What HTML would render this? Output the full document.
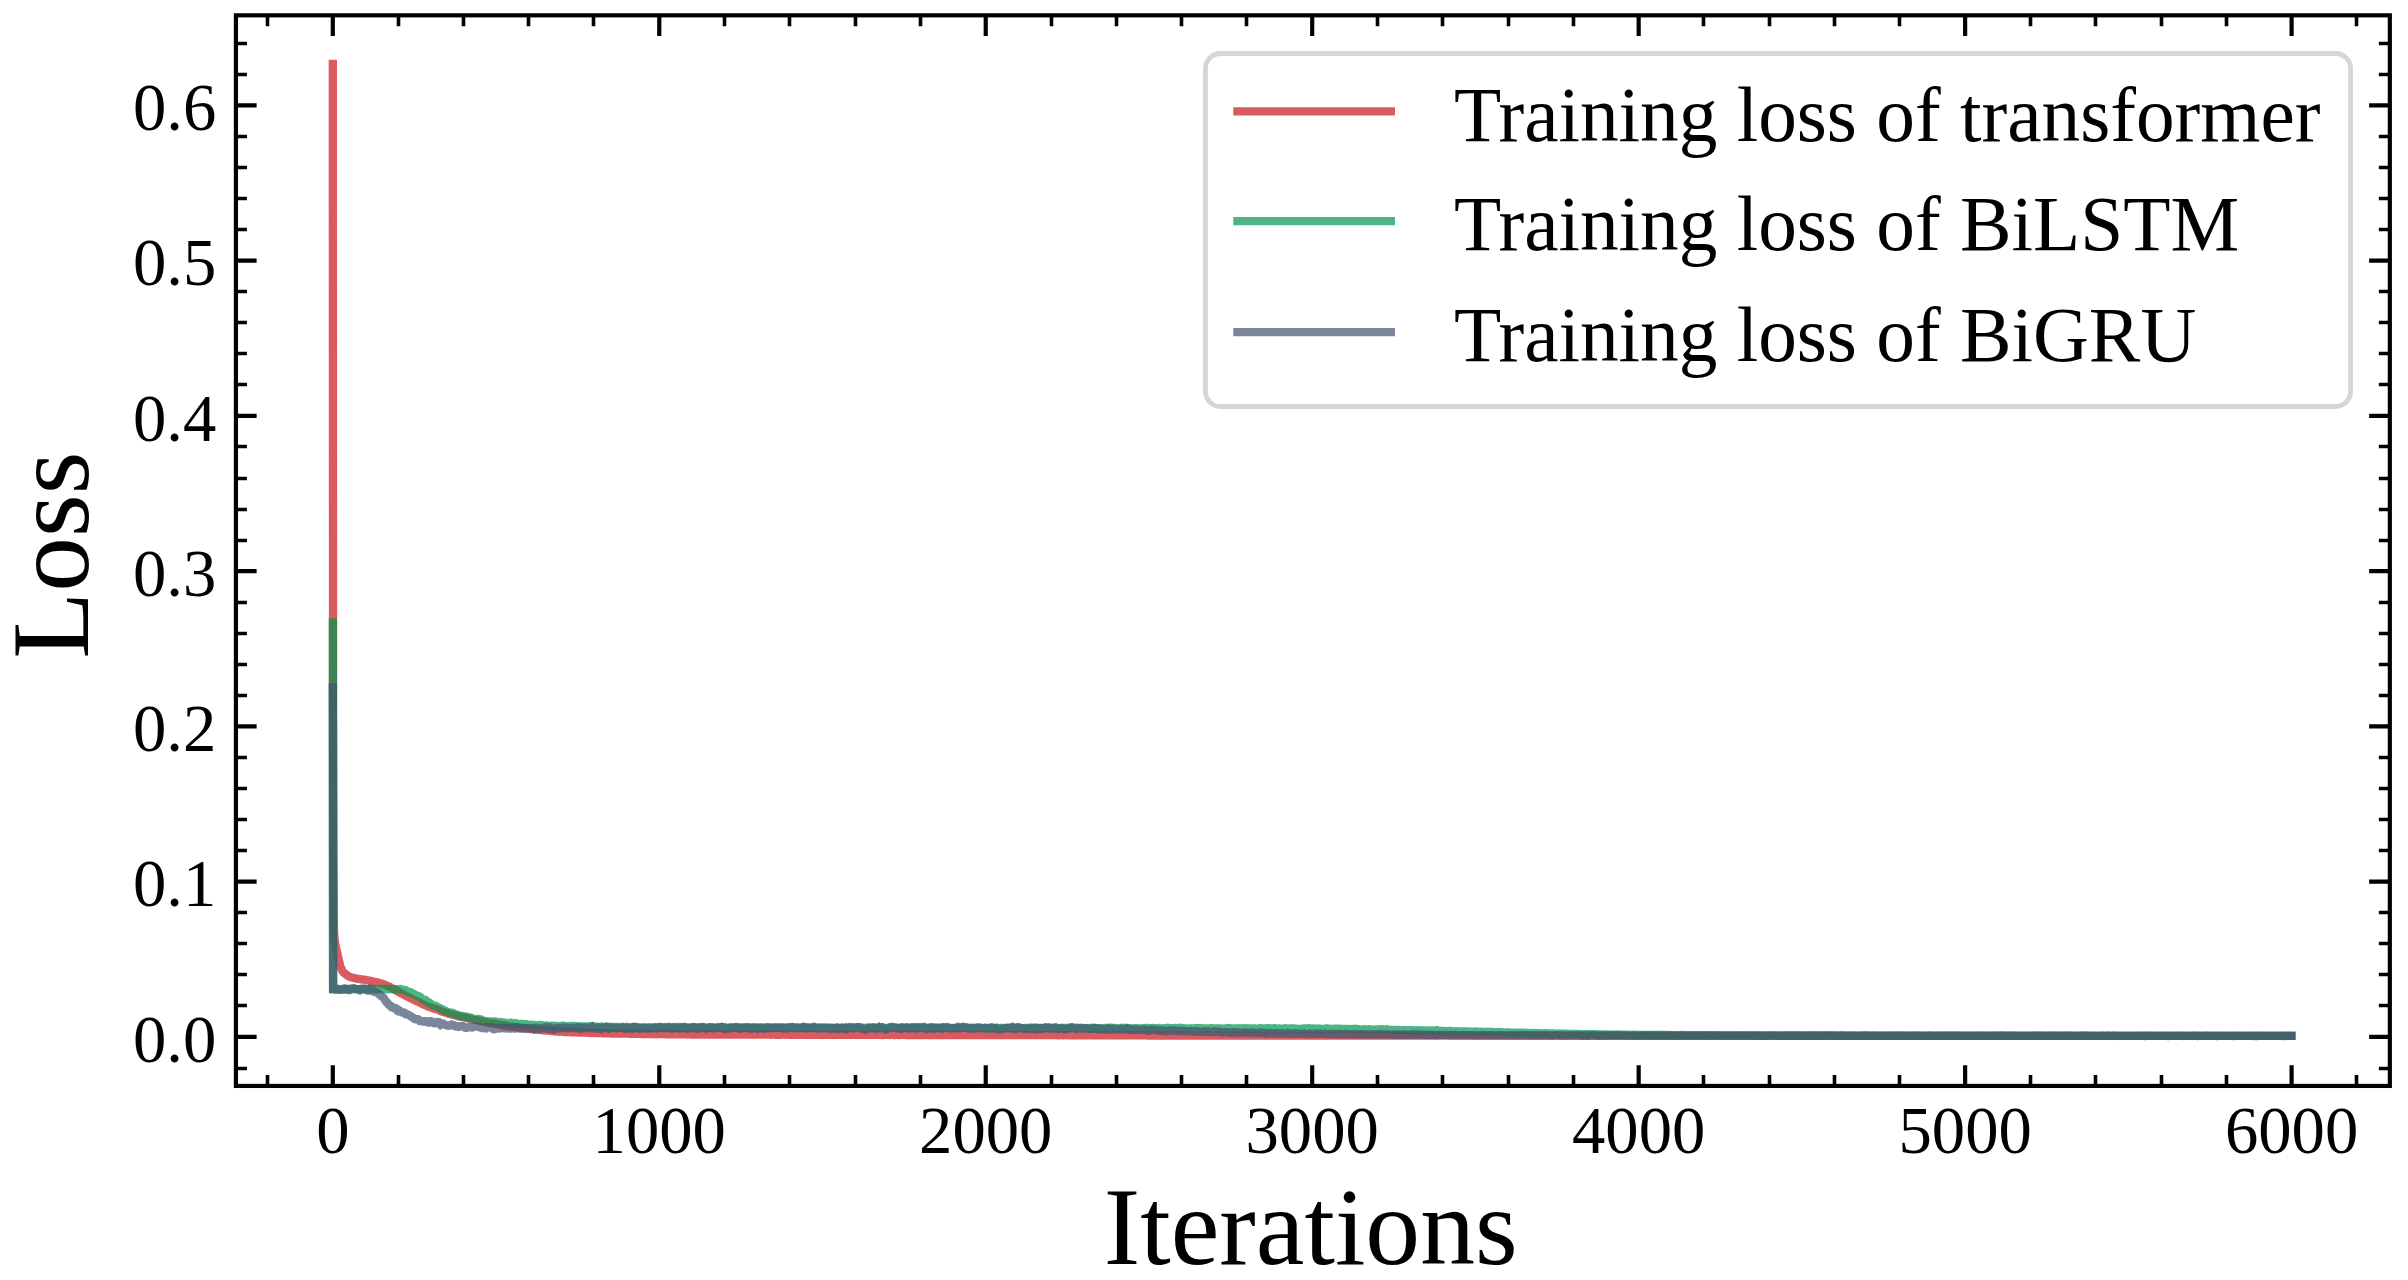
<!DOCTYPE html>
<html lang="en"><head><meta charset="utf-8"><title>Training loss</title>
<style>
html,body{margin:0;padding:0;background:#fff;}
body{width:2408px;height:1280px;overflow:hidden;}
svg{display:block;}
text{font-family:"Liberation Serif",serif;fill:#000;}
.tk{font-size:66.67px;}
.lb{font-size:109.6px;}
.lg{font-size:77.3px;}
</style></head><body>
<svg width="2408" height="1280" viewBox="0 0 2408 1280">
<rect width="2408" height="1280" fill="#fff"/>

<defs><clipPath id="ax"><rect x="235.92" y="15.33" width="2153.92" height="1070.61"/></clipPath></defs>
<g clip-path="url(#ax)" fill="none" stroke-linejoin="miter" stroke-miterlimit="1.6" stroke-linecap="square" stroke-width="8.33" stroke-opacity="0.70">
<polyline stroke="rgb(201,21,28)" points="332.8,64.0 333.1,700.0 333.5,860.0 333.8,920.0 334.1,932.4 334.4,938.1 334.8,941.1 335.1,943.3 335.4,944.9 335.7,946.3 336.1,947.7 336.4,949.3 336.7,950.8 337.0,952.2 337.4,953.6 337.7,955.0 338.0,956.4 338.3,957.7 338.7,959.2 339.0,960.7 339.3,962.2 339.7,963.6 340.0,964.9 340.3,966.1 340.6,967.0 341.0,967.7 341.3,968.5 341.6,969.2 341.9,969.9 342.3,970.6 342.6,971.2 342.9,971.7 343.2,972.2 343.6,972.6 343.9,972.9 344.2,973.2 344.6,973.4 344.9,973.6 345.2,973.9 345.5,974.1 345.9,974.3 346.2,974.6 346.5,974.8 346.8,975.1 347.2,975.3 347.5,975.6 347.8,975.8 348.1,976.0 348.5,976.2 348.8,976.4 349.1,976.6 349.4,976.7 349.8,976.8 350.1,977.0 350.4,977.1 350.8,977.2 351.1,977.3 351.4,977.4 351.7,977.4 352.1,977.5 352.4,977.6 353.0,977.8 353.7,977.9 354.3,978.1 355.0,978.3 355.7,978.5 356.3,978.6 357.0,978.7 357.6,978.8 358.3,978.8 358.9,978.9 359.6,979.0 360.2,979.2 360.9,979.3 361.5,979.5 362.2,979.6 362.8,979.6 363.5,979.6 364.1,979.6 364.8,979.7 365.4,979.9 366.1,980.1 366.8,980.2 367.4,980.3 368.1,980.4 368.7,980.5 369.4,980.7 370.0,980.8 370.7,980.9 371.3,981.0 372.0,981.1 372.6,981.3 373.3,981.5 373.9,981.6 374.6,981.7 375.2,981.9 375.9,982.1 376.5,982.2 377.2,982.3 377.9,982.5 378.5,982.7 379.2,983.0 379.8,983.2 380.5,983.4 381.1,983.5 381.8,983.7 382.4,983.8 383.1,984.1 383.7,984.3 384.4,984.5 385.0,984.8 385.7,985.1 386.3,985.5 387.0,985.7 387.6,985.9 388.3,986.1 389.0,986.4 389.6,986.7 390.3,987.1 390.9,987.6 391.6,988.0 392.2,988.4 392.9,988.7 393.5,988.9 394.2,989.2 394.8,989.6 395.5,990.0 396.1,990.3 396.8,990.8 397.4,991.3 398.1,991.7 398.7,992.0 399.4,992.3 400.1,992.7 400.7,993.1 401.4,993.4 402.0,993.7 402.7,994.1 403.3,994.4 404.0,994.8 404.6,995.2 405.3,995.6 405.9,995.8 406.6,996.1 407.2,996.5 407.9,996.9 408.5,997.2 409.2,997.5 409.8,997.9 410.5,998.2 411.2,998.5 411.8,998.9 412.5,999.2 413.1,999.5 413.8,999.9 414.4,1000.2 415.1,1000.5 415.7,1000.8 416.4,1001.1 417.0,1001.4 417.7,1001.7 418.3,1001.9 419.0,1002.2 419.6,1002.6 420.3,1002.9 420.9,1003.2 421.6,1003.6 422.3,1003.9 422.9,1004.2 423.6,1004.5 424.2,1004.8 424.9,1005.1 425.5,1005.3 426.2,1005.6 426.8,1005.8 427.5,1006.1 428.1,1006.5 428.8,1006.8 429.4,1007.1 430.1,1007.3 430.7,1007.4 431.4,1007.6 432.0,1007.9 432.7,1008.2 433.4,1008.5 434.0,1008.7 434.7,1008.8 435.3,1008.9 436.0,1009.1 436.6,1009.4 437.3,1009.6 437.9,1009.8 438.6,1010.0 439.2,1010.3 439.9,1010.7 440.5,1011.0 441.2,1011.2 441.8,1011.5 442.5,1011.7 443.1,1011.8 443.8,1012.0 444.5,1012.2 445.1,1012.4 445.8,1012.7 446.4,1012.9 447.1,1013.1 447.7,1013.3 448.4,1013.6 449.0,1013.7 449.7,1013.9 450.3,1014.1 451.0,1014.3 451.6,1014.5 452.3,1014.7 452.9,1014.9 453.6,1015.0 454.2,1015.1 454.9,1015.2 455.6,1015.4 456.2,1015.7 456.9,1015.9 457.5,1016.1 458.2,1016.2 458.8,1016.3 459.5,1016.5 460.1,1016.7 460.8,1016.7 461.4,1016.8 462.1,1016.9 462.7,1017.1 463.4,1017.2 464.0,1017.4 464.7,1017.6 465.3,1017.8 466.0,1017.9 466.7,1017.9 467.3,1018.0 468.0,1018.2 468.6,1018.5 469.3,1018.7 469.9,1018.8 470.6,1018.9 471.2,1019.1 471.9,1019.2 472.5,1019.4 473.2,1019.6 473.8,1019.7 474.5,1019.8 475.1,1019.8 475.8,1019.9 476.4,1020.0 477.1,1020.4 477.8,1020.6 478.4,1020.7 479.1,1020.9 479.7,1021.0 480.4,1021.0 481.0,1021.1 481.7,1021.4 482.3,1021.6 483.0,1021.8 483.6,1021.9 484.3,1021.9 484.9,1021.9 485.6,1022.0 486.2,1022.1 486.9,1022.2 487.5,1022.4 488.2,1022.6 488.9,1022.7 489.5,1022.9 490.2,1023.1 490.8,1023.3 491.5,1023.4 492.1,1023.4 492.8,1023.4 493.4,1023.6 494.1,1023.7 494.7,1023.7 495.4,1023.8 496.0,1023.9 496.7,1024.0 497.3,1024.1 498.0,1024.3 498.6,1024.5 499.3,1024.6 500.0,1024.6 500.6,1024.8 501.3,1025.0 501.9,1025.1 502.6,1025.2 503.2,1025.4 503.9,1025.5 504.5,1025.5 505.2,1025.4 505.8,1025.4 506.5,1025.6 507.1,1025.9 507.8,1026.2 508.4,1026.3 509.1,1026.4 509.7,1026.4 510.4,1026.5 511.1,1026.5 511.7,1026.6 512.4,1026.6 513.0,1026.7 513.7,1026.9 514.3,1027.1 515.0,1027.1 515.6,1027.2 516.3,1027.3 516.9,1027.4 517.6,1027.5 518.2,1027.5 518.9,1027.7 519.5,1027.7 520.2,1027.6 520.8,1027.6 521.5,1027.8 522.2,1028.0 522.8,1028.1 523.5,1028.0 524.1,1028.0 524.8,1028.0 525.4,1028.1 526.1,1028.2 526.7,1028.3 527.4,1028.5 528.0,1028.6 528.7,1028.8 529.3,1028.9 530.0,1029.0 530.6,1029.0 531.3,1029.0 531.9,1029.1 532.6,1029.2 533.3,1029.3 533.9,1029.4 534.6,1029.6 535.2,1029.6 535.9,1029.6 536.5,1029.7 537.2,1029.8 537.8,1029.9 538.5,1029.9 539.1,1029.9 539.8,1029.9 540.4,1030.0 541.1,1030.1 541.7,1030.2 542.4,1030.3 543.0,1030.2 543.7,1030.2 544.4,1030.3 545.0,1030.4 545.7,1030.5 546.3,1030.5 547.0,1030.6 547.6,1030.6 548.3,1030.7 548.9,1030.7 549.6,1030.8 550.2,1031.0 550.9,1031.1 551.5,1031.0 552.2,1031.1 552.8,1031.2 553.5,1031.2 554.1,1031.3 554.8,1031.3 555.5,1031.4 556.1,1031.5 556.8,1031.5 557.4,1031.5 558.1,1031.5 558.7,1031.6 559.4,1031.7 560.0,1031.6 560.7,1031.6 561.3,1031.6 562.0,1031.6 562.6,1031.7 563.3,1031.8 563.9,1031.9 564.6,1032.0 565.2,1032.0 565.9,1032.0 566.6,1032.0 567.2,1032.1 567.9,1032.2 568.5,1032.2 569.2,1032.1 569.8,1032.1 570.5,1032.2 571.1,1032.3 571.8,1032.3 572.4,1032.2 573.1,1032.3 573.7,1032.3 574.4,1032.3 575.0,1032.3 575.7,1032.4 576.3,1032.4 577.0,1032.4 577.7,1032.4 578.3,1032.5 579.0,1032.5 579.6,1032.5 580.3,1032.5 580.9,1032.5 581.6,1032.6 582.2,1032.6 582.9,1032.7 583.5,1032.7 584.2,1032.7 584.8,1032.7 585.5,1032.6 586.1,1032.6 586.8,1032.7 587.4,1032.7 588.1,1032.8 588.7,1032.8 589.4,1032.8 590.1,1032.9 590.7,1032.9 591.4,1033.0 592.0,1033.0 592.7,1032.9 593.3,1032.9 594.0,1032.9 594.6,1032.9 595.3,1033.0 595.9,1033.0 596.6,1033.1 597.2,1033.1 597.9,1033.1 598.5,1033.1 599.2,1033.1 599.8,1033.1 600.5,1033.2 601.2,1033.2 601.8,1033.2 602.5,1033.2 603.1,1033.3 603.8,1033.3 604.4,1033.3 605.1,1033.3 605.7,1033.3 606.4,1033.3 607.0,1033.3 607.7,1033.4 608.3,1033.4 609.0,1033.4 609.6,1033.4 610.3,1033.4 610.9,1033.4 611.6,1033.5 612.3,1033.5 612.9,1033.6 613.6,1033.6 614.2,1033.6 614.9,1033.5 615.5,1033.6 616.2,1033.6 616.8,1033.6 617.5,1033.5 618.1,1033.5 618.8,1033.6 619.4,1033.6 620.1,1033.6 620.7,1033.6 621.4,1033.7 622.0,1033.7 622.7,1033.7 623.4,1033.7 624.0,1033.7 624.7,1033.7 625.3,1033.7 626.0,1033.7 626.6,1033.7 627.3,1033.7 627.9,1033.7 628.6,1033.7 629.2,1033.7 629.9,1033.8 630.5,1033.8 631.2,1033.8 631.8,1033.8 632.5,1033.8 633.1,1033.8 633.8,1033.8 634.5,1033.9 635.1,1033.9 635.8,1033.9 636.4,1033.8 637.1,1033.8 637.7,1033.8 638.4,1033.9 639.0,1033.9 639.7,1033.9 640.3,1033.9 641.0,1034.0 641.6,1034.0 642.3,1034.0 642.9,1033.9 643.6,1033.9 644.2,1034.0 644.9,1034.0 645.6,1034.0 646.2,1034.0 646.9,1034.0 647.5,1034.0 648.2,1034.0 648.8,1034.0 649.5,1034.0 650.1,1034.0 650.8,1034.1 651.4,1034.1 652.1,1034.1 652.7,1034.1 653.4,1034.1 654.0,1034.1 654.7,1034.1 655.3,1034.1 656.0,1034.2 656.7,1034.1 657.3,1034.1 658.0,1034.1 658.6,1034.1 659.3,1034.2 659.9,1034.2 660.6,1034.2 661.2,1034.2 661.9,1034.2 662.5,1034.2 663.2,1034.1 663.8,1034.1 664.5,1034.2 665.1,1034.2 665.8,1034.3 666.4,1034.3 667.1,1034.3 667.8,1034.3 668.4,1034.3 669.1,1034.3 669.7,1034.3 670.4,1034.3 671.0,1034.3 671.7,1034.3 672.3,1034.2 673.0,1034.2 673.6,1034.3 674.3,1034.3 674.9,1034.3 675.6,1034.3 676.2,1034.3 676.9,1034.3 677.5,1034.3 678.2,1034.4 678.9,1034.4 679.5,1034.4 680.2,1034.4 680.8,1034.4 681.5,1034.4 682.1,1034.4 682.8,1034.4 683.4,1034.4 684.1,1034.4 684.7,1034.4 685.4,1034.4 686.0,1034.4 686.7,1034.4 687.3,1034.5 688.0,1034.4 688.6,1034.4 689.3,1034.4 690.0,1034.4 690.6,1034.4 691.3,1034.5 691.9,1034.5 692.6,1034.5 693.2,1034.5 693.9,1034.5 694.5,1034.5 695.2,1034.5 695.8,1034.5 696.5,1034.5 697.1,1034.5 697.8,1034.5 698.4,1034.5 699.1,1034.5 699.7,1034.5 700.4,1034.5 701.1,1034.5 701.7,1034.5 702.4,1034.5 703.0,1034.5 703.7,1034.5 704.3,1034.5 705.0,1034.5 705.6,1034.5 706.3,1034.5 706.9,1034.6 707.6,1034.6 708.2,1034.5 708.9,1034.5 709.5,1034.5 710.2,1034.5 710.8,1034.5 711.5,1034.5 712.2,1034.5 712.8,1034.6 713.5,1034.6 714.1,1034.6 714.8,1034.6 715.4,1034.6 716.1,1034.6 716.7,1034.6 717.4,1034.6 718.0,1034.6 718.7,1034.6 719.3,1034.5 720.0,1034.6 720.6,1034.6 721.3,1034.6 721.9,1034.6 722.6,1034.6 723.3,1034.6 723.9,1034.6 724.6,1034.6 725.2,1034.6 725.9,1034.6 726.5,1034.6 727.2,1034.6 727.8,1034.6 728.5,1034.6 729.1,1034.6 729.8,1034.6 730.4,1034.6 731.1,1034.6 731.7,1034.6 732.4,1034.6 733.0,1034.6 733.7,1034.7 734.4,1034.7 735.0,1034.6 735.7,1034.6 736.3,1034.6 737.0,1034.6 737.6,1034.6 738.3,1034.6 738.9,1034.6 739.6,1034.6 740.2,1034.6 740.9,1034.6 741.5,1034.7 742.2,1034.7 742.8,1034.7 743.5,1034.7 744.1,1034.7 744.8,1034.7 745.5,1034.7 746.1,1034.7 746.8,1034.7 747.4,1034.7 748.1,1034.7 748.7,1034.7 749.4,1034.7 750.0,1034.7 750.7,1034.7 751.3,1034.6 752.0,1034.6 752.6,1034.7 753.3,1034.7 753.9,1034.7 754.6,1034.7 755.2,1034.7 755.9,1034.7 756.6,1034.7 757.2,1034.7 757.9,1034.7 758.5,1034.7 759.2,1034.7 759.8,1034.7 760.5,1034.7 761.1,1034.7 761.8,1034.7 762.4,1034.7 763.1,1034.7 763.7,1034.7 764.4,1034.7 765.0,1034.7 765.7,1034.7 766.3,1034.7 767.0,1034.7 767.7,1034.7 768.3,1034.7 769.0,1034.7 769.6,1034.7 770.3,1034.8 770.9,1034.7 771.6,1034.7 772.2,1034.7 772.9,1034.7 773.5,1034.7 774.2,1034.7 774.8,1034.7 775.5,1034.8 776.1,1034.8 776.8,1034.8 777.4,1034.8 778.1,1034.8 778.8,1034.7 779.4,1034.7 780.1,1034.8 780.7,1034.8 781.4,1034.8 782.0,1034.7 782.7,1034.7 783.3,1034.7 784.0,1034.7 784.6,1034.7 785.3,1034.8 785.9,1034.8 786.6,1034.7 787.2,1034.7 787.9,1034.7 788.5,1034.7 789.2,1034.8 789.9,1034.8 790.5,1034.8 791.2,1034.8 791.8,1034.8 792.5,1034.8 793.1,1034.8 793.8,1034.8 794.4,1034.8 795.1,1034.8 795.7,1034.8 796.4,1034.8 797.0,1034.8 797.7,1034.8 798.3,1034.8 799.0,1034.8 799.6,1034.8 800.3,1034.8 801.0,1034.7 801.6,1034.7 802.3,1034.7 802.9,1034.8 803.6,1034.8 804.2,1034.8 804.9,1034.8 805.5,1034.8 806.2,1034.8 806.8,1034.8 807.5,1034.8 808.1,1034.8 808.8,1034.8 809.4,1034.8 810.1,1034.8 810.7,1034.8 811.4,1034.8 812.1,1034.8 812.7,1034.8 813.4,1034.8 814.0,1034.8 814.7,1034.8 815.3,1034.8 816.0,1034.8 816.6,1034.8 817.3,1034.8 817.9,1034.8 818.6,1034.8 819.2,1034.8 819.9,1034.8 820.5,1034.8 821.2,1034.8 821.8,1034.8 822.5,1034.9 823.2,1034.9 823.8,1034.9 824.5,1034.9 825.1,1034.9 825.8,1034.9 826.4,1034.9 827.1,1034.9 827.7,1034.9 828.4,1034.9 829.0,1034.9 829.7,1034.8 830.3,1034.8 831.0,1034.8 831.6,1034.8 832.3,1034.8 832.9,1034.8 833.6,1034.9 834.3,1034.9 834.9,1034.9 835.6,1034.9 836.2,1034.9 836.9,1034.9 837.5,1034.9 838.2,1034.9 838.8,1034.9 839.5,1034.9 840.1,1034.9 840.8,1034.9 841.4,1034.9 842.1,1034.9 842.7,1034.9 843.4,1034.9 844.0,1034.9 844.7,1034.8 845.4,1034.8 846.0,1034.9 846.7,1034.9 847.3,1034.9 848.0,1034.8 848.6,1034.8 849.3,1034.9 849.9,1034.9 850.6,1034.9 851.2,1034.9 851.9,1034.9 852.5,1034.9 853.2,1034.9 853.8,1034.9 854.5,1034.9 855.1,1034.9 855.8,1034.9 856.5,1034.9 857.1,1034.8 857.8,1034.9 858.4,1034.9 859.1,1034.9 859.7,1034.9 860.4,1034.9 861.0,1034.9 861.7,1034.9 862.3,1034.9 863.0,1034.9 863.6,1034.9 864.3,1034.9 864.9,1034.9 865.6,1034.9 866.2,1034.9 866.9,1034.9 867.6,1034.9 868.2,1034.9 868.9,1034.9 869.5,1034.9 870.2,1034.9 870.8,1034.9 871.5,1034.9 872.1,1034.9 872.8,1034.9 873.4,1034.9 874.1,1034.9 874.7,1034.9 875.4,1034.9 876.0,1034.9 876.7,1034.9 877.3,1034.9 878.0,1034.9 878.7,1034.9 879.3,1034.9 880.0,1034.9 880.6,1034.9 881.3,1034.9 881.9,1035.0 882.6,1035.0 883.2,1034.9 883.9,1034.9 884.5,1034.9 885.2,1034.9 885.8,1034.9 886.5,1034.9 887.1,1034.9 887.8,1034.9 888.4,1034.9 889.1,1034.9 889.8,1035.0 890.4,1035.0 891.1,1034.9 891.7,1034.9 892.4,1034.9 893.0,1034.9 893.7,1035.0 894.3,1035.0 895.0,1035.0 895.6,1034.9 896.3,1034.9 896.9,1034.9 897.6,1034.9 898.2,1035.0 898.9,1035.0 899.5,1034.9 900.2,1034.9 900.9,1034.9 901.5,1034.9 902.2,1034.9 902.8,1034.9 903.5,1034.9 904.1,1034.9 904.8,1034.9 905.4,1035.0 906.1,1035.0 906.7,1034.9 907.4,1034.9 908.0,1035.0 908.7,1035.0 909.3,1035.0 910.0,1035.0 910.6,1035.0 911.3,1035.0 912.0,1035.0 912.6,1035.0 913.3,1035.0 913.9,1035.0 914.6,1035.0 915.2,1035.0 915.9,1035.0 916.5,1035.0 917.2,1035.0 917.8,1034.9 918.5,1034.9 919.1,1035.0 919.8,1035.0 920.4,1035.0 921.1,1035.0 921.7,1035.0 922.4,1035.0 923.1,1035.0 923.7,1035.0 924.4,1035.0 925.0,1035.0 925.7,1035.0 926.3,1035.0 927.0,1035.0 927.6,1035.0 928.3,1035.0 928.9,1035.0 929.6,1035.0 930.2,1035.0 930.9,1035.0 931.5,1035.0 932.2,1035.0 932.8,1035.0 933.5,1035.0 934.2,1035.0 934.8,1035.0 935.5,1035.0 936.1,1035.0 936.8,1035.0 937.4,1035.0 938.1,1035.0 938.7,1035.0 939.4,1035.0 940.0,1035.0 940.7,1035.0 941.3,1035.0 942.0,1035.0 942.6,1035.0 943.3,1035.0 943.9,1035.0 944.6,1035.0 945.3,1035.0 945.9,1035.1 946.6,1035.1 947.2,1035.0 947.9,1035.0 948.5,1035.0 949.2,1035.0 949.8,1035.0 950.5,1035.0 951.1,1035.0 951.8,1035.0 952.4,1035.0 953.1,1035.0 953.7,1035.0 954.4,1035.0 955.0,1035.0 955.7,1035.0 956.4,1035.0 957.0,1035.0 957.7,1035.0 958.3,1035.0 959.0,1035.0 959.6,1035.0 960.3,1035.0 960.9,1035.0 961.6,1035.0 962.2,1035.0 962.9,1035.0 963.5,1035.0 964.2,1035.1 964.8,1035.1 965.5,1035.0 966.1,1035.0 966.8,1035.0 967.5,1035.1 968.1,1035.1 968.8,1035.1 969.4,1035.1 970.1,1035.1 970.7,1035.1 971.4,1035.1 972.0,1035.1 972.7,1035.1 973.3,1035.1 974.0,1035.1 974.6,1035.1 975.3,1035.1 975.9,1035.1 976.6,1035.1 977.2,1035.1 977.9,1035.1 978.6,1035.1 979.2,1035.1 979.9,1035.1 980.5,1035.1 981.2,1035.1 981.8,1035.1 982.5,1035.1 983.1,1035.1 983.8,1035.1 984.4,1035.1 985.1,1035.1 985.7,1035.1 986.4,1035.1 987.0,1035.1 987.7,1035.1 988.3,1035.1 989.0,1035.1 989.7,1035.1 990.3,1035.1 991.0,1035.1 991.6,1035.1 992.3,1035.1 992.9,1035.1 993.6,1035.1 994.2,1035.1 994.9,1035.1 995.5,1035.1 996.2,1035.1 996.8,1035.1 997.5,1035.1 998.1,1035.1 998.8,1035.1 999.4,1035.1 1000.1,1035.1 1000.8,1035.1 1001.4,1035.1 1002.1,1035.2 1002.7,1035.1 1003.4,1035.1 1004.0,1035.1 1004.7,1035.1 1005.3,1035.1 1006.0,1035.1 1006.6,1035.1 1007.3,1035.1 1007.9,1035.1 1008.6,1035.1 1009.2,1035.1 1009.9,1035.1 1010.5,1035.1 1011.2,1035.1 1011.9,1035.1 1012.5,1035.1 1013.2,1035.1 1013.8,1035.1 1014.5,1035.1 1015.1,1035.1 1015.8,1035.1 1016.4,1035.1 1017.1,1035.2 1017.7,1035.2 1018.4,1035.2 1019.0,1035.2 1019.7,1035.1 1020.3,1035.1 1021.0,1035.2 1021.6,1035.2 1022.3,1035.2 1023.0,1035.1 1023.6,1035.1 1024.3,1035.2 1024.9,1035.2 1025.6,1035.2 1026.2,1035.1 1026.9,1035.1 1027.5,1035.1 1028.2,1035.1 1028.8,1035.1 1029.5,1035.1 1030.1,1035.1 1030.8,1035.1 1031.4,1035.1 1032.1,1035.2 1032.7,1035.2 1033.4,1035.2 1034.1,1035.2 1034.7,1035.2 1035.4,1035.2 1036.0,1035.2 1036.7,1035.2 1037.3,1035.2 1038.0,1035.2 1038.6,1035.2 1039.3,1035.2 1039.9,1035.2 1040.6,1035.2 1041.2,1035.2 1041.9,1035.2 1042.5,1035.2 1043.2,1035.2 1043.8,1035.2 1044.5,1035.2 1045.2,1035.2 1045.8,1035.2 1046.5,1035.2 1047.1,1035.2 1047.8,1035.2 1048.4,1035.2 1049.1,1035.2 1049.7,1035.2 1050.4,1035.2 1051.0,1035.2 1051.7,1035.2 1052.3,1035.2 1053.0,1035.2 1053.6,1035.2 1054.3,1035.2 1054.9,1035.2 1055.6,1035.2 1056.3,1035.2 1056.9,1035.3 1057.6,1035.3 1058.2,1035.3 1058.9,1035.3 1059.5,1035.3 1060.2,1035.2 1060.8,1035.2 1061.5,1035.2 1062.1,1035.2 1062.8,1035.3 1063.4,1035.3 1064.1,1035.2 1064.7,1035.2 1065.4,1035.2 1066.0,1035.2 1066.7,1035.3 1067.4,1035.3 1068.0,1035.2 1068.7,1035.2 1069.3,1035.2 1070.0,1035.3 1070.6,1035.3 1071.3,1035.3 1071.9,1035.3 1072.6,1035.3 1073.2,1035.3 1073.9,1035.3 1074.5,1035.3 1075.2,1035.2 1075.8,1035.2 1076.5,1035.3 1077.1,1035.3 1077.8,1035.3 1078.4,1035.3 1079.1,1035.3 1079.8,1035.3 1080.4,1035.3 1081.1,1035.3 1081.7,1035.3 1082.4,1035.3 1083.0,1035.3 1083.7,1035.3 1084.3,1035.3 1085.0,1035.3 1085.6,1035.3 1086.3,1035.3 1086.9,1035.3 1087.6,1035.3 1088.2,1035.3 1088.9,1035.3 1089.5,1035.3 1090.2,1035.3 1090.9,1035.3 1091.5,1035.3 1092.2,1035.3 1092.8,1035.3 1093.5,1035.3 1094.1,1035.3 1094.8,1035.3 1095.4,1035.3 1096.1,1035.3 1096.7,1035.3 1097.4,1035.3 1098.0,1035.3 1098.7,1035.3 1099.3,1035.3 1100.0,1035.3 1100.6,1035.3 1101.3,1035.3 1102.0,1035.3 1102.6,1035.3 1103.3,1035.3 1103.9,1035.3 1104.6,1035.3 1105.2,1035.4 1105.9,1035.4 1106.5,1035.3 1107.2,1035.3 1107.8,1035.3 1108.5,1035.3 1109.1,1035.3 1109.8,1035.3 1110.4,1035.3 1111.1,1035.4 1111.7,1035.4 1112.4,1035.4 1113.1,1035.4 1113.7,1035.4 1114.4,1035.4 1115.0,1035.3 1115.7,1035.3 1116.3,1035.4 1117.0,1035.4 1117.6,1035.4 1118.3,1035.4 1118.9,1035.4 1119.6,1035.4 1120.2,1035.4 1120.9,1035.4 1121.5,1035.4 1122.2,1035.4 1122.8,1035.4 1123.5,1035.4 1124.2,1035.4 1124.8,1035.4 1125.5,1035.4 1126.1,1035.4 1126.8,1035.4 1127.4,1035.4 1128.1,1035.4 1128.7,1035.4 1129.4,1035.4 1130.0,1035.4 1130.7,1035.4 1131.3,1035.4 1132.0,1035.4 1132.6,1035.4 1133.3,1035.4 1133.9,1035.4 1134.6,1035.4 1135.3,1035.4 1135.9,1035.4 1136.6,1035.4 1137.2,1035.4 1137.9,1035.4 1138.5,1035.4 1139.2,1035.4 1139.8,1035.4 1140.5,1035.4 1141.1,1035.5 1141.8,1035.4 1142.4,1035.4 1143.1,1035.4 1143.7,1035.4 1144.4,1035.4 1145.0,1035.4 1145.7,1035.4 1146.4,1035.4 1147.0,1035.4 1147.7,1035.5 1148.3,1035.5 1149.0,1035.5 1149.6,1035.5 1150.3,1035.5 1150.9,1035.4 1151.6,1035.4 1152.2,1035.5 1152.9,1035.5 1153.5,1035.5 1154.2,1035.5 1154.8,1035.5 1155.5,1035.5 1156.1,1035.5 1156.8,1035.5 1157.5,1035.5 1158.1,1035.5 1158.8,1035.5 1159.4,1035.5 1160.1,1035.5 1160.7,1035.5 1161.4,1035.5 1162.0,1035.5 1162.7,1035.5 1163.3,1035.5 1164.0,1035.5 1164.6,1035.5 1165.3,1035.5 1165.9,1035.5 1166.6,1035.5 1167.2,1035.5 1167.9,1035.5 1168.6,1035.5 1169.2,1035.5 1169.9,1035.5 1170.5,1035.5 1171.2,1035.5 1171.8,1035.5 1172.5,1035.5 1173.1,1035.5 1173.8,1035.5 1174.4,1035.5 1175.1,1035.5 1175.7,1035.5 1176.4,1035.5 1177.0,1035.5 1177.7,1035.5 1178.3,1035.5 1179.0,1035.5 1179.7,1035.5 1180.3,1035.5 1181.0,1035.5 1181.6,1035.5 1182.3,1035.5 1182.9,1035.5 1183.6,1035.5 1184.2,1035.5 1184.9,1035.5 1185.5,1035.5 1186.2,1035.5 1186.8,1035.5 1187.5,1035.5 1188.1,1035.5 1188.8,1035.5 1189.4,1035.5 1190.1,1035.5 1190.8,1035.6 1191.4,1035.6 1192.1,1035.5 1192.7,1035.5 1193.4,1035.5 1194.0,1035.5 1194.7,1035.5 1195.3,1035.5 1196.0,1035.5 1196.6,1035.5 1197.3,1035.5 1197.9,1035.5 1198.6,1035.5 1199.2,1035.5 1199.9,1035.5 1200.5,1035.6 1201.2,1035.6 1201.9,1035.6 1202.5,1035.6 1203.2,1035.6 1203.8,1035.6 1204.5,1035.5 1205.1,1035.5 1205.8,1035.5 1206.4,1035.6 1207.1,1035.5 1207.7,1035.5 1208.4,1035.5 1209.0,1035.6 1209.7,1035.6 1210.3,1035.6 1211.0,1035.6 1211.6,1035.6 1212.3,1035.6 1213.0,1035.6 1213.6,1035.6 1214.3,1035.6 1214.9,1035.6 1215.6,1035.6 1216.2,1035.6 1216.9,1035.6 1217.5,1035.6 1218.2,1035.6 1218.8,1035.6 1219.5,1035.6 1220.1,1035.6 1220.8,1035.6 1221.4,1035.6 1222.1,1035.6 1222.7,1035.6 1223.4,1035.6 1224.1,1035.6 1224.7,1035.6 1225.4,1035.6 1226.0,1035.6 1226.7,1035.6 1227.3,1035.6 1228.0,1035.6 1228.6,1035.6 1229.3,1035.6 1229.9,1035.6 1230.6,1035.6 1231.2,1035.6 1231.9,1035.6 1232.5,1035.6 1233.2,1035.6 1233.8,1035.6 1234.5,1035.6 1235.2,1035.6 1235.8,1035.6 1236.5,1035.6 1237.1,1035.6 1237.8,1035.6 1238.4,1035.6 1239.1,1035.6 1239.7,1035.6 1240.4,1035.6 1241.0,1035.6 1241.7,1035.6 1242.3,1035.6 1243.0,1035.6 1243.6,1035.6 1244.3,1035.6 1244.9,1035.6 1245.6,1035.6 1246.3,1035.6 1246.9,1035.6 1247.6,1035.6 1248.2,1035.6 1248.9,1035.6 1249.5,1035.6 1250.2,1035.6 1250.8,1035.6 1251.5,1035.6 1252.1,1035.6 1252.8,1035.6 1253.4,1035.6 1254.1,1035.6 1254.7,1035.6 1255.4,1035.6 1256.0,1035.6 1256.7,1035.6 1257.4,1035.6 1258.0,1035.6 1258.7,1035.6 1259.3,1035.6 1260.0,1035.6 1260.6,1035.6 1261.3,1035.6 1261.9,1035.6 1262.6,1035.6 1263.2,1035.6 1263.9,1035.6 1264.5,1035.6 1265.2,1035.6 1265.8,1035.6 1266.5,1035.6 1267.1,1035.6 1267.8,1035.6 1268.5,1035.6 1269.1,1035.6 1269.8,1035.6 1270.4,1035.6 1271.1,1035.6 1271.7,1035.6 1272.4,1035.6 1273.0,1035.6 1273.7,1035.6 1274.3,1035.6 1275.0,1035.6 1275.6,1035.6 1276.3,1035.6 1276.9,1035.6 1277.6,1035.6 1278.2,1035.6 1278.9,1035.6 1279.6,1035.6 1280.2,1035.6 1280.9,1035.6 1281.5,1035.6 1282.2,1035.6 1282.8,1035.6 1283.5,1035.6 1284.1,1035.6 1284.8,1035.6 1285.4,1035.6 1286.1,1035.6 1286.7,1035.6 1287.4,1035.6 1288.0,1035.6 1288.7,1035.6 1289.3,1035.6 1290.0,1035.6 1290.7,1035.6 1291.3,1035.6 1292.0,1035.6 1292.6,1035.6 1293.3,1035.6 1293.9,1035.6 1294.6,1035.6 1295.2,1035.6 1295.9,1035.6 1296.5,1035.6 1297.2,1035.6 1297.8,1035.6 1298.5,1035.6 1299.1,1035.6 1299.8,1035.6 1300.4,1035.6 1301.1,1035.6 1301.8,1035.6 1302.4,1035.6 1303.1,1035.6 1303.7,1035.7 1304.4,1035.7 1305.0,1035.7 1305.7,1035.6 1306.3,1035.6 1307.0,1035.6 1307.6,1035.7 1308.3,1035.7 1308.9,1035.6 1309.6,1035.6 1310.2,1035.6 1310.9,1035.6 1311.5,1035.7 1312.2,1035.7 1312.9,1035.6 1313.5,1035.6 1314.2,1035.6 1314.8,1035.6 1315.5,1035.6 1316.1,1035.6 1316.8,1035.6 1317.4,1035.6 1318.1,1035.6 1318.7,1035.6 1319.4,1035.6 1320.0,1035.6 1320.7,1035.6 1321.3,1035.6 1322.0,1035.6 1322.6,1035.6 1323.3,1035.7 1324.0,1035.7 1324.6,1035.7 1325.3,1035.6 1325.9,1035.6 1326.6,1035.6 1327.2,1035.6 1327.9,1035.6 1328.5,1035.6 1329.2,1035.6 1329.8,1035.6 1330.5,1035.6 1331.1,1035.6 1331.8,1035.6 1332.4,1035.6 1333.1,1035.6 1333.7,1035.6 1334.4,1035.6 1335.1,1035.6 1335.7,1035.6 1336.4,1035.7 1337.0,1035.7 1337.7,1035.7 1338.3,1035.7 1339.0,1035.7 1339.6,1035.6 1340.3,1035.6 1340.9,1035.6 1341.6,1035.6 1342.2,1035.7 1342.9,1035.7 1343.5,1035.7 1344.2,1035.6 1344.8,1035.6 1345.5,1035.6 1346.2,1035.6 1346.8,1035.6 1347.5,1035.6 1348.1,1035.6 1348.8,1035.7 1349.4,1035.7 1350.1,1035.7 1350.7,1035.7 1351.4,1035.7 1352.0,1035.7 1352.7,1035.7 1353.3,1035.7 1354.0,1035.7 1354.6,1035.7 1355.3,1035.7 1355.9,1035.7 1356.6,1035.7 1357.3,1035.7 1357.9,1035.7 1358.6,1035.7 1359.2,1035.7 1359.9,1035.7 1360.5,1035.7 1361.2,1035.7 1361.8,1035.7 1362.5,1035.7 1363.1,1035.7 1363.8,1035.7 1364.4,1035.7 1365.1,1035.7 1365.7,1035.7 1366.4,1035.7 1367.0,1035.7 1367.7,1035.7 1368.4,1035.6 1369.0,1035.6 1369.7,1035.6 1370.3,1035.7 1371.0,1035.7 1371.6,1035.6 1372.3,1035.7 1372.9,1035.7 1373.6,1035.7 1374.2,1035.7 1374.9,1035.7 1375.5,1035.7 1376.2,1035.7 1376.8,1035.7 1377.5,1035.7 1378.1,1035.7 1378.8,1035.7 1379.5,1035.7 1380.1,1035.7 1380.8,1035.7 1381.4,1035.7 1382.1,1035.7 1382.7,1035.7 1383.4,1035.7 1384.0,1035.7 1384.7,1035.7 1385.3,1035.7 1386.0,1035.7 1386.6,1035.7 1387.3,1035.6 1387.9,1035.7 1388.6,1035.7 1389.2,1035.7 1389.9,1035.7 1390.6,1035.7 1391.2,1035.7 1391.9,1035.7 1392.5,1035.7 1393.2,1035.7 1393.8,1035.7 1394.5,1035.7 1395.1,1035.7 1395.8,1035.7 1396.4,1035.7 1397.1,1035.7 1397.7,1035.7 1398.4,1035.7 1399.0,1035.7 1399.7,1035.7 1400.3,1035.7 1401.0,1035.7 1401.7,1035.7 1402.3,1035.7 1403.0,1035.7 1403.6,1035.7 1404.3,1035.7 1404.9,1035.7 1405.6,1035.7 1406.2,1035.7 1406.9,1035.7 1407.5,1035.7 1408.2,1035.7 1408.8,1035.7 1409.5,1035.7 1410.1,1035.7 1410.8,1035.7 1411.4,1035.7 1412.1,1035.7 1412.8,1035.7 1413.4,1035.7 1414.1,1035.7 1414.7,1035.7 1415.4,1035.7 1416.0,1035.7 1416.7,1035.7 1417.3,1035.7 1418.0,1035.7 1418.6,1035.7 1419.3,1035.7 1419.9,1035.7 1420.6,1035.7 1421.2,1035.7 1421.9,1035.7 1422.5,1035.7 1423.2,1035.7 1423.9,1035.7 1424.5,1035.7 1425.2,1035.7 1425.8,1035.7 1426.5,1035.7 1427.1,1035.7 1427.8,1035.7 1428.4,1035.7 1429.1,1035.7 1429.7,1035.7 1430.4,1035.7 1431.0,1035.7 1431.7,1035.7 1432.3,1035.7 1433.0,1035.7 1433.6,1035.7 1434.3,1035.7 1435.0,1035.7 1435.6,1035.7 1436.3,1035.7 1436.9,1035.7 1437.6,1035.7 1438.2,1035.7 1438.9,1035.7 1439.5,1035.7 1440.2,1035.7 1440.8,1035.7 1441.5,1035.7 1442.1,1035.7 1442.8,1035.7 1443.4,1035.7 1444.1,1035.7 1444.7,1035.7 1445.4,1035.7 1446.1,1035.7 1446.7,1035.7 1447.4,1035.7 1448.0,1035.7 1448.7,1035.7 1449.3,1035.7 1450.0,1035.7 1450.6,1035.7 1451.3,1035.7 1451.9,1035.7 1452.6,1035.7 1453.2,1035.7 1453.9,1035.7 1454.5,1035.7 1455.2,1035.7 1455.8,1035.7 1456.5,1035.7 1457.2,1035.7 1457.8,1035.7 1458.5,1035.7 1459.1,1035.7 1459.8,1035.7 1460.4,1035.7 1461.1,1035.7 1461.7,1035.7 1462.4,1035.7 1463.0,1035.7 1463.7,1035.7 1464.3,1035.7 1465.0,1035.7 1465.6,1035.7 1466.3,1035.7 1466.9,1035.7 1467.6,1035.7 1468.3,1035.7 1468.9,1035.7 1469.6,1035.7 1470.2,1035.7 1470.9,1035.7 1471.5,1035.7 1472.2,1035.7 1472.8,1035.7 1473.5,1035.7 1474.1,1035.7 1474.8,1035.7 1475.4,1035.7 1476.1,1035.7 1476.7,1035.7 1477.4,1035.7 1478.0,1035.7 1478.7,1035.7 1479.4,1035.7 1480.0,1035.7 1480.7,1035.7 1481.3,1035.7 1482.0,1035.7 1482.6,1035.7 1483.3,1035.7 1483.9,1035.7 1484.6,1035.7 1485.2,1035.7 1485.9,1035.7 1486.5,1035.7 1487.2,1035.7 1487.8,1035.7 1488.5,1035.7 1489.1,1035.7 1489.8,1035.7 1490.5,1035.7 1491.1,1035.7 1491.8,1035.7 1492.4,1035.7 1493.1,1035.7 1493.7,1035.7 1494.4,1035.7 1495.0,1035.7 1495.7,1035.7 1496.3,1035.7 1497.0,1035.7 1497.6,1035.7 1498.3,1035.7 1498.9,1035.7 1499.6,1035.7 1500.2,1035.7 1500.9,1035.7 1501.6,1035.7 1502.2,1035.7 1502.9,1035.7 1503.5,1035.7 1504.2,1035.7 1504.8,1035.7 1505.5,1035.7 1506.1,1035.7 1506.8,1035.7 1507.4,1035.7 1508.1,1035.7 1508.7,1035.7 1509.4,1035.7 1510.0,1035.7 1510.7,1035.7 1511.3,1035.7 1512.0,1035.7 1512.7,1035.7 1513.3,1035.7 1514.0,1035.7 1514.6,1035.7 1515.3,1035.7 1515.9,1035.7 1516.6,1035.7 1517.2,1035.7 1517.9,1035.7 1518.5,1035.7 1519.2,1035.7 1519.8,1035.7 1520.5,1035.7 1521.1,1035.7 1521.8,1035.7 1522.4,1035.7 1523.1,1035.7 1523.8,1035.7 1524.4,1035.7 1525.1,1035.7 1525.7,1035.7 1526.4,1035.7 1527.0,1035.7 1527.7,1035.7 1528.3,1035.7 1529.0,1035.7 1529.6,1035.7 1530.3,1035.7 1530.9,1035.7 1531.6,1035.7 1532.2,1035.7 1532.9,1035.7 1533.5,1035.7 1534.2,1035.7 1534.9,1035.7 1535.5,1035.7 1536.2,1035.7 1536.8,1035.7 1537.5,1035.7 1538.1,1035.7 1538.8,1035.7 1539.4,1035.7 1540.1,1035.7 1540.7,1035.7 1541.4,1035.7 1542.0,1035.7 1542.7,1035.7 1543.3,1035.7 1544.0,1035.7 1544.6,1035.7 1545.3,1035.7 1546.0,1035.7 1546.6,1035.7 1547.3,1035.7 1547.9,1035.7 1548.6,1035.7 1549.2,1035.7 1549.9,1035.7 1550.5,1035.7 1551.2,1035.7 1551.8,1035.7 1552.5,1035.7 1553.1,1035.7 1553.8,1035.7 1554.4,1035.7 1555.1,1035.7 1555.7,1035.7 1556.4,1035.7 1557.0,1035.7 1557.7,1035.7 1558.4,1035.7 1559.0,1035.7 1559.7,1035.7 1560.3,1035.7 1561.0,1035.7 1561.6,1035.7 1562.3,1035.7 1562.9,1035.7 1563.6,1035.7 1564.2,1035.8 1564.9,1035.8 1565.5,1035.8 1566.2,1035.7 1566.8,1035.7 1567.5,1035.7 1568.1,1035.7 1568.8,1035.7 1569.5,1035.7 1570.1,1035.7 1570.8,1035.7 1571.4,1035.7 1572.1,1035.7 1572.7,1035.7 1573.4,1035.7 1574.0,1035.7 1574.7,1035.7 1575.3,1035.7 1576.0,1035.7 1576.6,1035.7 1577.3,1035.7 1577.9,1035.7 1578.6,1035.7 1579.2,1035.7 1579.9,1035.7 1580.6,1035.7 1581.2,1035.7 1581.9,1035.8 1582.5,1035.8 1583.2,1035.8 1583.8,1035.8 1584.5,1035.8 1585.1,1035.8 1585.8,1035.8 1586.4,1035.8 1587.1,1035.8 1587.7,1035.8 1588.4,1035.8 1589.0,1035.8 1589.7,1035.7 1590.3,1035.7 1591.0,1035.7 1591.7,1035.7 1592.3,1035.7 1593.0,1035.7 1593.6,1035.7 1594.3,1035.7 1594.9,1035.7 1595.6,1035.7 1596.2,1035.7 1596.9,1035.7 1597.5,1035.8 1598.2,1035.8 1598.8,1035.8 1599.5,1035.8 1600.1,1035.8 1600.8,1035.8 1601.4,1035.8 1602.1,1035.8 1602.8,1035.8 1603.4,1035.7 1604.1,1035.7 1604.7,1035.7 1605.4,1035.8 1606.0,1035.8 1606.7,1035.8 1607.3,1035.8 1608.0,1035.8 1608.6,1035.8 1609.3,1035.7 1609.9,1035.7 1610.6,1035.7 1611.2,1035.7 1611.9,1035.7 1612.5,1035.8 1613.2,1035.7 1613.9,1035.7 1614.5,1035.7 1615.2,1035.7 1615.8,1035.7 1616.5,1035.7 1617.1,1035.7 1617.8,1035.8 1618.4,1035.8 1619.1,1035.8 1619.7,1035.7 1620.4,1035.7 1621.0,1035.7 1621.7,1035.7 1622.3,1035.7 1623.0,1035.7 1623.6,1035.8 1624.3,1035.8 1625.0,1035.8 1625.6,1035.8 1626.3,1035.8 1626.9,1035.8 1627.6,1035.8 1628.2,1035.7 1628.9,1035.7 1629.5,1035.7 1630.2,1035.7 1630.8,1035.7 1631.5,1035.8 1632.1,1035.8 1632.8,1035.8 1633.4,1035.8 1634.1,1035.8 1634.7,1035.8 1635.4,1035.8 1636.1,1035.8 1636.7,1035.8 1637.4,1035.8 1638.0,1035.8 1638.7,1035.8 1639.3,1035.8 1640.0,1035.8 1640.6,1035.8 1641.3,1035.8 1641.9,1035.8 1642.6,1035.8 1643.2,1035.8 1643.9,1035.8 1644.5,1035.8 1645.2,1035.8 1645.8,1035.8 1646.5,1035.8 1647.2,1035.8 1647.8,1035.8 1648.5,1035.8 1649.1,1035.8 1649.8,1035.7 1650.4,1035.7 1651.1,1035.7 1651.7,1035.7 1652.4,1035.7 1653.0,1035.7 1653.7,1035.8 1654.3,1035.8 1655.0,1035.8 1655.6,1035.8 1656.3,1035.8 1656.9,1035.8 1657.6,1035.8 1658.3,1035.8 1658.9,1035.8 1659.6,1035.8 1660.2,1035.8 1660.9,1035.8 1661.5,1035.8 1662.2,1035.8 1662.8,1035.8 1663.5,1035.8 1664.1,1035.8 1664.8,1035.8 1665.4,1035.8 1666.1,1035.8 1666.7,1035.8 1667.4,1035.8 1668.0,1035.8 1668.7,1035.8 1669.4,1035.8 1670.0,1035.8 1670.7,1035.8 1671.3,1035.8 1672.0,1035.8 1672.6,1035.8 1673.3,1035.8 1673.9,1035.8 1674.6,1035.8 1675.2,1035.8 1675.9,1035.8 1676.5,1035.8 1677.2,1035.8 1677.8,1035.8 1678.5,1035.8 1679.1,1035.8 1679.8,1035.8 1680.5,1035.8 1681.1,1035.8 1681.8,1035.8 1682.4,1035.8 1683.1,1035.7 1683.7,1035.7 1684.4,1035.8 1685.0,1035.8 1685.7,1035.8 1686.3,1035.8 1687.0,1035.8 1687.6,1035.8 1688.3,1035.8 1688.9,1035.8 1689.6,1035.8 1690.2,1035.8 1690.9,1035.8 1691.6,1035.8 1692.2,1035.8 1692.9,1035.8 1693.5,1035.8 1694.2,1035.8 1694.8,1035.8 1695.5,1035.8 1696.1,1035.8 1696.8,1035.8 1697.4,1035.8 1698.1,1035.8 1698.7,1035.8 1699.4,1035.8 1700.0,1035.8 1700.7,1035.8 1701.3,1035.8 1702.0,1035.8 1702.7,1035.8 1703.3,1035.8 1704.0,1035.8 1704.6,1035.8 1705.3,1035.8 1705.9,1035.8 1706.6,1035.8 1707.2,1035.8 1707.9,1035.8 1708.5,1035.8 1709.2,1035.8 1709.8,1035.8 1710.5,1035.8 1711.1,1035.8 1711.8,1035.8 1712.4,1035.8 1713.1,1035.8 1713.8,1035.8 1714.4,1035.8 1715.1,1035.8 1715.7,1035.8 1716.4,1035.8 1717.0,1035.8 1717.7,1035.8 1718.3,1035.8 1719.0,1035.8 1719.6,1035.8 1720.3,1035.8 1720.9,1035.8 1721.6,1035.8 1722.2,1035.8 1722.9,1035.8 1723.5,1035.8 1724.2,1035.8 1724.9,1035.8 1725.5,1035.8 1726.2,1035.8 1726.8,1035.8 1727.5,1035.8 1728.1,1035.8 1728.8,1035.8 1729.4,1035.8 1730.1,1035.8 1730.7,1035.8 1731.4,1035.8 1732.0,1035.8 1732.7,1035.8 1733.3,1035.8 1734.0,1035.8 1734.6,1035.8 1735.3,1035.8 1736.0,1035.8 1736.6,1035.8 1737.3,1035.8 1737.9,1035.8 1738.6,1035.8 1739.2,1035.8 1739.9,1035.8 1740.5,1035.8 1741.2,1035.8 1741.8,1035.8 1742.5,1035.8 1743.1,1035.8 1743.8,1035.8 1744.4,1035.8 1745.1,1035.8 1745.7,1035.8 1746.4,1035.8 1747.1,1035.8 1747.7,1035.8 1748.4,1035.8 1749.0,1035.8 1749.7,1035.8 1750.3,1035.8 1751.0,1035.8 1751.6,1035.8 1752.3,1035.8 1752.9,1035.8 1753.6,1035.8 1754.2,1035.8 1754.9,1035.8 1755.5,1035.8 1756.2,1035.8 1756.8,1035.8 1757.5,1035.8 1758.2,1035.8 1758.8,1035.8 1759.5,1035.8 1760.1,1035.8 1760.8,1035.8 1761.4,1035.8 1762.1,1035.8 1762.7,1035.8 1763.4,1035.8 1764.0,1035.8 1764.7,1035.8 1765.3,1035.8 1766.0,1035.8 1766.6,1035.8 1767.3,1035.8 1767.9,1035.8 1768.6,1035.8 1769.3,1035.8 1769.9,1035.8 1770.6,1035.8 1771.2,1035.8 1771.9,1035.8 1772.5,1035.8 1773.2,1035.8 1773.8,1035.8 1774.5,1035.8 1775.1,1035.8 1775.8,1035.8 1776.4,1035.8 1777.1,1035.8 1777.7,1035.8 1778.4,1035.8 1779.0,1035.8 1779.7,1035.8 1780.4,1035.8 1781.0,1035.8 1781.7,1035.8 1782.3,1035.8 1783.0,1035.8 1783.6,1035.8 1784.3,1035.8 1784.9,1035.8 1785.6,1035.8 1786.2,1035.8 1786.9,1035.8 1787.5,1035.8 1788.2,1035.8 1788.8,1035.8 1789.5,1035.8 1790.1,1035.8 1790.8,1035.8 1791.5,1035.8 1792.1,1035.8 1792.8,1035.8 1793.4,1035.8 1794.1,1035.8 1794.7,1035.8 1795.4,1035.8 1796.0,1035.8 1796.7,1035.8 1797.3,1035.8 1798.0,1035.8 1798.6,1035.8 1799.3,1035.8 1799.9,1035.8 1800.6,1035.8 1801.2,1035.8 1801.9,1035.8 1802.6,1035.8 1803.2,1035.8 1803.9,1035.8 1804.5,1035.8 1805.2,1035.8 1805.8,1035.8 1806.5,1035.8 1807.1,1035.8 1807.8,1035.8 1808.4,1035.8 1809.1,1035.8 1809.7,1035.8 1810.4,1035.8 1811.0,1035.8 1811.7,1035.8 1812.3,1035.8 1813.0,1035.8 1813.7,1035.8 1814.3,1035.8 1815.0,1035.8 1815.6,1035.8 1816.3,1035.8 1816.9,1035.8 1817.6,1035.8 1818.2,1035.8 1818.9,1035.8 1819.5,1035.8 1820.2,1035.8 1820.8,1035.8 1821.5,1035.8 1822.1,1035.8 1822.8,1035.8 1823.4,1035.8 1824.1,1035.8 1824.8,1035.8 1825.4,1035.8 1826.1,1035.8 1826.7,1035.8 1827.4,1035.8 1828.0,1035.8 1828.7,1035.8 1829.3,1035.8 1830.0,1035.8 1830.6,1035.8 1831.3,1035.8 1831.9,1035.8 1832.6,1035.8 1833.2,1035.8 1833.9,1035.8 1834.5,1035.8 1835.2,1035.8 1835.9,1035.8 1836.5,1035.8 1837.2,1035.8 1837.8,1035.8 1838.5,1035.8 1839.1,1035.8 1839.8,1035.8 1840.4,1035.8 1841.1,1035.8 1841.7,1035.8 1842.4,1035.8 1843.0,1035.8 1843.7,1035.8 1844.3,1035.8 1845.0,1035.8 1845.6,1035.8 1846.3,1035.8 1847.0,1035.8 1847.6,1035.8 1848.3,1035.8 1848.9,1035.8 1849.6,1035.8 1850.2,1035.8 1850.9,1035.8 1851.5,1035.8 1852.2,1035.8 1852.8,1035.8 1853.5,1035.8 1854.1,1035.8 1854.8,1035.8 1855.4,1035.8 1856.1,1035.8 1856.7,1035.8 1857.4,1035.8 1858.1,1035.8 1858.7,1035.8 1859.4,1035.8 1860.0,1035.8 1860.7,1035.8 1861.3,1035.8 1862.0,1035.8 1862.6,1035.8 1863.3,1035.8 1863.9,1035.8 1864.6,1035.8 1865.2,1035.8 1865.9,1035.8 1866.5,1035.8 1867.2,1035.8 1867.8,1035.8 1868.5,1035.8 1869.2,1035.8 1869.8,1035.8 1870.5,1035.8 1871.1,1035.8 1871.8,1035.8 1872.4,1035.8 1873.1,1035.8 1873.7,1035.8 1874.4,1035.8 1875.0,1035.8 1875.7,1035.8 1876.3,1035.8 1877.0,1035.8 1877.6,1035.8 1878.3,1035.8 1878.9,1035.8 1879.6,1035.8 1880.3,1035.8 1880.9,1035.8 1881.6,1035.8 1882.2,1035.8 1882.9,1035.8 1883.5,1035.8 1884.2,1035.8 1884.8,1035.8 1885.5,1035.8 1886.1,1035.8 1886.8,1035.8 1887.4,1035.8 1888.1,1035.8 1888.7,1035.8 1889.4,1035.8 1890.0,1035.8 1890.7,1035.8 1891.4,1035.8 1892.0,1035.8 1892.7,1035.8 1893.3,1035.8 1894.0,1035.8 1894.6,1035.8 1895.3,1035.8 1895.9,1035.8 1896.6,1035.8 1897.2,1035.8 1897.9,1035.8 1898.5,1035.8 1899.2,1035.8 1899.8,1035.8 1900.5,1035.8 1901.1,1035.8 1901.8,1035.8 1902.5,1035.8 1903.1,1035.8 1903.8,1035.8 1904.4,1035.8 1905.1,1035.8 1905.7,1035.8 1906.4,1035.8 1907.0,1035.8 1907.7,1035.8 1908.3,1035.8 1909.0,1035.8 1909.6,1035.8 1910.3,1035.8 1910.9,1035.8 1911.6,1035.8 1912.2,1035.8 1912.9,1035.8 1913.6,1035.8 1914.2,1035.8 1914.9,1035.8 1915.5,1035.8 1916.2,1035.8 1916.8,1035.8 1917.5,1035.8 1918.1,1035.8 1918.8,1035.8 1919.4,1035.8 1920.1,1035.8 1920.7,1035.8 1921.4,1035.8 1922.0,1035.8 1922.7,1035.8 1923.3,1035.8 1924.0,1035.8 1924.7,1035.8 1925.3,1035.8 1926.0,1035.8 1926.6,1035.8 1927.3,1035.8 1927.9,1035.8 1928.6,1035.8 1929.2,1035.8 1929.9,1035.8 1930.5,1035.8 1931.2,1035.8 1931.8,1035.8 1932.5,1035.8 1933.1,1035.8 1933.8,1035.8 1934.4,1035.8 1935.1,1035.8 1935.8,1035.8 1936.4,1035.8 1937.1,1035.8 1937.7,1035.8 1938.4,1035.8 1939.0,1035.8 1939.7,1035.8 1940.3,1035.8 1941.0,1035.8 1941.6,1035.8 1942.3,1035.8 1942.9,1035.8 1943.6,1035.8 1944.2,1035.8 1944.9,1035.8 1945.5,1035.8 1946.2,1035.8 1946.9,1035.8 1947.5,1035.8 1948.2,1035.8 1948.8,1035.8 1949.5,1035.8 1950.1,1035.8 1950.8,1035.8 1951.4,1035.8 1952.1,1035.8 1952.7,1035.8 1953.4,1035.8 1954.0,1035.8 1954.7,1035.8 1955.3,1035.8 1956.0,1035.8 1956.6,1035.8 1957.3,1035.8 1958.0,1035.8 1958.6,1035.8 1959.3,1035.8 1959.9,1035.8 1960.6,1035.8 1961.2,1035.8 1961.9,1035.8 1962.5,1035.8 1963.2,1035.8 1963.8,1035.8 1964.5,1035.8 1965.1,1035.8 1965.8,1035.8 1966.4,1035.8 1967.1,1035.8 1967.7,1035.8 1968.4,1035.8 1969.1,1035.8 1969.7,1035.8 1970.4,1035.8 1971.0,1035.8 1971.7,1035.8 1972.3,1035.8 1973.0,1035.8 1973.6,1035.8 1974.3,1035.8 1974.9,1035.8 1975.6,1035.8 1976.2,1035.8 1976.9,1035.8 1977.5,1035.8 1978.2,1035.8 1978.8,1035.8 1979.5,1035.8 1980.2,1035.8 1980.8,1035.8 1981.5,1035.8 1982.1,1035.8 1982.8,1035.8 1983.4,1035.8 1984.1,1035.8 1984.7,1035.8 1985.4,1035.8 1986.0,1035.8 1986.7,1035.8 1987.3,1035.8 1988.0,1035.8 1988.6,1035.8 1989.3,1035.8 1989.9,1035.8 1990.6,1035.8 1991.3,1035.8 1991.9,1035.8 1992.6,1035.8 1993.2,1035.8 1993.9,1035.8 1994.5,1035.8 1995.2,1035.8 1995.8,1035.8 1996.5,1035.8 1997.1,1035.8 1997.8,1035.8 1998.4,1035.8 1999.1,1035.8 1999.7,1035.9 2000.4,1035.9 2001.0,1035.9 2001.7,1035.8 2002.4,1035.8 2003.0,1035.8 2003.7,1035.8 2004.3,1035.8 2005.0,1035.8 2005.6,1035.8 2006.3,1035.8 2006.9,1035.9 2007.6,1035.9 2008.2,1035.8 2008.9,1035.8 2009.5,1035.8 2010.2,1035.8 2010.8,1035.8 2011.5,1035.8 2012.1,1035.8 2012.8,1035.8 2013.5,1035.8 2014.1,1035.8 2014.8,1035.8 2015.4,1035.8 2016.1,1035.8 2016.7,1035.8 2017.4,1035.8 2018.0,1035.8 2018.7,1035.8 2019.3,1035.8 2020.0,1035.8 2020.6,1035.8 2021.3,1035.8 2021.9,1035.8 2022.6,1035.8 2023.2,1035.8 2023.9,1035.8 2024.6,1035.8 2025.2,1035.8 2025.9,1035.8 2026.5,1035.9 2027.2,1035.9 2027.8,1035.9 2028.5,1035.9 2029.1,1035.9 2029.8,1035.9 2030.4,1035.8 2031.1,1035.8 2031.7,1035.8 2032.4,1035.8 2033.0,1035.8 2033.7,1035.9 2034.3,1035.9 2035.0,1035.9 2035.7,1035.8 2036.3,1035.8 2037.0,1035.8 2037.6,1035.8 2038.3,1035.8 2038.9,1035.8 2039.6,1035.8 2040.2,1035.8 2040.9,1035.8 2041.5,1035.8 2042.2,1035.8 2042.8,1035.8 2043.5,1035.8 2044.1,1035.8 2044.8,1035.8 2045.4,1035.8 2046.1,1035.8 2046.8,1035.9 2047.4,1035.9 2048.1,1035.9 2048.7,1035.8 2049.4,1035.8 2050.0,1035.9 2050.7,1035.9 2051.3,1035.9 2052.0,1035.9 2052.6,1035.8 2053.3,1035.8 2053.9,1035.8 2054.6,1035.8 2055.2,1035.8 2055.9,1035.9 2056.5,1035.9 2057.2,1035.9 2057.8,1035.9 2058.5,1035.9 2059.2,1035.9 2059.8,1035.9 2060.5,1035.9 2061.1,1035.8 2061.8,1035.8 2062.4,1035.9 2063.1,1035.9 2063.7,1035.9 2064.4,1035.9 2065.0,1035.8 2065.7,1035.8 2066.3,1035.8 2067.0,1035.9 2067.6,1035.9 2068.3,1035.8 2068.9,1035.8 2069.6,1035.9 2070.3,1035.9 2070.9,1035.8 2071.6,1035.8 2072.2,1035.8 2072.9,1035.8 2073.5,1035.9 2074.2,1035.9 2074.8,1035.9 2075.5,1035.9 2076.1,1035.9 2076.8,1035.8 2077.4,1035.8 2078.1,1035.8 2078.7,1035.8 2079.4,1035.9 2080.0,1035.9 2080.7,1035.8 2081.4,1035.8 2082.0,1035.8 2082.7,1035.8 2083.3,1035.9 2084.0,1035.9 2084.6,1035.9 2085.3,1035.9 2085.9,1035.9 2086.6,1035.8 2087.2,1035.8 2087.9,1035.9 2088.5,1035.9 2089.2,1035.9 2089.8,1035.9 2090.5,1035.9 2091.1,1035.9 2091.8,1035.9 2092.5,1035.9 2093.1,1035.8 2093.8,1035.8 2094.4,1035.8 2095.1,1035.8 2095.7,1035.8 2096.4,1035.8 2097.0,1035.9 2097.7,1035.9 2098.3,1035.9 2099.0,1035.8 2099.6,1035.8 2100.3,1035.8 2100.9,1035.8 2101.6,1035.8 2102.2,1035.8 2102.9,1035.9 2103.6,1035.8 2104.2,1035.8 2104.9,1035.8 2105.5,1035.8 2106.2,1035.8 2106.8,1035.9 2107.5,1035.9 2108.1,1035.9 2108.8,1035.8 2109.4,1035.8 2110.1,1035.9 2110.7,1035.9 2111.4,1035.9 2112.0,1035.8 2112.7,1035.8 2113.3,1035.9 2114.0,1035.9 2114.7,1035.9 2115.3,1035.9 2116.0,1035.9 2116.6,1035.9 2117.3,1035.8 2117.9,1035.8 2118.6,1035.9 2119.2,1035.9 2119.9,1035.9 2120.5,1035.9 2121.2,1035.9 2121.8,1035.9 2122.5,1035.8 2123.1,1035.8 2123.8,1035.8 2124.4,1035.8 2125.1,1035.8 2125.8,1035.8 2126.4,1035.9 2127.1,1035.9 2127.7,1035.9 2128.4,1035.9 2129.0,1035.9 2129.7,1035.8 2130.3,1035.8 2131.0,1035.8 2131.6,1035.9 2132.3,1035.9 2132.9,1035.9 2133.6,1035.9 2134.2,1035.9 2134.9,1035.9 2135.5,1035.9 2136.2,1035.9 2136.9,1035.9 2137.5,1035.9 2138.2,1035.9 2138.8,1035.9 2139.5,1035.9 2140.1,1035.9 2140.8,1035.9 2141.4,1035.9 2142.1,1035.9 2142.7,1035.9 2143.4,1035.9 2144.0,1035.8 2144.7,1035.9 2145.3,1035.9 2146.0,1035.9 2146.6,1035.9 2147.3,1035.9 2148.0,1035.9 2148.6,1035.9 2149.3,1035.9 2149.9,1035.9 2150.6,1035.9 2151.2,1035.9 2151.9,1035.9 2152.5,1035.9 2153.2,1035.9 2153.8,1035.9 2154.5,1035.9 2155.1,1035.9 2155.8,1035.9 2156.4,1035.9 2157.1,1035.9 2157.7,1035.9 2158.4,1035.9 2159.1,1035.9 2159.7,1035.9 2160.4,1035.9 2161.0,1035.9 2161.7,1035.9 2162.3,1035.9 2163.0,1035.9 2163.6,1035.9 2164.3,1035.9 2164.9,1035.9 2165.6,1035.9 2166.2,1035.9 2166.9,1035.9 2167.5,1035.8 2168.2,1035.9 2168.8,1035.9 2169.5,1035.9 2170.2,1035.9 2170.8,1035.9 2171.5,1035.9 2172.1,1035.9 2172.8,1035.9 2173.4,1035.9 2174.1,1035.9 2174.7,1035.9 2175.4,1035.9 2176.0,1035.9 2176.7,1035.9 2177.3,1035.9 2178.0,1035.9 2178.6,1035.9 2179.3,1035.9 2179.9,1035.9 2180.6,1035.9 2181.3,1035.9 2181.9,1035.9 2182.6,1035.9 2183.2,1035.9 2183.9,1035.9 2184.5,1035.9 2185.2,1035.9 2185.8,1035.9 2186.5,1035.9 2187.1,1035.9 2187.8,1035.9 2188.4,1035.9 2189.1,1035.9 2189.7,1035.9 2190.4,1035.9 2191.0,1035.9 2191.7,1035.9 2192.4,1035.9 2193.0,1035.9 2193.7,1035.9 2194.3,1035.9 2195.0,1035.9 2195.6,1035.9 2196.3,1035.9 2196.9,1035.9 2197.6,1035.9 2198.2,1035.9 2198.9,1035.9 2199.5,1035.9 2200.2,1035.9 2200.8,1035.9 2201.5,1035.9 2202.1,1035.9 2202.8,1035.9 2203.5,1035.9 2204.1,1035.9 2204.8,1035.9 2205.4,1035.9 2206.1,1035.9 2206.7,1035.8 2207.4,1035.9 2208.0,1035.9 2208.7,1035.9 2209.3,1035.9 2210.0,1035.9 2210.6,1035.9 2211.3,1035.9 2211.9,1035.9 2212.6,1035.9 2213.2,1035.9 2213.9,1035.9 2214.6,1035.9 2215.2,1035.9 2215.9,1035.9 2216.5,1035.9 2217.2,1035.9 2217.8,1035.9 2218.5,1035.9 2219.1,1035.9 2219.8,1035.9 2220.4,1035.9 2221.1,1035.9 2221.7,1035.9 2222.4,1035.9 2223.0,1035.9 2223.7,1035.9 2224.3,1035.9 2225.0,1035.9 2225.7,1035.9 2226.3,1035.9 2227.0,1035.9 2227.6,1035.9 2228.3,1035.9 2228.9,1035.9 2229.6,1035.9 2230.2,1035.9 2230.9,1035.9 2231.5,1035.9 2232.2,1035.9 2232.8,1035.9 2233.5,1035.9 2234.1,1035.9 2234.8,1035.9 2235.4,1035.9 2236.1,1035.9 2236.8,1035.9 2237.4,1035.9 2238.1,1035.9 2238.7,1035.9 2239.4,1035.9 2240.0,1035.9 2240.7,1035.9 2241.3,1035.9 2242.0,1035.9 2242.6,1035.9 2243.3,1035.9 2243.9,1035.9 2244.6,1035.9 2245.2,1035.9 2245.9,1035.9 2246.5,1035.9 2247.2,1035.9 2247.9,1035.9 2248.5,1035.9 2249.2,1035.9 2249.8,1035.9 2250.5,1035.9 2251.1,1035.9 2251.8,1035.9 2252.4,1035.9 2253.1,1035.9 2253.7,1035.9 2254.4,1035.9 2255.0,1035.9 2255.7,1035.9 2256.3,1035.9 2257.0,1035.9 2257.6,1035.9 2258.3,1035.9 2259.0,1035.9 2259.6,1035.9 2260.3,1035.9 2260.9,1035.9 2261.6,1035.9 2262.2,1035.9 2262.9,1035.9 2263.5,1035.9 2264.2,1035.9 2264.8,1035.9 2265.5,1035.9 2266.1,1035.9 2266.8,1035.9 2267.4,1035.9 2268.1,1035.9 2268.7,1035.9 2269.4,1035.9 2270.1,1035.9 2270.7,1035.9 2271.4,1035.9 2272.0,1035.9 2272.7,1035.9 2273.3,1035.9 2274.0,1035.9 2274.6,1035.9 2275.3,1035.9 2275.9,1035.9 2276.6,1035.9 2277.2,1035.9 2277.9,1035.9 2278.5,1035.9 2279.2,1035.9 2279.8,1035.9 2280.5,1035.9 2281.2,1035.9 2281.8,1035.9 2282.5,1035.9 2283.1,1035.9 2283.8,1035.9 2284.4,1035.9 2285.1,1035.9 2285.7,1035.9 2286.4,1035.9 2287.0,1035.9 2287.7,1035.9 2288.3,1035.9 2289.0,1035.9 2289.6,1035.9 2290.3,1035.9 2290.9,1035.9 2291.3,1035.9"/>
<polyline stroke="rgb(1,148,78)" points="332.8,622.5 333.1,989.2 333.5,989.2 333.8,989.2 334.1,989.2 334.4,989.4 334.8,989.4 335.1,989.4 335.4,989.4 335.7,989.3 336.1,989.2 336.4,989.2 336.7,989.1 337.0,989.1 337.4,989.1 337.7,989.2 338.0,989.2 338.3,989.2 338.7,989.2 339.0,989.2 339.3,989.3 339.7,989.3 340.0,989.3 340.3,989.3 340.6,989.3 341.0,989.2 341.3,989.1 341.6,989.0 341.9,988.9 342.3,988.9 342.6,989.1 342.9,989.3 343.2,989.4 343.6,989.5 343.9,989.5 344.2,989.4 344.6,989.3 344.9,989.2 345.2,989.2 345.5,989.2 345.9,989.2 346.2,989.2 346.5,989.2 346.8,989.1 347.2,989.1 347.5,989.2 347.8,989.2 348.1,989.3 348.5,989.3 348.8,989.3 349.1,989.3 349.4,989.4 349.8,989.5 350.1,989.6 350.4,989.7 350.8,989.8 351.1,989.7 351.4,989.6 351.7,989.4 352.1,989.3 352.4,989.2 353.0,989.1 353.7,988.9 354.3,988.7 355.0,989.0 355.7,989.3 356.3,989.2 357.0,989.1 357.6,989.2 358.3,989.3 358.9,989.3 359.6,989.1 360.2,989.1 360.9,989.1 361.5,989.3 362.2,989.3 362.8,989.1 363.5,989.0 364.1,988.8 364.8,988.7 365.4,988.8 366.1,989.3 366.8,989.8 367.4,989.8 368.1,989.5 368.7,989.2 369.4,989.0 370.0,989.1 370.7,989.3 371.3,989.4 372.0,989.3 372.6,989.2 373.3,989.2 373.9,988.9 374.6,988.9 375.2,989.1 375.9,989.4 376.5,989.5 377.2,989.5 377.9,989.3 378.5,989.0 379.2,989.0 379.8,989.1 380.5,989.2 381.1,989.3 381.8,989.1 382.4,989.0 383.1,989.1 383.7,989.3 384.4,989.2 385.0,988.9 385.7,988.7 386.3,988.9 387.0,989.2 387.6,989.3 388.3,989.2 389.0,989.2 389.6,989.1 390.3,989.0 390.9,989.0 391.6,989.1 392.2,989.1 392.9,989.3 393.5,989.4 394.2,989.2 394.8,989.1 395.5,989.3 396.1,989.5 396.8,989.4 397.4,989.2 398.1,989.2 398.7,989.3 399.4,989.2 400.1,989.0 400.7,989.2 401.4,989.5 402.0,989.7 402.7,989.8 403.3,989.9 404.0,990.1 404.6,990.2 405.3,990.2 405.9,990.2 406.6,990.5 407.2,991.0 407.9,991.8 408.5,992.3 409.2,992.2 409.8,992.0 410.5,992.1 411.2,992.6 411.8,993.1 412.5,993.4 413.1,993.5 413.8,993.9 414.4,994.4 415.1,994.6 415.7,995.0 416.4,995.5 417.0,995.8 417.7,995.9 418.3,996.1 419.0,996.3 419.6,996.5 420.3,996.9 420.9,997.6 421.6,998.5 422.3,999.1 422.9,999.4 423.6,999.7 424.2,999.9 424.9,1000.0 425.5,1000.0 426.2,1000.4 426.8,1001.2 427.5,1002.2 428.1,1002.7 428.8,1002.7 429.4,1002.7 430.1,1003.2 430.7,1004.0 431.4,1004.5 432.0,1004.8 432.7,1005.0 433.4,1005.3 434.0,1005.6 434.7,1005.8 435.3,1005.8 436.0,1006.0 436.6,1006.5 437.3,1007.0 437.9,1007.3 438.6,1007.6 439.2,1008.0 439.9,1008.2 440.5,1008.4 441.2,1008.7 441.8,1009.1 442.5,1009.5 443.1,1010.0 443.8,1010.2 444.5,1010.3 445.1,1010.7 445.8,1011.3 446.4,1011.7 447.1,1011.8 447.7,1012.0 448.4,1012.3 449.0,1012.5 449.7,1012.4 450.3,1012.5 451.0,1012.7 451.6,1013.0 452.3,1013.1 452.9,1013.0 453.6,1013.2 454.2,1013.6 454.9,1014.1 455.6,1014.4 456.2,1014.6 456.9,1014.6 457.5,1014.8 458.2,1015.2 458.8,1015.7 459.5,1016.0 460.1,1016.2 460.8,1016.2 461.4,1016.0 462.1,1016.0 462.7,1016.3 463.4,1016.7 464.0,1016.7 464.7,1016.6 465.3,1016.5 466.0,1016.6 466.7,1016.9 467.3,1017.2 468.0,1017.3 468.6,1017.5 469.3,1017.6 469.9,1017.7 470.6,1017.7 471.2,1017.7 471.9,1018.1 472.5,1018.6 473.2,1018.8 473.8,1018.9 474.5,1019.1 475.1,1019.4 475.8,1019.5 476.4,1019.5 477.1,1019.3 477.8,1018.9 478.4,1018.9 479.1,1019.2 479.7,1019.5 480.4,1019.6 481.0,1019.5 481.7,1019.7 482.3,1020.1 483.0,1020.5 483.6,1020.7 484.3,1020.8 484.9,1020.9 485.6,1021.0 486.2,1021.4 486.9,1021.6 487.5,1021.5 488.2,1021.4 488.9,1021.4 489.5,1021.5 490.2,1021.8 490.8,1021.8 491.5,1021.5 492.1,1021.4 492.8,1021.5 493.4,1021.5 494.1,1021.5 494.7,1021.5 495.4,1021.4 496.0,1021.6 496.7,1021.9 497.3,1022.2 498.0,1022.4 498.6,1022.3 499.3,1022.2 500.0,1022.1 500.6,1022.3 501.3,1022.5 501.9,1022.6 502.6,1022.4 503.2,1022.4 503.9,1022.6 504.5,1022.7 505.2,1022.6 505.8,1022.7 506.5,1023.0 507.1,1023.3 507.8,1023.5 508.4,1023.4 509.1,1023.3 509.7,1023.0 510.4,1022.8 511.1,1022.7 511.7,1022.9 512.4,1023.3 513.0,1023.5 513.7,1023.4 514.3,1023.3 515.0,1023.2 515.6,1023.1 516.3,1023.2 516.9,1023.5 517.6,1023.9 518.2,1024.2 518.9,1024.4 519.5,1024.5 520.2,1024.3 520.8,1023.9 521.5,1023.7 522.2,1023.8 522.8,1024.0 523.5,1024.2 524.1,1024.3 524.8,1024.5 525.4,1024.4 526.1,1024.2 526.7,1024.3 527.4,1024.5 528.0,1024.6 528.7,1024.8 529.3,1025.0 530.0,1025.0 530.6,1024.8 531.3,1024.7 531.9,1024.8 532.6,1024.8 533.3,1024.8 533.9,1024.9 534.6,1025.1 535.2,1025.3 535.9,1025.6 536.5,1025.9 537.2,1025.7 537.8,1025.3 538.5,1025.2 539.1,1025.1 539.8,1025.0 540.4,1025.0 541.1,1025.1 541.7,1025.4 542.4,1025.6 543.0,1025.6 543.7,1025.6 544.4,1025.7 545.0,1025.7 545.7,1025.6 546.3,1025.5 547.0,1025.5 547.6,1025.6 548.3,1025.7 548.9,1025.9 549.6,1026.0 550.2,1026.1 550.9,1026.1 551.5,1025.8 552.2,1025.7 552.8,1025.8 553.5,1026.0 554.1,1026.1 554.8,1025.9 555.5,1025.9 556.1,1026.1 556.8,1026.3 557.4,1026.4 558.1,1026.4 558.7,1026.2 559.4,1026.0 560.0,1025.9 560.7,1026.0 561.3,1026.2 562.0,1026.1 562.6,1025.7 563.3,1025.6 563.9,1025.8 564.6,1026.2 565.2,1026.5 565.9,1026.4 566.6,1026.2 567.2,1026.2 567.9,1026.4 568.5,1026.6 569.2,1026.5 569.8,1026.2 570.5,1025.9 571.1,1025.9 571.8,1025.9 572.4,1025.9 573.1,1026.0 573.7,1026.0 574.4,1026.0 575.0,1026.0 575.7,1026.3 576.3,1026.6 577.0,1026.7 577.7,1026.7 578.3,1026.8 579.0,1026.7 579.6,1026.5 580.3,1026.6 580.9,1026.7 581.6,1026.6 582.2,1026.3 582.9,1026.4 583.5,1026.8 584.2,1026.9 584.8,1026.8 585.5,1026.6 586.1,1026.5 586.8,1026.7 587.4,1026.9 588.1,1026.7 588.7,1026.4 589.4,1026.3 590.1,1026.4 590.7,1026.4 591.4,1026.3 592.0,1026.3 592.7,1026.2 593.3,1026.3 594.0,1026.5 594.6,1026.8 595.3,1026.9 595.9,1026.8 596.6,1026.7 597.2,1026.7 597.9,1026.8 598.5,1026.9 599.2,1026.9 599.8,1026.9 600.5,1026.9 601.2,1026.8 601.8,1026.6 602.5,1026.7 603.1,1027.0 603.8,1027.4 604.4,1027.3 605.1,1027.1 605.7,1027.0 606.4,1026.9 607.0,1026.8 607.7,1027.0 608.3,1027.2 609.0,1027.0 609.6,1026.8 610.3,1026.9 610.9,1026.9 611.6,1027.0 612.3,1027.1 612.9,1027.1 613.6,1027.0 614.2,1027.1 614.9,1027.1 615.5,1027.1 616.2,1026.9 616.8,1026.9 617.5,1026.9 618.1,1027.0 618.8,1027.3 619.4,1027.7 620.1,1027.8 620.7,1027.6 621.4,1027.3 622.0,1026.9 622.7,1026.8 623.4,1027.0 624.0,1027.2 624.7,1027.1 625.3,1027.0 626.0,1026.9 626.6,1026.8 627.3,1027.0 627.9,1027.5 628.6,1027.7 629.2,1027.7 629.9,1027.7 630.5,1027.7 631.2,1027.4 631.8,1027.2 632.5,1027.2 633.1,1027.2 633.8,1027.2 634.5,1027.1 635.1,1027.0 635.8,1027.0 636.4,1027.1 637.1,1027.3 637.7,1027.3 638.4,1027.1 639.0,1027.1 639.7,1027.3 640.3,1027.3 641.0,1027.3 641.6,1027.4 642.3,1027.3 642.9,1027.3 643.6,1027.4 644.2,1027.3 644.9,1027.3 645.6,1027.3 646.2,1027.4 646.9,1027.4 647.5,1027.4 648.2,1027.2 648.8,1027.1 649.5,1027.4 650.1,1027.7 650.8,1027.9 651.4,1027.8 652.1,1027.5 652.7,1027.3 653.4,1027.1 654.0,1027.1 654.7,1027.2 655.3,1027.4 656.0,1027.4 656.7,1027.4 657.3,1027.4 658.0,1027.1 658.6,1027.0 659.3,1026.9 659.9,1027.0 660.6,1027.3 661.2,1027.5 661.9,1027.6 662.5,1027.4 663.2,1027.2 663.8,1027.1 664.5,1026.8 665.1,1026.8 665.8,1027.1 666.4,1027.3 667.1,1027.3 667.8,1027.1 668.4,1027.1 669.1,1027.3 669.7,1027.5 670.4,1027.5 671.0,1027.3 671.7,1027.2 672.3,1027.4 673.0,1027.6 673.6,1027.7 674.3,1027.6 674.9,1027.6 675.6,1027.6 676.2,1027.6 676.9,1027.6 677.5,1027.2 678.2,1026.9 678.9,1026.9 679.5,1026.9 680.2,1026.9 680.8,1027.1 681.5,1027.3 682.1,1027.5 682.8,1027.5 683.4,1027.5 684.1,1027.3 684.7,1027.1 685.4,1027.1 686.0,1027.3 686.7,1027.5 687.3,1027.5 688.0,1027.4 688.6,1027.4 689.3,1027.5 690.0,1027.6 690.6,1027.5 691.3,1027.3 691.9,1027.4 692.6,1027.4 693.2,1027.2 693.9,1027.0 694.5,1027.2 695.2,1027.5 695.8,1027.6 696.5,1027.3 697.1,1027.1 697.8,1027.1 698.4,1027.2 699.1,1027.2 699.7,1027.2 700.4,1027.2 701.1,1027.4 701.7,1027.4 702.4,1027.2 703.0,1027.1 703.7,1027.2 704.3,1027.3 705.0,1027.3 705.6,1027.5 706.3,1027.7 706.9,1027.9 707.6,1027.8 708.2,1027.7 708.9,1027.5 709.5,1027.2 710.2,1027.2 710.8,1027.3 711.5,1027.3 712.2,1027.2 712.8,1027.3 713.5,1027.5 714.1,1027.6 714.8,1027.5 715.4,1027.4 716.1,1027.4 716.7,1027.2 717.4,1026.9 718.0,1026.9 718.7,1027.0 719.3,1027.2 720.0,1027.4 720.6,1027.3 721.3,1027.2 721.9,1027.2 722.6,1027.3 723.3,1027.3 723.9,1027.3 724.6,1027.2 725.2,1027.2 725.9,1027.4 726.5,1027.6 727.2,1027.8 727.8,1028.0 728.5,1027.9 729.1,1027.7 729.8,1027.4 730.4,1027.4 731.1,1027.4 731.7,1027.3 732.4,1027.4 733.0,1027.4 733.7,1027.5 734.4,1027.5 735.0,1027.5 735.7,1027.3 736.3,1027.1 737.0,1027.2 737.6,1027.3 738.3,1027.3 738.9,1027.1 739.6,1027.1 740.2,1027.2 740.9,1027.4 741.5,1027.4 742.2,1027.4 742.8,1027.4 743.5,1027.5 744.1,1027.5 744.8,1027.5 745.5,1027.7 746.1,1027.8 746.8,1027.9 747.4,1027.6 748.1,1027.3 748.7,1027.2 749.4,1027.4 750.0,1027.5 750.7,1027.4 751.3,1027.5 752.0,1027.7 752.6,1027.9 753.3,1027.8 753.9,1027.6 754.6,1027.5 755.2,1027.7 755.9,1027.8 756.6,1027.7 757.2,1027.5 757.9,1027.3 758.5,1027.3 759.2,1027.4 759.8,1027.4 760.5,1027.5 761.1,1027.5 761.8,1027.4 762.4,1027.3 763.1,1027.5 763.7,1027.7 764.4,1027.6 765.0,1027.4 765.7,1027.5 766.3,1027.8 767.0,1027.7 767.7,1027.4 768.3,1027.3 769.0,1027.5 769.6,1027.7 770.3,1027.6 770.9,1027.4 771.6,1027.4 772.2,1027.6 772.9,1027.6 773.5,1027.4 774.2,1027.5 774.8,1027.8 775.5,1027.8 776.1,1027.8 776.8,1027.7 777.4,1027.6 778.1,1027.5 778.8,1027.6 779.4,1027.8 780.1,1027.9 780.7,1027.7 781.4,1027.4 782.0,1027.3 782.7,1027.3 783.3,1027.5 784.0,1027.5 784.6,1027.5 785.3,1027.6 785.9,1027.6 786.6,1027.5 787.2,1027.4 787.9,1027.4 788.5,1027.4 789.2,1027.4 789.9,1027.6 790.5,1027.6 791.2,1027.6 791.8,1027.6 792.5,1027.4 793.1,1027.1 793.8,1027.1 794.4,1027.3 795.1,1027.5 795.7,1027.7 796.4,1027.6 797.0,1027.4 797.7,1027.4 798.3,1027.5 799.0,1027.7 799.6,1027.8 800.3,1027.8 801.0,1027.6 801.6,1027.6 802.3,1027.5 802.9,1027.3 803.6,1027.5 804.2,1027.8 804.9,1028.0 805.5,1027.9 806.2,1027.6 806.8,1027.4 807.5,1027.4 808.1,1027.4 808.8,1027.6 809.4,1027.8 810.1,1027.8 810.7,1027.7 811.4,1027.6 812.1,1027.7 812.7,1027.7 813.4,1027.6 814.0,1027.5 814.7,1027.4 815.3,1027.5 816.0,1027.6 816.6,1027.6 817.3,1027.6 817.9,1027.5 818.6,1027.5 819.2,1027.5 819.9,1027.4 820.5,1027.3 821.2,1027.4 821.8,1027.5 822.5,1027.6 823.2,1027.5 823.8,1027.5 824.5,1027.7 825.1,1027.8 825.8,1027.7 826.4,1027.7 827.1,1027.8 827.7,1027.8 828.4,1027.6 829.0,1027.5 829.7,1027.8 830.3,1028.2 831.0,1028.0 831.6,1027.7 832.3,1027.7 832.9,1027.7 833.6,1027.8 834.3,1027.9 834.9,1028.0 835.6,1028.1 836.2,1027.9 836.9,1027.7 837.5,1027.7 838.2,1027.8 838.8,1027.9 839.5,1027.8 840.1,1027.8 840.8,1027.8 841.4,1027.6 842.1,1027.4 842.7,1027.4 843.4,1027.7 844.0,1027.9 844.7,1028.0 845.4,1028.0 846.0,1028.0 846.7,1028.2 847.3,1028.1 848.0,1027.9 848.6,1027.7 849.3,1027.6 849.9,1027.6 850.6,1027.6 851.2,1027.6 851.9,1027.7 852.5,1027.6 853.2,1027.5 853.8,1027.5 854.5,1027.6 855.1,1027.6 855.8,1027.5 856.5,1027.5 857.1,1027.5 857.8,1027.6 858.4,1027.6 859.1,1027.6 859.7,1027.6 860.4,1027.6 861.0,1027.7 861.7,1027.7 862.3,1027.7 863.0,1027.7 863.6,1027.7 864.3,1027.9 864.9,1028.1 865.6,1028.1 866.2,1027.9 866.9,1027.7 867.6,1027.6 868.2,1027.6 868.9,1027.6 869.5,1027.7 870.2,1027.7 870.8,1027.9 871.5,1027.8 872.1,1027.7 872.8,1027.5 873.4,1027.5 874.1,1027.6 874.7,1027.6 875.4,1027.7 876.0,1027.8 876.7,1027.8 877.3,1027.5 878.0,1027.3 878.7,1027.3 879.3,1027.4 880.0,1027.5 880.6,1027.6 881.3,1027.4 881.9,1027.3 882.6,1027.4 883.2,1027.6 883.9,1027.7 884.5,1027.8 885.2,1028.0 885.8,1028.2 886.5,1028.0 887.1,1027.9 887.8,1027.9 888.4,1027.8 889.1,1027.6 889.8,1027.3 890.4,1027.3 891.1,1027.6 891.7,1027.9 892.4,1027.8 893.0,1027.6 893.7,1027.7 894.3,1027.8 895.0,1027.7 895.6,1027.6 896.3,1027.7 896.9,1027.7 897.6,1027.8 898.2,1027.9 898.9,1028.0 899.5,1027.8 900.2,1027.4 900.9,1027.3 901.5,1027.4 902.2,1027.4 902.8,1027.5 903.5,1027.7 904.1,1028.0 904.8,1027.9 905.4,1027.8 906.1,1027.8 906.7,1027.6 907.4,1027.4 908.0,1027.6 908.7,1027.8 909.3,1027.9 910.0,1027.8 910.6,1027.8 911.3,1027.7 912.0,1027.6 912.6,1027.5 913.3,1027.5 913.9,1027.6 914.6,1027.7 915.2,1027.8 915.9,1027.9 916.5,1028.1 917.2,1028.2 917.8,1028.1 918.5,1027.7 919.1,1027.3 919.8,1027.3 920.4,1027.5 921.1,1027.6 921.7,1027.7 922.4,1027.8 923.1,1028.0 923.7,1028.0 924.4,1027.8 925.0,1027.6 925.7,1027.7 926.3,1027.8 927.0,1027.9 927.6,1028.0 928.3,1028.0 928.9,1027.8 929.6,1027.8 930.2,1027.8 930.9,1027.7 931.5,1027.7 932.2,1027.6 932.8,1027.5 933.5,1027.4 934.2,1027.5 934.8,1027.7 935.5,1027.8 936.1,1027.8 936.8,1027.8 937.4,1027.9 938.1,1027.9 938.7,1027.9 939.4,1027.9 940.0,1027.9 940.7,1027.8 941.3,1027.7 942.0,1027.5 942.6,1027.5 943.3,1027.6 943.9,1027.8 944.6,1027.9 945.3,1027.8 945.9,1027.6 946.6,1027.6 947.2,1027.6 947.9,1027.7 948.5,1027.7 949.2,1027.8 949.8,1027.8 950.5,1027.9 951.1,1028.0 951.8,1028.0 952.4,1028.0 953.1,1027.9 953.7,1027.8 954.4,1027.8 955.0,1027.8 955.7,1027.8 956.4,1027.7 957.0,1027.5 957.7,1027.7 958.3,1028.0 959.0,1028.0 959.6,1028.0 960.3,1027.9 960.9,1027.9 961.6,1027.8 962.2,1027.7 962.9,1027.6 963.5,1027.7 964.2,1027.6 964.8,1027.5 965.5,1027.5 966.1,1027.6 966.8,1027.6 967.5,1027.6 968.1,1027.6 968.8,1027.8 969.4,1027.8 970.1,1027.8 970.7,1027.7 971.4,1027.8 972.0,1027.9 972.7,1027.9 973.3,1027.9 974.0,1027.9 974.6,1027.7 975.3,1027.6 975.9,1027.6 976.6,1027.8 977.2,1027.8 977.9,1027.6 978.6,1027.7 979.2,1027.8 979.9,1027.7 980.5,1027.7 981.2,1027.7 981.8,1027.8 982.5,1028.0 983.1,1028.1 983.8,1028.1 984.4,1028.2 985.1,1028.4 985.7,1028.5 986.4,1028.4 987.0,1028.4 987.7,1028.4 988.3,1028.2 989.0,1028.0 989.7,1027.9 990.3,1027.9 991.0,1028.0 991.6,1028.2 992.3,1028.2 992.9,1028.0 993.6,1028.0 994.2,1028.1 994.9,1028.2 995.5,1028.2 996.2,1028.0 996.8,1027.8 997.5,1027.9 998.1,1028.1 998.8,1028.1 999.4,1028.1 1000.1,1028.0 1000.8,1028.0 1001.4,1027.9 1002.1,1027.9 1002.7,1028.0 1003.4,1028.1 1004.0,1028.1 1004.7,1028.0 1005.3,1027.8 1006.0,1027.7 1006.6,1027.8 1007.3,1027.9 1007.9,1027.9 1008.6,1027.8 1009.2,1027.9 1009.9,1028.3 1010.5,1028.3 1011.2,1028.1 1011.9,1027.9 1012.5,1027.7 1013.2,1027.7 1013.8,1028.1 1014.5,1028.3 1015.1,1028.2 1015.8,1028.2 1016.4,1028.1 1017.1,1027.9 1017.7,1027.7 1018.4,1027.5 1019.0,1027.7 1019.7,1027.9 1020.3,1028.0 1021.0,1028.2 1021.6,1028.2 1022.3,1028.1 1023.0,1028.1 1023.6,1028.2 1024.3,1028.2 1024.9,1028.1 1025.6,1027.9 1026.2,1027.9 1026.9,1027.9 1027.5,1028.0 1028.2,1027.9 1028.8,1027.8 1029.5,1027.8 1030.1,1027.9 1030.8,1027.8 1031.4,1027.6 1032.1,1027.7 1032.7,1027.8 1033.4,1027.8 1034.1,1027.8 1034.7,1027.8 1035.4,1027.6 1036.0,1027.6 1036.7,1027.7 1037.3,1027.9 1038.0,1027.9 1038.6,1027.9 1039.3,1028.1 1039.9,1028.2 1040.6,1028.2 1041.2,1028.2 1041.9,1028.4 1042.5,1028.3 1043.2,1028.1 1043.8,1027.9 1044.5,1027.9 1045.2,1027.9 1045.8,1027.9 1046.5,1027.8 1047.1,1027.8 1047.8,1027.6 1048.4,1027.3 1049.1,1027.2 1049.7,1027.4 1050.4,1027.8 1051.0,1028.0 1051.7,1028.1 1052.3,1028.2 1053.0,1028.0 1053.6,1027.8 1054.3,1027.8 1054.9,1028.0 1055.6,1028.2 1056.3,1028.2 1056.9,1028.3 1057.6,1028.3 1058.2,1028.3 1058.9,1028.1 1059.5,1028.0 1060.2,1028.1 1060.8,1028.1 1061.5,1027.9 1062.1,1027.7 1062.8,1027.8 1063.4,1027.9 1064.1,1027.9 1064.7,1027.9 1065.4,1028.0 1066.0,1028.2 1066.7,1028.2 1067.4,1027.9 1068.0,1027.7 1068.7,1027.8 1069.3,1027.9 1070.0,1027.8 1070.6,1027.6 1071.3,1027.6 1071.9,1027.7 1072.6,1027.8 1073.2,1027.8 1073.9,1027.9 1074.5,1028.0 1075.2,1027.9 1075.8,1027.7 1076.5,1027.7 1077.1,1028.0 1077.8,1028.2 1078.4,1028.2 1079.1,1028.1 1079.8,1028.0 1080.4,1027.9 1081.1,1027.8 1081.7,1027.9 1082.4,1028.1 1083.0,1028.3 1083.7,1028.4 1084.3,1028.4 1085.0,1028.2 1085.6,1028.2 1086.3,1028.3 1086.9,1028.4 1087.6,1028.4 1088.2,1028.5 1088.9,1028.5 1089.5,1028.5 1090.2,1028.2 1090.9,1027.9 1091.5,1027.8 1092.2,1028.1 1092.8,1028.3 1093.5,1028.2 1094.1,1028.0 1094.8,1028.0 1095.4,1028.1 1096.1,1028.2 1096.7,1028.4 1097.4,1028.3 1098.0,1028.1 1098.7,1028.1 1099.3,1028.2 1100.0,1028.2 1100.6,1028.1 1101.3,1028.2 1102.0,1028.5 1102.6,1028.6 1103.3,1028.5 1103.9,1028.2 1104.6,1028.0 1105.2,1027.8 1105.9,1027.8 1106.5,1027.9 1107.2,1028.1 1107.8,1028.1 1108.5,1027.9 1109.1,1027.8 1109.8,1027.8 1110.4,1027.7 1111.1,1027.7 1111.7,1027.7 1112.4,1027.8 1113.1,1028.0 1113.7,1028.0 1114.4,1028.0 1115.0,1028.0 1115.7,1028.1 1116.3,1028.1 1117.0,1028.3 1117.6,1028.4 1118.3,1028.3 1118.9,1028.3 1119.6,1028.4 1120.2,1028.4 1120.9,1028.1 1121.5,1027.9 1122.2,1028.1 1122.8,1028.2 1123.5,1028.2 1124.2,1028.0 1124.8,1027.8 1125.5,1027.7 1126.1,1027.8 1126.8,1027.9 1127.4,1028.2 1128.1,1028.5 1128.7,1028.4 1129.4,1028.2 1130.0,1028.2 1130.7,1028.3 1131.3,1028.3 1132.0,1028.4 1132.6,1028.4 1133.3,1028.3 1133.9,1028.2 1134.6,1028.2 1135.3,1028.3 1135.9,1028.3 1136.6,1028.2 1137.2,1028.3 1137.9,1028.4 1138.5,1028.4 1139.2,1028.3 1139.8,1028.3 1140.5,1028.3 1141.1,1028.3 1141.8,1028.3 1142.4,1028.1 1143.1,1028.0 1143.7,1027.9 1144.4,1028.1 1145.0,1028.1 1145.7,1028.1 1146.4,1028.0 1147.0,1028.0 1147.7,1028.0 1148.3,1027.9 1149.0,1028.0 1149.6,1028.2 1150.3,1028.2 1150.9,1028.2 1151.6,1028.2 1152.2,1028.1 1152.9,1028.0 1153.5,1028.0 1154.2,1028.2 1154.8,1028.3 1155.5,1028.3 1156.1,1028.4 1156.8,1028.6 1157.5,1028.4 1158.1,1028.0 1158.8,1027.9 1159.4,1028.1 1160.1,1028.4 1160.7,1028.4 1161.4,1028.4 1162.0,1028.3 1162.7,1028.3 1163.3,1028.3 1164.0,1028.2 1164.6,1028.1 1165.3,1028.2 1165.9,1028.2 1166.6,1028.0 1167.2,1027.9 1167.9,1027.8 1168.6,1027.9 1169.2,1028.0 1169.9,1028.1 1170.5,1028.2 1171.2,1028.3 1171.8,1028.3 1172.5,1028.2 1173.1,1028.1 1173.8,1028.0 1174.4,1027.9 1175.1,1028.0 1175.7,1028.0 1176.4,1028.2 1177.0,1028.4 1177.7,1028.3 1178.3,1028.3 1179.0,1028.1 1179.7,1027.8 1180.3,1027.7 1181.0,1027.9 1181.6,1028.2 1182.3,1028.2 1182.9,1028.2 1183.6,1028.2 1184.2,1028.3 1184.9,1028.5 1185.5,1028.5 1186.2,1028.4 1186.8,1028.5 1187.5,1028.7 1188.1,1028.8 1188.8,1028.6 1189.4,1028.4 1190.1,1028.4 1190.8,1028.3 1191.4,1028.3 1192.1,1028.3 1192.7,1028.3 1193.4,1028.3 1194.0,1028.3 1194.7,1028.3 1195.3,1028.2 1196.0,1028.1 1196.6,1028.1 1197.3,1028.2 1197.9,1028.3 1198.6,1028.3 1199.2,1028.1 1199.9,1028.0 1200.5,1028.2 1201.2,1028.3 1201.9,1028.3 1202.5,1028.4 1203.2,1028.4 1203.8,1028.4 1204.5,1028.6 1205.1,1028.8 1205.8,1028.6 1206.4,1028.3 1207.1,1028.3 1207.7,1028.4 1208.4,1028.4 1209.0,1028.4 1209.7,1028.4 1210.3,1028.3 1211.0,1028.1 1211.6,1028.1 1212.3,1028.2 1213.0,1028.5 1213.6,1028.6 1214.3,1028.5 1214.9,1028.4 1215.6,1028.5 1216.2,1028.5 1216.9,1028.5 1217.5,1028.4 1218.2,1028.4 1218.8,1028.3 1219.5,1028.2 1220.1,1028.4 1220.8,1028.6 1221.4,1028.6 1222.1,1028.6 1222.7,1028.6 1223.4,1028.5 1224.1,1028.4 1224.7,1028.4 1225.4,1028.5 1226.0,1028.7 1226.7,1028.8 1227.3,1028.7 1228.0,1028.5 1228.6,1028.1 1229.3,1028.0 1229.9,1028.1 1230.6,1028.3 1231.2,1028.6 1231.9,1028.6 1232.5,1028.5 1233.2,1028.4 1233.8,1028.5 1234.5,1028.5 1235.2,1028.6 1235.8,1028.7 1236.5,1028.7 1237.1,1028.5 1237.8,1028.3 1238.4,1028.2 1239.1,1028.3 1239.7,1028.3 1240.4,1028.3 1241.0,1028.3 1241.7,1028.4 1242.3,1028.4 1243.0,1028.3 1243.6,1028.2 1244.3,1028.3 1244.9,1028.4 1245.6,1028.4 1246.3,1028.2 1246.9,1028.3 1247.6,1028.4 1248.2,1028.5 1248.9,1028.5 1249.5,1028.4 1250.2,1028.4 1250.8,1028.4 1251.5,1028.5 1252.1,1028.7 1252.8,1028.9 1253.4,1028.7 1254.1,1028.5 1254.7,1028.5 1255.4,1028.4 1256.0,1028.5 1256.7,1028.6 1257.4,1028.7 1258.0,1028.6 1258.7,1028.4 1259.3,1028.2 1260.0,1028.1 1260.6,1028.2 1261.3,1028.2 1261.9,1028.3 1262.6,1028.5 1263.2,1028.6 1263.9,1028.5 1264.5,1028.4 1265.2,1028.4 1265.8,1028.3 1266.5,1028.2 1267.1,1028.1 1267.8,1028.1 1268.5,1028.2 1269.1,1028.3 1269.8,1028.3 1270.4,1028.4 1271.1,1028.4 1271.7,1028.5 1272.4,1028.5 1273.0,1028.4 1273.7,1028.3 1274.3,1028.2 1275.0,1028.2 1275.6,1028.3 1276.3,1028.5 1276.9,1028.6 1277.6,1028.7 1278.2,1028.6 1278.9,1028.5 1279.6,1028.5 1280.2,1028.7 1280.9,1028.9 1281.5,1028.9 1282.2,1028.9 1282.8,1028.9 1283.5,1028.7 1284.1,1028.4 1284.8,1028.3 1285.4,1028.2 1286.1,1028.3 1286.7,1028.5 1287.4,1028.6 1288.0,1028.6 1288.7,1028.6 1289.3,1028.6 1290.0,1028.6 1290.7,1028.4 1291.3,1028.3 1292.0,1028.3 1292.6,1028.3 1293.3,1028.3 1293.9,1028.3 1294.6,1028.5 1295.2,1028.6 1295.9,1028.8 1296.5,1028.8 1297.2,1028.8 1297.8,1028.8 1298.5,1029.0 1299.1,1029.0 1299.8,1028.9 1300.4,1028.8 1301.1,1028.7 1301.8,1028.9 1302.4,1029.2 1303.1,1029.2 1303.7,1028.9 1304.4,1028.5 1305.0,1028.5 1305.7,1028.9 1306.3,1029.2 1307.0,1029.1 1307.6,1028.8 1308.3,1028.4 1308.9,1028.2 1309.6,1028.3 1310.2,1028.5 1310.9,1028.7 1311.5,1028.7 1312.2,1028.6 1312.9,1028.4 1313.5,1028.4 1314.2,1028.5 1314.8,1028.7 1315.5,1028.9 1316.1,1028.8 1316.8,1028.6 1317.4,1028.5 1318.1,1028.4 1318.7,1028.5 1319.4,1028.6 1320.0,1028.7 1320.7,1028.8 1321.3,1028.9 1322.0,1029.0 1322.6,1029.0 1323.3,1029.1 1324.0,1029.1 1324.6,1028.9 1325.3,1028.6 1325.9,1028.4 1326.6,1028.4 1327.2,1028.4 1327.9,1028.5 1328.5,1028.6 1329.2,1028.7 1329.8,1028.7 1330.5,1028.9 1331.1,1029.2 1331.8,1029.3 1332.4,1029.2 1333.1,1029.0 1333.7,1028.8 1334.4,1028.9 1335.1,1029.0 1335.7,1028.9 1336.4,1028.7 1337.0,1028.7 1337.7,1028.8 1338.3,1028.7 1339.0,1028.6 1339.6,1028.6 1340.3,1028.7 1340.9,1028.9 1341.6,1029.0 1342.2,1029.2 1342.9,1029.1 1343.5,1028.9 1344.2,1028.8 1344.8,1028.8 1345.5,1028.9 1346.2,1028.8 1346.8,1028.8 1347.5,1028.9 1348.1,1029.0 1348.8,1029.1 1349.4,1029.1 1350.1,1029.1 1350.7,1029.1 1351.4,1029.0 1352.0,1029.0 1352.7,1029.0 1353.3,1029.0 1354.0,1029.1 1354.6,1029.0 1355.3,1028.8 1355.9,1028.7 1356.6,1028.9 1357.3,1029.0 1357.9,1029.1 1358.6,1029.3 1359.2,1029.5 1359.9,1029.4 1360.5,1029.5 1361.2,1029.6 1361.8,1029.6 1362.5,1029.5 1363.1,1029.4 1363.8,1029.3 1364.4,1029.4 1365.1,1029.7 1365.7,1029.7 1366.4,1029.6 1367.0,1029.4 1367.7,1029.3 1368.4,1029.3 1369.0,1029.2 1369.7,1029.2 1370.3,1029.4 1371.0,1029.6 1371.6,1029.7 1372.3,1029.7 1372.9,1029.6 1373.6,1029.5 1374.2,1029.4 1374.9,1029.5 1375.5,1029.7 1376.2,1029.8 1376.8,1029.8 1377.5,1029.6 1378.1,1029.5 1378.8,1029.6 1379.5,1029.5 1380.1,1029.3 1380.8,1029.2 1381.4,1029.2 1382.1,1029.3 1382.7,1029.3 1383.4,1029.5 1384.0,1029.8 1384.7,1029.9 1385.3,1029.8 1386.0,1029.4 1386.6,1029.3 1387.3,1029.4 1387.9,1029.7 1388.6,1029.9 1389.2,1029.9 1389.9,1029.9 1390.6,1029.9 1391.2,1029.9 1391.9,1029.8 1392.5,1029.8 1393.2,1029.9 1393.8,1030.1 1394.5,1030.1 1395.1,1030.0 1395.8,1030.0 1396.4,1030.0 1397.1,1030.1 1397.7,1030.1 1398.4,1030.0 1399.0,1030.0 1399.7,1030.1 1400.3,1030.3 1401.0,1030.4 1401.7,1030.2 1402.3,1030.1 1403.0,1030.1 1403.6,1030.1 1404.3,1030.1 1404.9,1030.2 1405.6,1030.2 1406.2,1030.1 1406.9,1030.1 1407.5,1030.1 1408.2,1030.2 1408.8,1030.3 1409.5,1030.3 1410.1,1030.3 1410.8,1030.2 1411.4,1030.2 1412.1,1030.2 1412.8,1030.2 1413.4,1030.3 1414.1,1030.4 1414.7,1030.4 1415.4,1030.3 1416.0,1030.3 1416.7,1030.4 1417.3,1030.5 1418.0,1030.4 1418.6,1030.2 1419.3,1030.3 1419.9,1030.5 1420.6,1030.6 1421.2,1030.5 1421.9,1030.5 1422.5,1030.5 1423.2,1030.5 1423.9,1030.6 1424.5,1030.6 1425.2,1030.5 1425.8,1030.4 1426.5,1030.4 1427.1,1030.5 1427.8,1030.6 1428.4,1030.6 1429.1,1030.7 1429.7,1030.8 1430.4,1030.8 1431.0,1030.6 1431.7,1030.5 1432.3,1030.5 1433.0,1030.5 1433.6,1030.6 1434.3,1030.7 1435.0,1030.7 1435.6,1030.5 1436.3,1030.2 1436.9,1030.2 1437.6,1030.4 1438.2,1030.6 1438.9,1030.8 1439.5,1031.0 1440.2,1031.1 1440.8,1031.0 1441.5,1030.9 1442.1,1030.9 1442.8,1030.9 1443.4,1030.9 1444.1,1030.9 1444.7,1031.1 1445.4,1031.2 1446.1,1031.1 1446.7,1031.1 1447.4,1031.1 1448.0,1031.1 1448.7,1031.1 1449.3,1031.0 1450.0,1031.0 1450.6,1031.0 1451.3,1031.1 1451.9,1031.3 1452.6,1031.5 1453.2,1031.6 1453.9,1031.4 1454.5,1031.2 1455.2,1031.1 1455.8,1031.1 1456.5,1031.1 1457.2,1031.2 1457.8,1031.4 1458.5,1031.4 1459.1,1031.4 1459.8,1031.3 1460.4,1031.3 1461.1,1031.4 1461.7,1031.5 1462.4,1031.5 1463.0,1031.4 1463.7,1031.3 1464.3,1031.3 1465.0,1031.3 1465.6,1031.4 1466.3,1031.4 1466.9,1031.4 1467.6,1031.4 1468.3,1031.4 1468.9,1031.5 1469.6,1031.7 1470.2,1031.9 1470.9,1031.8 1471.5,1031.7 1472.2,1031.6 1472.8,1031.6 1473.5,1031.7 1474.1,1031.6 1474.8,1031.7 1475.4,1031.8 1476.1,1031.8 1476.7,1031.6 1477.4,1031.7 1478.0,1031.8 1478.7,1031.9 1479.4,1031.9 1480.0,1031.9 1480.7,1031.8 1481.3,1031.7 1482.0,1031.8 1482.6,1032.0 1483.3,1032.1 1483.9,1032.0 1484.6,1031.9 1485.2,1031.8 1485.9,1031.8 1486.5,1031.9 1487.2,1031.9 1487.8,1031.9 1488.5,1032.0 1489.1,1032.0 1489.8,1031.9 1490.5,1031.8 1491.1,1031.8 1491.8,1031.9 1492.4,1032.1 1493.1,1032.2 1493.7,1032.2 1494.4,1032.2 1495.0,1032.2 1495.7,1032.2 1496.3,1032.3 1497.0,1032.3 1497.6,1032.2 1498.3,1032.1 1498.9,1032.1 1499.6,1032.1 1500.2,1032.2 1500.9,1032.3 1501.6,1032.4 1502.2,1032.4 1502.9,1032.4 1503.5,1032.4 1504.2,1032.5 1504.8,1032.6 1505.5,1032.5 1506.1,1032.4 1506.8,1032.4 1507.4,1032.5 1508.1,1032.5 1508.7,1032.5 1509.4,1032.6 1510.0,1032.6 1510.7,1032.6 1511.3,1032.6 1512.0,1032.6 1512.7,1032.7 1513.3,1032.7 1514.0,1032.6 1514.6,1032.6 1515.3,1032.6 1515.9,1032.7 1516.6,1032.8 1517.2,1032.9 1517.9,1032.8 1518.5,1032.7 1519.2,1032.7 1519.8,1032.7 1520.5,1032.7 1521.1,1032.7 1521.8,1032.7 1522.4,1032.8 1523.1,1032.8 1523.8,1032.7 1524.4,1032.7 1525.1,1032.8 1525.7,1032.8 1526.4,1032.9 1527.0,1032.9 1527.7,1033.0 1528.3,1033.1 1529.0,1033.0 1529.6,1033.1 1530.3,1033.1 1530.9,1033.1 1531.6,1033.1 1532.2,1033.0 1532.9,1033.0 1533.5,1033.0 1534.2,1033.0 1534.9,1033.1 1535.5,1033.2 1536.2,1033.2 1536.8,1033.1 1537.5,1033.1 1538.1,1033.1 1538.8,1033.2 1539.4,1033.2 1540.1,1033.2 1540.7,1033.3 1541.4,1033.3 1542.0,1033.3 1542.7,1033.3 1543.3,1033.4 1544.0,1033.3 1544.6,1033.2 1545.3,1033.1 1546.0,1033.1 1546.6,1033.3 1547.3,1033.4 1547.9,1033.5 1548.6,1033.5 1549.2,1033.5 1549.9,1033.4 1550.5,1033.4 1551.2,1033.4 1551.8,1033.4 1552.5,1033.4 1553.1,1033.4 1553.8,1033.4 1554.4,1033.4 1555.1,1033.5 1555.7,1033.6 1556.4,1033.6 1557.0,1033.6 1557.7,1033.6 1558.4,1033.7 1559.0,1033.6 1559.7,1033.5 1560.3,1033.5 1561.0,1033.6 1561.6,1033.7 1562.3,1033.6 1562.9,1033.6 1563.6,1033.6 1564.2,1033.7 1564.9,1033.7 1565.5,1033.7 1566.2,1033.7 1566.8,1033.7 1567.5,1033.8 1568.1,1033.8 1568.8,1033.8 1569.5,1033.8 1570.1,1033.9 1570.8,1033.9 1571.4,1033.9 1572.1,1033.9 1572.7,1033.9 1573.4,1033.9 1574.0,1033.9 1574.7,1033.9 1575.3,1033.9 1576.0,1033.9 1576.6,1033.9 1577.3,1033.9 1577.9,1033.9 1578.6,1033.9 1579.2,1034.0 1579.9,1034.1 1580.6,1034.1 1581.2,1034.2 1581.9,1034.2 1582.5,1034.1 1583.2,1034.1 1583.8,1034.1 1584.5,1034.1 1585.1,1034.2 1585.8,1034.2 1586.4,1034.3 1587.1,1034.2 1587.7,1034.2 1588.4,1034.1 1589.0,1034.1 1589.7,1034.2 1590.3,1034.2 1591.0,1034.2 1591.7,1034.2 1592.3,1034.2 1593.0,1034.2 1593.6,1034.2 1594.3,1034.2 1594.9,1034.2 1595.6,1034.2 1596.2,1034.3 1596.9,1034.3 1597.5,1034.2 1598.2,1034.3 1598.8,1034.3 1599.5,1034.3 1600.1,1034.3 1600.8,1034.3 1601.4,1034.3 1602.1,1034.3 1602.8,1034.3 1603.4,1034.3 1604.1,1034.3 1604.7,1034.3 1605.4,1034.4 1606.0,1034.4 1606.7,1034.3 1607.3,1034.3 1608.0,1034.4 1608.6,1034.5 1609.3,1034.6 1609.9,1034.6 1610.6,1034.6 1611.2,1034.6 1611.9,1034.6 1612.5,1034.6 1613.2,1034.6 1613.9,1034.7 1614.5,1034.7 1615.2,1034.6 1615.8,1034.6 1616.5,1034.5 1617.1,1034.5 1617.8,1034.5 1618.4,1034.5 1619.1,1034.5 1619.7,1034.5 1620.4,1034.6 1621.0,1034.6 1621.7,1034.6 1622.3,1034.6 1623.0,1034.7 1623.6,1034.7 1624.3,1034.6 1625.0,1034.6 1625.6,1034.6 1626.3,1034.7 1626.9,1034.7 1627.6,1034.7 1628.2,1034.7 1628.9,1034.8 1629.5,1034.8 1630.2,1034.8 1630.8,1034.8 1631.5,1034.8 1632.1,1034.8 1632.8,1034.7 1633.4,1034.7 1634.1,1034.7 1634.7,1034.7 1635.4,1034.8 1636.1,1034.8 1636.7,1034.8 1637.4,1034.8 1638.0,1034.8 1638.7,1034.8 1639.3,1034.8 1640.0,1034.8 1640.6,1034.9 1641.3,1034.9 1641.9,1034.9 1642.6,1034.9 1643.2,1034.9 1643.9,1034.9 1644.5,1034.9 1645.2,1034.8 1645.8,1034.8 1646.5,1034.8 1647.2,1034.9 1647.8,1034.9 1648.5,1034.9 1649.1,1035.0 1649.8,1034.9 1650.4,1035.0 1651.1,1035.0 1651.7,1035.0 1652.4,1035.0 1653.0,1035.0 1653.7,1034.9 1654.3,1034.9 1655.0,1034.9 1655.6,1035.0 1656.3,1034.9 1656.9,1034.9 1657.6,1034.9 1658.3,1034.9 1658.9,1035.0 1659.6,1035.0 1660.2,1034.9 1660.9,1034.9 1661.5,1034.9 1662.2,1035.0 1662.8,1035.0 1663.5,1035.0 1664.1,1035.0 1664.8,1035.0 1665.4,1035.0 1666.1,1035.0 1666.7,1035.0 1667.4,1035.0 1668.0,1035.0 1668.7,1035.0 1669.4,1035.1 1670.0,1035.1 1670.7,1035.1 1671.3,1035.1 1672.0,1035.1 1672.6,1035.1 1673.3,1035.1 1673.9,1035.2 1674.6,1035.2 1675.2,1035.1 1675.9,1035.1 1676.5,1035.1 1677.2,1035.1 1677.8,1035.1 1678.5,1035.1 1679.1,1035.1 1679.8,1035.0 1680.5,1035.0 1681.1,1035.1 1681.8,1035.1 1682.4,1035.1 1683.1,1035.0 1683.7,1035.1 1684.4,1035.1 1685.0,1035.2 1685.7,1035.1 1686.3,1035.1 1687.0,1035.1 1687.6,1035.1 1688.3,1035.1 1688.9,1035.1 1689.6,1035.1 1690.2,1035.1 1690.9,1035.1 1691.6,1035.1 1692.2,1035.1 1692.9,1035.1 1693.5,1035.1 1694.2,1035.2 1694.8,1035.2 1695.5,1035.2 1696.1,1035.2 1696.8,1035.2 1697.4,1035.2 1698.1,1035.2 1698.7,1035.2 1699.4,1035.2 1700.0,1035.2 1700.7,1035.2 1701.3,1035.2 1702.0,1035.2 1702.7,1035.2 1703.3,1035.2 1704.0,1035.2 1704.6,1035.2 1705.3,1035.2 1705.9,1035.2 1706.6,1035.2 1707.2,1035.2 1707.9,1035.3 1708.5,1035.3 1709.2,1035.3 1709.8,1035.3 1710.5,1035.2 1711.1,1035.2 1711.8,1035.2 1712.4,1035.2 1713.1,1035.2 1713.8,1035.2 1714.4,1035.2 1715.1,1035.2 1715.7,1035.2 1716.4,1035.3 1717.0,1035.3 1717.7,1035.3 1718.3,1035.3 1719.0,1035.3 1719.6,1035.3 1720.3,1035.3 1720.9,1035.3 1721.6,1035.3 1722.2,1035.3 1722.9,1035.3 1723.5,1035.3 1724.2,1035.3 1724.9,1035.3 1725.5,1035.3 1726.2,1035.3 1726.8,1035.3 1727.5,1035.2 1728.1,1035.2 1728.8,1035.2 1729.4,1035.3 1730.1,1035.3 1730.7,1035.3 1731.4,1035.3 1732.0,1035.3 1732.7,1035.3 1733.3,1035.3 1734.0,1035.3 1734.6,1035.3 1735.3,1035.3 1736.0,1035.3 1736.6,1035.3 1737.3,1035.3 1737.9,1035.3 1738.6,1035.4 1739.2,1035.4 1739.9,1035.4 1740.5,1035.3 1741.2,1035.3 1741.8,1035.3 1742.5,1035.3 1743.1,1035.4 1743.8,1035.3 1744.4,1035.3 1745.1,1035.4 1745.7,1035.4 1746.4,1035.4 1747.1,1035.4 1747.7,1035.4 1748.4,1035.4 1749.0,1035.4 1749.7,1035.4 1750.3,1035.4 1751.0,1035.4 1751.6,1035.4 1752.3,1035.4 1752.9,1035.4 1753.6,1035.4 1754.2,1035.5 1754.9,1035.5 1755.5,1035.4 1756.2,1035.4 1756.8,1035.4 1757.5,1035.4 1758.2,1035.4 1758.8,1035.4 1759.5,1035.4 1760.1,1035.4 1760.8,1035.4 1761.4,1035.4 1762.1,1035.4 1762.7,1035.4 1763.4,1035.4 1764.0,1035.4 1764.7,1035.4 1765.3,1035.4 1766.0,1035.5 1766.6,1035.5 1767.3,1035.4 1767.9,1035.4 1768.6,1035.4 1769.3,1035.4 1769.9,1035.4 1770.6,1035.4 1771.2,1035.4 1771.9,1035.4 1772.5,1035.4 1773.2,1035.4 1773.8,1035.4 1774.5,1035.3 1775.1,1035.4 1775.8,1035.5 1776.4,1035.5 1777.1,1035.5 1777.7,1035.5 1778.4,1035.5 1779.0,1035.5 1779.7,1035.4 1780.4,1035.4 1781.0,1035.5 1781.7,1035.5 1782.3,1035.4 1783.0,1035.4 1783.6,1035.5 1784.3,1035.5 1784.9,1035.5 1785.6,1035.5 1786.2,1035.5 1786.9,1035.5 1787.5,1035.5 1788.2,1035.5 1788.8,1035.5 1789.5,1035.5 1790.1,1035.5 1790.8,1035.5 1791.5,1035.5 1792.1,1035.5 1792.8,1035.4 1793.4,1035.4 1794.1,1035.4 1794.7,1035.5 1795.4,1035.5 1796.0,1035.5 1796.7,1035.5 1797.3,1035.5 1798.0,1035.4 1798.6,1035.4 1799.3,1035.5 1799.9,1035.5 1800.6,1035.5 1801.2,1035.5 1801.9,1035.5 1802.6,1035.5 1803.2,1035.5 1803.9,1035.5 1804.5,1035.5 1805.2,1035.5 1805.8,1035.5 1806.5,1035.5 1807.1,1035.5 1807.8,1035.5 1808.4,1035.6 1809.1,1035.5 1809.7,1035.5 1810.4,1035.5 1811.0,1035.4 1811.7,1035.4 1812.3,1035.5 1813.0,1035.5 1813.7,1035.5 1814.3,1035.5 1815.0,1035.5 1815.6,1035.5 1816.3,1035.5 1816.9,1035.5 1817.6,1035.5 1818.2,1035.5 1818.9,1035.5 1819.5,1035.5 1820.2,1035.5 1820.8,1035.5 1821.5,1035.6 1822.1,1035.6 1822.8,1035.5 1823.4,1035.5 1824.1,1035.5 1824.8,1035.5 1825.4,1035.5 1826.1,1035.5 1826.7,1035.5 1827.4,1035.5 1828.0,1035.5 1828.7,1035.6 1829.3,1035.6 1830.0,1035.5 1830.6,1035.5 1831.3,1035.5 1831.9,1035.5 1832.6,1035.5 1833.2,1035.5 1833.9,1035.5 1834.5,1035.5 1835.2,1035.5 1835.9,1035.6 1836.5,1035.6 1837.2,1035.6 1837.8,1035.6 1838.5,1035.5 1839.1,1035.5 1839.8,1035.6 1840.4,1035.5 1841.1,1035.5 1841.7,1035.5 1842.4,1035.6 1843.0,1035.6 1843.7,1035.5 1844.3,1035.5 1845.0,1035.6 1845.6,1035.6 1846.3,1035.6 1847.0,1035.6 1847.6,1035.6 1848.3,1035.6 1848.9,1035.6 1849.6,1035.6 1850.2,1035.6 1850.9,1035.6 1851.5,1035.6 1852.2,1035.6 1852.8,1035.6 1853.5,1035.6 1854.1,1035.6 1854.8,1035.6 1855.4,1035.6 1856.1,1035.6 1856.7,1035.6 1857.4,1035.6 1858.1,1035.6 1858.7,1035.6 1859.4,1035.6 1860.0,1035.6 1860.7,1035.6 1861.3,1035.6 1862.0,1035.7 1862.6,1035.7 1863.3,1035.6 1863.9,1035.6 1864.6,1035.5 1865.2,1035.5 1865.9,1035.5 1866.5,1035.6 1867.2,1035.7 1867.8,1035.7 1868.5,1035.7 1869.2,1035.6 1869.8,1035.6 1870.5,1035.6 1871.1,1035.6 1871.8,1035.6 1872.4,1035.6 1873.1,1035.6 1873.7,1035.6 1874.4,1035.6 1875.0,1035.6 1875.7,1035.6 1876.3,1035.6 1877.0,1035.6 1877.6,1035.6 1878.3,1035.6 1878.9,1035.6 1879.6,1035.6 1880.3,1035.6 1880.9,1035.6 1881.6,1035.6 1882.2,1035.6 1882.9,1035.6 1883.5,1035.6 1884.2,1035.7 1884.8,1035.7 1885.5,1035.6 1886.1,1035.6 1886.8,1035.6 1887.4,1035.6 1888.1,1035.6 1888.7,1035.6 1889.4,1035.6 1890.0,1035.6 1890.7,1035.6 1891.4,1035.6 1892.0,1035.6 1892.7,1035.6 1893.3,1035.6 1894.0,1035.6 1894.6,1035.6 1895.3,1035.6 1895.9,1035.6 1896.6,1035.6 1897.2,1035.6 1897.9,1035.6 1898.5,1035.6 1899.2,1035.7 1899.8,1035.7 1900.5,1035.7 1901.1,1035.7 1901.8,1035.6 1902.5,1035.6 1903.1,1035.6 1903.8,1035.6 1904.4,1035.6 1905.1,1035.6 1905.7,1035.6 1906.4,1035.6 1907.0,1035.6 1907.7,1035.7 1908.3,1035.7 1909.0,1035.7 1909.6,1035.7 1910.3,1035.7 1910.9,1035.7 1911.6,1035.7 1912.2,1035.7 1912.9,1035.7 1913.6,1035.7 1914.2,1035.7 1914.9,1035.7 1915.5,1035.6 1916.2,1035.7 1916.8,1035.6 1917.5,1035.6 1918.1,1035.7 1918.8,1035.7 1919.4,1035.7 1920.1,1035.7 1920.7,1035.7 1921.4,1035.7 1922.0,1035.7 1922.7,1035.7 1923.3,1035.7 1924.0,1035.7 1924.7,1035.7 1925.3,1035.7 1926.0,1035.7 1926.6,1035.7 1927.3,1035.7 1927.9,1035.6 1928.6,1035.7 1929.2,1035.6 1929.9,1035.6 1930.5,1035.6 1931.2,1035.6 1931.8,1035.6 1932.5,1035.6 1933.1,1035.6 1933.8,1035.7 1934.4,1035.7 1935.1,1035.7 1935.8,1035.7 1936.4,1035.7 1937.1,1035.7 1937.7,1035.7 1938.4,1035.6 1939.0,1035.7 1939.7,1035.7 1940.3,1035.7 1941.0,1035.6 1941.6,1035.6 1942.3,1035.6 1942.9,1035.6 1943.6,1035.6 1944.2,1035.6 1944.9,1035.7 1945.5,1035.7 1946.2,1035.7 1946.9,1035.7 1947.5,1035.7 1948.2,1035.7 1948.8,1035.7 1949.5,1035.7 1950.1,1035.7 1950.8,1035.7 1951.4,1035.7 1952.1,1035.7 1952.7,1035.7 1953.4,1035.7 1954.0,1035.7 1954.7,1035.8 1955.3,1035.8 1956.0,1035.7 1956.6,1035.7 1957.3,1035.7 1958.0,1035.7 1958.6,1035.7 1959.3,1035.7 1959.9,1035.7 1960.6,1035.7 1961.2,1035.7 1961.9,1035.7 1962.5,1035.7 1963.2,1035.7 1963.8,1035.7 1964.5,1035.7 1965.1,1035.7 1965.8,1035.7 1966.4,1035.7 1967.1,1035.7 1967.7,1035.7 1968.4,1035.7 1969.1,1035.7 1969.7,1035.6 1970.4,1035.6 1971.0,1035.6 1971.7,1035.6 1972.3,1035.7 1973.0,1035.7 1973.6,1035.7 1974.3,1035.7 1974.9,1035.7 1975.6,1035.7 1976.2,1035.7 1976.9,1035.7 1977.5,1035.7 1978.2,1035.7 1978.8,1035.7 1979.5,1035.8 1980.2,1035.7 1980.8,1035.7 1981.5,1035.7 1982.1,1035.7 1982.8,1035.7 1983.4,1035.7 1984.1,1035.7 1984.7,1035.7 1985.4,1035.7 1986.0,1035.7 1986.7,1035.7 1987.3,1035.7 1988.0,1035.8 1988.6,1035.8 1989.3,1035.8 1989.9,1035.7 1990.6,1035.7 1991.3,1035.7 1991.9,1035.7 1992.6,1035.7 1993.2,1035.7 1993.9,1035.7 1994.5,1035.7 1995.2,1035.7 1995.8,1035.7 1996.5,1035.7 1997.1,1035.7 1997.8,1035.8 1998.4,1035.7 1999.1,1035.7 1999.7,1035.7 2000.4,1035.7 2001.0,1035.8 2001.7,1035.8 2002.4,1035.7 2003.0,1035.7 2003.7,1035.8 2004.3,1035.8 2005.0,1035.8 2005.6,1035.7 2006.3,1035.7 2006.9,1035.7 2007.6,1035.7 2008.2,1035.7 2008.9,1035.7 2009.5,1035.7 2010.2,1035.7 2010.8,1035.7 2011.5,1035.7 2012.1,1035.7 2012.8,1035.7 2013.5,1035.7 2014.1,1035.7 2014.8,1035.7 2015.4,1035.7 2016.1,1035.7 2016.7,1035.7 2017.4,1035.7 2018.0,1035.7 2018.7,1035.7 2019.3,1035.7 2020.0,1035.7 2020.6,1035.8 2021.3,1035.8 2021.9,1035.8 2022.6,1035.8 2023.2,1035.8 2023.9,1035.8 2024.6,1035.8 2025.2,1035.8 2025.9,1035.8 2026.5,1035.8 2027.2,1035.8 2027.8,1035.7 2028.5,1035.7 2029.1,1035.8 2029.8,1035.8 2030.4,1035.8 2031.1,1035.8 2031.7,1035.8 2032.4,1035.8 2033.0,1035.8 2033.7,1035.7 2034.3,1035.7 2035.0,1035.7 2035.7,1035.7 2036.3,1035.7 2037.0,1035.7 2037.6,1035.7 2038.3,1035.7 2038.9,1035.7 2039.6,1035.7 2040.2,1035.7 2040.9,1035.7 2041.5,1035.7 2042.2,1035.7 2042.8,1035.7 2043.5,1035.7 2044.1,1035.8 2044.8,1035.8 2045.4,1035.8 2046.1,1035.8 2046.8,1035.8 2047.4,1035.8 2048.1,1035.8 2048.7,1035.8 2049.4,1035.7 2050.0,1035.7 2050.7,1035.8 2051.3,1035.8 2052.0,1035.7 2052.6,1035.7 2053.3,1035.7 2053.9,1035.7 2054.6,1035.7 2055.2,1035.7 2055.9,1035.7 2056.5,1035.7 2057.2,1035.7 2057.8,1035.7 2058.5,1035.7 2059.2,1035.7 2059.8,1035.7 2060.5,1035.7 2061.1,1035.7 2061.8,1035.8 2062.4,1035.8 2063.1,1035.8 2063.7,1035.7 2064.4,1035.7 2065.0,1035.7 2065.7,1035.7 2066.3,1035.7 2067.0,1035.7 2067.6,1035.7 2068.3,1035.7 2068.9,1035.7 2069.6,1035.7 2070.3,1035.7 2070.9,1035.7 2071.6,1035.7 2072.2,1035.8 2072.9,1035.8 2073.5,1035.8 2074.2,1035.8 2074.8,1035.8 2075.5,1035.8 2076.1,1035.7 2076.8,1035.8 2077.4,1035.8 2078.1,1035.8 2078.7,1035.8 2079.4,1035.8 2080.0,1035.8 2080.7,1035.8 2081.4,1035.8 2082.0,1035.8 2082.7,1035.8 2083.3,1035.8 2084.0,1035.8 2084.6,1035.7 2085.3,1035.7 2085.9,1035.8 2086.6,1035.8 2087.2,1035.8 2087.9,1035.8 2088.5,1035.8 2089.2,1035.8 2089.8,1035.8 2090.5,1035.8 2091.1,1035.8 2091.8,1035.7 2092.5,1035.7 2093.1,1035.8 2093.8,1035.8 2094.4,1035.8 2095.1,1035.8 2095.7,1035.8 2096.4,1035.8 2097.0,1035.8 2097.7,1035.8 2098.3,1035.8 2099.0,1035.8 2099.6,1035.8 2100.3,1035.8 2100.9,1035.8 2101.6,1035.7 2102.2,1035.7 2102.9,1035.7 2103.6,1035.8 2104.2,1035.8 2104.9,1035.8 2105.5,1035.8 2106.2,1035.8 2106.8,1035.8 2107.5,1035.8 2108.1,1035.8 2108.8,1035.7 2109.4,1035.7 2110.1,1035.8 2110.7,1035.8 2111.4,1035.8 2112.0,1035.8 2112.7,1035.8 2113.3,1035.8 2114.0,1035.8 2114.7,1035.8 2115.3,1035.8 2116.0,1035.8 2116.6,1035.8 2117.3,1035.8 2117.9,1035.8 2118.6,1035.8 2119.2,1035.8 2119.9,1035.8 2120.5,1035.8 2121.2,1035.8 2121.8,1035.8 2122.5,1035.8 2123.1,1035.8 2123.8,1035.8 2124.4,1035.8 2125.1,1035.8 2125.8,1035.8 2126.4,1035.8 2127.1,1035.8 2127.7,1035.8 2128.4,1035.8 2129.0,1035.8 2129.7,1035.8 2130.3,1035.8 2131.0,1035.8 2131.6,1035.8 2132.3,1035.8 2132.9,1035.8 2133.6,1035.8 2134.2,1035.8 2134.9,1035.8 2135.5,1035.8 2136.2,1035.8 2136.9,1035.8 2137.5,1035.8 2138.2,1035.8 2138.8,1035.8 2139.5,1035.8 2140.1,1035.8 2140.8,1035.8 2141.4,1035.8 2142.1,1035.8 2142.7,1035.8 2143.4,1035.8 2144.0,1035.8 2144.7,1035.8 2145.3,1035.8 2146.0,1035.8 2146.6,1035.8 2147.3,1035.8 2148.0,1035.9 2148.6,1035.8 2149.3,1035.8 2149.9,1035.8 2150.6,1035.8 2151.2,1035.8 2151.9,1035.8 2152.5,1035.8 2153.2,1035.8 2153.8,1035.8 2154.5,1035.8 2155.1,1035.8 2155.8,1035.8 2156.4,1035.8 2157.1,1035.8 2157.7,1035.8 2158.4,1035.8 2159.1,1035.8 2159.7,1035.8 2160.4,1035.9 2161.0,1035.9 2161.7,1035.8 2162.3,1035.8 2163.0,1035.8 2163.6,1035.8 2164.3,1035.8 2164.9,1035.8 2165.6,1035.8 2166.2,1035.8 2166.9,1035.9 2167.5,1035.8 2168.2,1035.8 2168.8,1035.8 2169.5,1035.8 2170.2,1035.8 2170.8,1035.8 2171.5,1035.8 2172.1,1035.8 2172.8,1035.8 2173.4,1035.8 2174.1,1035.8 2174.7,1035.8 2175.4,1035.9 2176.0,1035.8 2176.7,1035.8 2177.3,1035.8 2178.0,1035.8 2178.6,1035.8 2179.3,1035.8 2179.9,1035.8 2180.6,1035.8 2181.3,1035.8 2181.9,1035.8 2182.6,1035.8 2183.2,1035.8 2183.9,1035.8 2184.5,1035.8 2185.2,1035.8 2185.8,1035.8 2186.5,1035.8 2187.1,1035.8 2187.8,1035.8 2188.4,1035.8 2189.1,1035.8 2189.7,1035.8 2190.4,1035.9 2191.0,1035.9 2191.7,1035.8 2192.4,1035.8 2193.0,1035.8 2193.7,1035.8 2194.3,1035.9 2195.0,1035.9 2195.6,1035.8 2196.3,1035.8 2196.9,1035.8 2197.6,1035.8 2198.2,1035.9 2198.9,1035.9 2199.5,1035.9 2200.2,1035.9 2200.8,1035.9 2201.5,1035.9 2202.1,1035.9 2202.8,1035.9 2203.5,1035.9 2204.1,1035.9 2204.8,1035.8 2205.4,1035.8 2206.1,1035.8 2206.7,1035.8 2207.4,1035.8 2208.0,1035.8 2208.7,1035.8 2209.3,1035.8 2210.0,1035.8 2210.6,1035.8 2211.3,1035.9 2211.9,1035.8 2212.6,1035.8 2213.2,1035.8 2213.9,1035.9 2214.6,1035.9 2215.2,1035.9 2215.9,1035.9 2216.5,1035.9 2217.2,1035.8 2217.8,1035.8 2218.5,1035.8 2219.1,1035.8 2219.8,1035.8 2220.4,1035.8 2221.1,1035.8 2221.7,1035.8 2222.4,1035.8 2223.0,1035.9 2223.7,1035.9 2224.3,1035.9 2225.0,1035.9 2225.7,1035.9 2226.3,1035.8 2227.0,1035.8 2227.6,1035.8 2228.3,1035.8 2228.9,1035.8 2229.6,1035.9 2230.2,1035.9 2230.9,1035.9 2231.5,1035.9 2232.2,1035.9 2232.8,1035.8 2233.5,1035.8 2234.1,1035.8 2234.8,1035.8 2235.4,1035.9 2236.1,1035.9 2236.8,1035.9 2237.4,1035.9 2238.1,1035.9 2238.7,1035.9 2239.4,1035.9 2240.0,1035.9 2240.7,1035.9 2241.3,1035.9 2242.0,1035.9 2242.6,1035.9 2243.3,1035.8 2243.9,1035.8 2244.6,1035.8 2245.2,1035.9 2245.9,1035.9 2246.5,1035.9 2247.2,1035.9 2247.9,1035.9 2248.5,1035.9 2249.2,1035.9 2249.8,1035.9 2250.5,1035.9 2251.1,1035.9 2251.8,1035.9 2252.4,1035.8 2253.1,1035.8 2253.7,1035.9 2254.4,1035.9 2255.0,1035.9 2255.7,1035.9 2256.3,1035.9 2257.0,1035.8 2257.6,1035.8 2258.3,1035.9 2259.0,1035.9 2259.6,1035.9 2260.3,1035.9 2260.9,1035.9 2261.6,1035.9 2262.2,1035.9 2262.9,1035.9 2263.5,1035.9 2264.2,1035.9 2264.8,1035.9 2265.5,1035.9 2266.1,1035.9 2266.8,1035.9 2267.4,1035.9 2268.1,1035.9 2268.7,1035.9 2269.4,1035.9 2270.1,1035.9 2270.7,1035.9 2271.4,1035.9 2272.0,1035.9 2272.7,1035.8 2273.3,1035.8 2274.0,1035.8 2274.6,1035.9 2275.3,1035.9 2275.9,1035.9 2276.6,1035.9 2277.2,1035.9 2277.9,1035.9 2278.5,1035.9 2279.2,1035.9 2279.8,1035.9 2280.5,1035.9 2281.2,1035.9 2281.8,1035.9 2282.5,1035.9 2283.1,1035.9 2283.8,1035.9 2284.4,1035.9 2285.1,1035.9 2285.7,1035.9 2286.4,1035.9 2287.0,1035.9 2287.7,1035.9 2288.3,1035.9 2289.0,1035.9 2289.6,1035.9 2290.3,1035.9 2290.9,1035.9 2291.3,1035.9"/>
<polyline stroke="rgb(66,84,112)" points="332.8,687.3 333.1,989.2 333.5,989.2 333.8,989.2 334.1,988.3 334.4,988.3 334.8,988.5 335.1,988.8 335.4,989.3 335.7,989.6 336.1,989.6 336.4,989.3 336.7,989.0 337.0,988.7 337.4,988.7 337.7,988.8 338.0,989.1 338.3,989.3 338.7,989.6 339.0,989.7 339.3,989.9 339.7,989.9 340.0,989.9 340.3,989.8 340.6,989.8 341.0,989.9 341.3,989.9 341.6,989.8 341.9,989.6 342.3,989.5 342.6,989.4 342.9,989.4 343.2,989.4 343.6,989.4 343.9,989.1 344.2,988.8 344.6,988.5 344.9,988.3 345.2,988.3 345.5,988.4 345.9,988.6 346.2,988.7 346.5,988.8 346.8,989.0 347.2,989.3 347.5,989.6 347.8,989.9 348.1,990.0 348.5,990.0 348.8,989.8 349.1,989.6 349.4,989.4 349.8,989.2 350.1,989.1 350.4,988.9 350.8,988.6 351.1,988.5 351.4,988.4 351.7,988.4 352.1,988.4 352.4,988.4 353.0,988.3 353.7,988.4 354.3,988.6 355.0,988.7 355.7,988.9 356.3,989.1 357.0,989.2 357.6,989.2 358.3,989.3 358.9,989.7 359.6,990.1 360.2,989.5 360.9,988.9 361.5,988.6 362.2,988.6 362.8,988.6 363.5,988.6 364.1,989.0 364.8,989.5 365.4,989.5 366.1,989.3 366.8,989.3 367.4,989.8 368.1,990.5 368.7,990.5 369.4,989.4 370.0,988.7 370.7,988.8 371.3,989.0 372.0,989.1 372.6,990.0 373.3,991.1 373.9,991.8 374.6,992.1 375.2,992.1 375.9,992.0 376.5,992.4 377.2,992.7 377.9,992.9 378.5,993.6 379.2,994.3 379.8,994.3 380.5,994.8 381.1,995.9 381.8,996.7 382.4,996.9 383.1,997.3 383.7,998.0 384.4,998.9 385.0,1000.1 385.7,1001.2 386.3,1002.0 387.0,1002.3 387.6,1002.9 388.3,1004.0 389.0,1004.9 389.6,1005.2 390.3,1005.6 390.9,1006.5 391.6,1007.3 392.2,1007.4 392.9,1007.3 393.5,1007.6 394.2,1008.2 394.8,1008.4 395.5,1008.2 396.1,1008.4 396.8,1009.4 397.4,1010.6 398.1,1011.1 398.7,1010.9 399.4,1010.6 400.1,1011.1 400.7,1011.9 401.4,1012.2 402.0,1012.3 402.7,1012.6 403.3,1012.7 404.0,1012.6 404.6,1012.8 405.3,1013.6 405.9,1014.2 406.6,1014.3 407.2,1014.4 407.9,1014.5 408.5,1014.8 409.2,1015.4 409.8,1015.8 410.5,1016.1 411.2,1016.5 411.8,1017.0 412.5,1017.3 413.1,1017.8 413.8,1018.4 414.4,1018.8 415.1,1019.1 415.7,1019.2 416.4,1019.1 417.0,1019.1 417.7,1019.1 418.3,1019.4 419.0,1020.3 419.6,1020.9 420.3,1020.9 420.9,1021.0 421.6,1021.2 422.3,1021.4 422.9,1021.5 423.6,1021.4 424.2,1021.2 424.9,1021.2 425.5,1021.6 426.2,1021.8 426.8,1021.6 427.5,1021.5 428.1,1022.1 428.8,1022.5 429.4,1022.2 430.1,1021.4 430.7,1021.1 431.4,1021.2 432.0,1021.4 432.7,1022.0 433.4,1022.9 434.0,1023.1 434.7,1022.7 435.3,1022.8 436.0,1023.2 436.6,1023.1 437.3,1022.6 437.9,1022.0 438.6,1022.1 439.2,1023.1 439.9,1024.4 440.5,1024.9 441.2,1024.5 441.8,1023.9 442.5,1023.4 443.1,1023.5 443.8,1024.0 444.5,1024.4 445.1,1024.7 445.8,1025.1 446.4,1025.2 447.1,1025.3 447.7,1025.6 448.4,1025.7 449.0,1025.4 449.7,1025.3 450.3,1025.3 451.0,1024.9 451.6,1024.5 452.3,1024.6 452.9,1024.9 453.6,1025.1 454.2,1025.6 454.9,1026.1 455.6,1026.4 456.2,1026.3 456.9,1026.1 457.5,1026.4 458.2,1026.8 458.8,1026.8 459.5,1026.4 460.1,1026.2 460.8,1026.3 461.4,1026.2 462.1,1026.2 462.7,1026.2 463.4,1026.3 464.0,1026.8 464.7,1027.4 465.3,1027.9 466.0,1028.0 466.7,1027.7 467.3,1027.5 468.0,1027.4 468.6,1027.2 469.3,1027.2 469.9,1027.3 470.6,1027.3 471.2,1027.5 471.9,1027.6 472.5,1027.4 473.2,1026.9 473.8,1026.4 474.5,1026.4 475.1,1026.7 475.8,1026.7 476.4,1026.5 477.1,1026.4 477.8,1026.6 478.4,1026.9 479.1,1027.2 479.7,1027.4 480.4,1027.4 481.0,1027.7 481.7,1028.1 482.3,1028.1 483.0,1028.0 483.6,1027.9 484.3,1027.9 484.9,1028.3 485.6,1028.4 486.2,1027.6 486.9,1027.1 487.5,1027.1 488.2,1027.1 488.9,1027.3 489.5,1027.5 490.2,1027.3 490.8,1027.2 491.5,1027.3 492.1,1027.7 492.8,1028.4 493.4,1029.1 494.1,1029.2 494.7,1028.8 495.4,1028.5 496.0,1028.5 496.7,1028.7 497.3,1028.7 498.0,1028.4 498.6,1028.1 499.3,1028.2 500.0,1028.4 500.6,1028.3 501.3,1028.0 501.9,1027.7 502.6,1027.7 503.2,1027.9 503.9,1028.1 504.5,1028.4 505.2,1028.3 505.8,1028.0 506.5,1027.9 507.1,1028.1 507.8,1028.5 508.4,1028.6 509.1,1028.5 509.7,1028.4 510.4,1028.5 511.1,1028.4 511.7,1028.1 512.4,1027.9 513.0,1027.8 513.7,1028.2 514.3,1028.5 515.0,1028.5 515.6,1028.1 516.3,1027.3 516.9,1027.2 517.6,1027.7 518.2,1028.1 518.9,1028.4 519.5,1028.5 520.2,1028.5 520.8,1028.7 521.5,1028.6 522.2,1028.1 522.8,1028.2 523.5,1028.4 524.1,1028.3 524.8,1028.4 525.4,1028.7 526.1,1028.8 526.7,1028.6 527.4,1028.4 528.0,1028.4 528.7,1028.2 529.3,1028.0 530.0,1028.1 530.6,1028.3 531.3,1028.1 531.9,1028.1 532.6,1028.5 533.3,1029.0 533.9,1029.3 534.6,1029.0 535.2,1028.2 535.9,1027.7 536.5,1027.7 537.2,1028.0 537.8,1028.3 538.5,1028.4 539.1,1028.7 539.8,1028.8 540.4,1028.7 541.1,1028.4 541.7,1028.2 542.4,1028.0 543.0,1028.1 543.7,1028.1 544.4,1027.7 545.0,1027.4 545.7,1027.5 546.3,1027.9 547.0,1028.6 547.6,1028.8 548.3,1028.3 548.9,1027.5 549.6,1027.5 550.2,1028.2 550.9,1028.6 551.5,1028.5 552.2,1028.7 552.8,1029.4 553.5,1029.7 554.1,1029.4 554.8,1029.0 555.5,1028.5 556.1,1028.0 556.8,1027.9 557.4,1027.9 558.1,1028.1 558.7,1028.4 559.4,1028.4 560.0,1028.3 560.7,1028.0 561.3,1027.9 562.0,1028.2 562.6,1028.1 563.3,1027.8 563.9,1027.6 564.6,1027.6 565.2,1027.7 565.9,1027.7 566.6,1027.8 567.2,1028.1 567.9,1028.2 568.5,1028.0 569.2,1027.9 569.8,1027.8 570.5,1027.7 571.1,1027.8 571.8,1028.1 572.4,1028.1 573.1,1028.0 573.7,1028.1 574.4,1028.1 575.0,1028.0 575.7,1028.0 576.3,1027.9 577.0,1027.5 577.7,1027.2 578.3,1027.5 579.0,1028.2 579.6,1028.5 580.3,1028.1 580.9,1027.8 581.6,1028.0 582.2,1028.4 582.9,1028.2 583.5,1027.8 584.2,1027.7 584.8,1027.9 585.5,1027.7 586.1,1027.5 586.8,1027.8 587.4,1028.0 588.1,1027.9 588.7,1027.9 589.4,1028.1 590.1,1028.1 590.7,1028.1 591.4,1027.8 592.0,1027.1 592.7,1026.6 593.3,1027.0 594.0,1027.9 594.6,1028.3 595.3,1028.5 595.9,1028.7 596.6,1028.7 597.2,1028.3 597.9,1027.8 598.5,1027.5 599.2,1027.7 599.8,1028.3 600.5,1029.0 601.2,1029.3 601.8,1029.0 602.5,1028.3 603.1,1027.7 603.8,1027.3 604.4,1027.4 605.1,1027.6 605.7,1027.3 606.4,1026.9 607.0,1027.2 607.7,1027.8 608.3,1028.5 609.0,1028.8 609.6,1028.5 610.3,1028.0 610.9,1027.6 611.6,1027.5 612.3,1027.5 612.9,1027.6 613.6,1027.8 614.2,1028.0 614.9,1028.0 615.5,1027.7 616.2,1027.8 616.8,1028.1 617.5,1028.0 618.1,1027.9 618.8,1027.9 619.4,1027.8 620.1,1027.8 620.7,1027.8 621.4,1027.8 622.0,1027.6 622.7,1027.5 623.4,1027.6 624.0,1028.1 624.7,1028.6 625.3,1028.9 626.0,1029.0 626.6,1028.8 627.3,1028.2 627.9,1027.6 628.6,1027.5 629.2,1027.8 629.9,1028.1 630.5,1028.1 631.2,1028.3 631.8,1028.7 632.5,1028.6 633.1,1027.8 633.8,1027.0 634.5,1027.0 635.1,1027.5 635.8,1027.6 636.4,1027.6 637.1,1027.7 637.7,1028.1 638.4,1028.6 639.0,1028.9 639.7,1028.9 640.3,1028.7 641.0,1028.5 641.6,1028.4 642.3,1028.3 642.9,1028.2 643.6,1028.1 644.2,1027.8 644.9,1027.7 645.6,1027.9 646.2,1028.3 646.9,1028.6 647.5,1028.7 648.2,1028.7 648.8,1028.7 649.5,1028.6 650.1,1028.4 650.8,1028.1 651.4,1028.1 652.1,1028.2 652.7,1028.2 653.4,1028.2 654.0,1028.3 654.7,1028.1 655.3,1027.7 656.0,1027.8 656.7,1028.2 657.3,1028.5 658.0,1028.3 658.6,1027.6 659.3,1027.1 659.9,1027.0 660.6,1027.3 661.2,1027.6 661.9,1027.6 662.5,1027.7 663.2,1028.1 663.8,1028.3 664.5,1028.0 665.1,1027.8 665.8,1027.8 666.4,1028.0 667.1,1028.0 667.8,1027.9 668.4,1027.5 669.1,1027.2 669.7,1027.5 670.4,1028.0 671.0,1028.4 671.7,1028.6 672.3,1028.4 673.0,1028.1 673.6,1027.7 674.3,1027.1 674.9,1027.2 675.6,1027.7 676.2,1027.8 676.9,1027.8 677.5,1028.1 678.2,1028.5 678.9,1028.5 679.5,1028.1 680.2,1027.7 680.8,1027.6 681.5,1027.9 682.1,1028.3 682.8,1028.1 683.4,1027.5 684.1,1027.1 684.7,1027.3 685.4,1027.8 686.0,1028.4 686.7,1028.7 687.3,1028.6 688.0,1028.3 688.6,1028.0 689.3,1028.0 690.0,1028.2 690.6,1028.4 691.3,1028.1 691.9,1027.7 692.6,1027.4 693.2,1027.2 693.9,1027.2 694.5,1027.7 695.2,1028.0 695.8,1028.4 696.5,1028.7 697.1,1028.5 697.8,1028.1 698.4,1028.1 699.1,1028.6 699.7,1028.6 700.4,1028.1 701.1,1027.7 701.7,1027.4 702.4,1027.1 703.0,1027.2 703.7,1027.6 704.3,1027.9 705.0,1027.9 705.6,1028.2 706.3,1028.6 706.9,1028.3 707.6,1027.8 708.2,1027.8 708.9,1027.9 709.5,1027.7 710.2,1027.4 710.8,1027.5 711.5,1028.0 712.2,1028.2 712.8,1028.1 713.5,1027.9 714.1,1028.2 714.8,1028.5 715.4,1028.4 716.1,1028.2 716.7,1028.1 717.4,1028.1 718.0,1028.0 718.7,1027.7 719.3,1027.6 720.0,1027.7 720.6,1027.7 721.3,1027.4 721.9,1027.0 722.6,1027.3 723.3,1028.1 723.9,1028.9 724.6,1029.2 725.2,1029.0 725.9,1028.8 726.5,1028.7 727.2,1028.7 727.8,1028.4 728.5,1028.1 729.1,1028.0 729.8,1028.1 730.4,1028.3 731.1,1027.9 731.7,1027.7 732.4,1027.7 733.0,1027.7 733.7,1027.6 734.4,1027.6 735.0,1027.4 735.7,1027.3 736.3,1027.2 737.0,1027.4 737.6,1027.9 738.3,1028.3 738.9,1028.6 739.6,1028.8 740.2,1028.6 740.9,1028.1 741.5,1028.0 742.2,1028.2 742.8,1028.1 743.5,1027.8 744.1,1027.6 744.8,1027.8 745.5,1027.7 746.1,1027.3 746.8,1027.3 747.4,1027.7 748.1,1028.1 748.7,1028.0 749.4,1027.8 750.0,1028.0 750.7,1028.5 751.3,1028.9 752.0,1028.5 752.6,1027.8 753.3,1027.5 753.9,1027.6 754.6,1027.8 755.2,1027.9 755.9,1028.0 756.6,1028.0 757.2,1028.3 757.9,1028.9 758.5,1028.8 759.2,1028.3 759.8,1028.0 760.5,1028.0 761.1,1028.3 761.8,1028.4 762.4,1028.5 763.1,1028.5 763.7,1028.6 764.4,1028.8 765.0,1028.7 765.7,1028.2 766.3,1027.8 767.0,1027.7 767.7,1027.6 768.3,1027.8 769.0,1028.0 769.6,1028.2 770.3,1028.1 770.9,1027.9 771.6,1027.9 772.2,1028.1 772.9,1028.1 773.5,1027.9 774.2,1027.7 774.8,1027.5 775.5,1027.3 776.1,1027.3 776.8,1027.5 777.4,1027.8 778.1,1027.9 778.8,1027.8 779.4,1027.7 780.1,1027.6 780.7,1027.6 781.4,1027.6 782.0,1027.7 782.7,1028.1 783.3,1028.4 784.0,1028.1 784.6,1027.9 785.3,1028.1 785.9,1028.5 786.6,1028.7 787.2,1028.5 787.9,1028.1 788.5,1027.6 789.2,1027.4 789.9,1027.4 790.5,1027.3 791.2,1027.1 791.8,1027.0 792.5,1027.3 793.1,1027.9 793.8,1028.1 794.4,1028.1 795.1,1028.2 795.7,1028.2 796.4,1028.1 797.0,1027.8 797.7,1027.7 798.3,1028.0 799.0,1028.2 799.6,1028.1 800.3,1028.0 801.0,1028.1 801.6,1028.0 802.3,1027.4 802.9,1026.9 803.6,1026.7 804.2,1027.0 804.9,1027.8 805.5,1028.4 806.2,1028.5 806.8,1028.1 807.5,1027.7 808.1,1027.7 808.8,1027.9 809.4,1028.1 810.1,1027.9 810.7,1027.7 811.4,1027.8 812.1,1028.0 812.7,1027.6 813.4,1027.1 814.0,1026.9 814.7,1027.4 815.3,1027.8 816.0,1028.0 816.6,1028.3 817.3,1028.6 817.9,1028.6 818.6,1028.5 819.2,1028.6 819.9,1028.6 820.5,1028.3 821.2,1028.1 821.8,1028.1 822.5,1028.0 823.2,1028.0 823.8,1027.9 824.5,1027.8 825.1,1027.8 825.8,1028.1 826.4,1028.2 827.1,1028.1 827.7,1028.3 828.4,1028.6 829.0,1028.5 829.7,1028.5 830.3,1028.5 831.0,1028.2 831.6,1028.0 832.3,1028.1 832.9,1028.5 833.6,1028.5 834.3,1028.2 834.9,1028.2 835.6,1028.3 836.2,1027.9 836.9,1027.5 837.5,1027.6 838.2,1028.3 838.8,1028.9 839.5,1028.7 840.1,1028.2 840.8,1028.2 841.4,1028.2 842.1,1028.0 842.7,1028.1 843.4,1028.4 844.0,1028.7 844.7,1029.0 845.4,1029.0 846.0,1028.3 846.7,1027.6 847.3,1027.8 848.0,1028.1 848.6,1027.8 849.3,1027.3 849.9,1027.1 850.6,1027.3 851.2,1027.4 851.9,1027.4 852.5,1027.6 853.2,1028.1 853.8,1028.4 854.5,1028.1 855.1,1027.8 855.8,1027.8 856.5,1027.5 857.1,1027.3 857.8,1027.4 858.4,1027.3 859.1,1027.1 859.7,1027.2 860.4,1027.5 861.0,1028.0 861.7,1028.3 862.3,1028.8 863.0,1029.2 863.6,1029.2 864.3,1029.1 864.9,1029.3 865.6,1029.6 866.2,1029.5 866.9,1029.1 867.6,1028.5 868.2,1027.9 868.9,1027.7 869.5,1028.0 870.2,1028.1 870.8,1027.9 871.5,1027.9 872.1,1028.2 872.8,1027.9 873.4,1027.6 874.1,1027.5 874.7,1027.8 875.4,1028.3 876.0,1028.9 876.7,1029.1 877.3,1029.0 878.0,1028.6 878.7,1027.8 879.3,1027.3 880.0,1027.8 880.6,1028.2 881.3,1028.1 881.9,1027.8 882.6,1027.5 883.2,1027.8 883.9,1028.2 884.5,1028.5 885.2,1029.1 885.8,1029.5 886.5,1029.3 887.1,1029.0 887.8,1028.6 888.4,1028.3 889.1,1028.2 889.8,1027.9 890.4,1027.4 891.1,1026.9 891.7,1026.8 892.4,1027.0 893.0,1027.2 893.7,1027.4 894.3,1027.4 895.0,1027.4 895.6,1027.5 896.3,1027.8 896.9,1028.1 897.6,1028.2 898.2,1028.1 898.9,1028.1 899.5,1028.4 900.2,1028.8 900.9,1028.7 901.5,1028.2 902.2,1027.8 902.8,1027.6 903.5,1027.7 904.1,1027.8 904.8,1027.8 905.4,1027.7 906.1,1027.5 906.7,1027.4 907.4,1027.6 908.0,1028.0 908.7,1028.4 909.3,1028.5 910.0,1028.4 910.6,1027.9 911.3,1027.5 912.0,1027.5 912.6,1027.9 913.3,1028.2 913.9,1027.9 914.6,1027.4 915.2,1027.3 915.9,1027.9 916.5,1028.4 917.2,1028.3 917.8,1027.8 918.5,1027.3 919.1,1027.3 919.8,1027.6 920.4,1027.6 921.1,1027.5 921.7,1027.6 922.4,1027.4 923.1,1027.0 923.7,1026.9 924.4,1027.4 925.0,1028.0 925.7,1028.5 926.3,1029.0 927.0,1028.9 927.6,1028.5 928.3,1028.0 928.9,1027.8 929.6,1027.9 930.2,1027.8 930.9,1027.5 931.5,1027.3 932.2,1027.7 932.8,1028.5 933.5,1028.8 934.2,1028.8 934.8,1028.4 935.5,1027.8 936.1,1027.6 936.8,1027.8 937.4,1028.0 938.1,1028.1 938.7,1027.9 939.4,1027.7 940.0,1027.8 940.7,1027.9 941.3,1028.3 942.0,1028.5 942.6,1027.9 943.3,1027.4 943.9,1027.6 944.6,1027.7 945.3,1027.5 945.9,1027.3 946.6,1027.1 947.2,1027.2 947.9,1027.9 948.5,1028.2 949.2,1028.1 949.8,1027.9 950.5,1028.0 951.1,1028.2 951.8,1028.1 952.4,1028.1 953.1,1028.1 953.7,1028.2 954.4,1028.3 955.0,1028.3 955.7,1028.3 956.4,1028.5 957.0,1028.1 957.7,1027.4 958.3,1026.9 959.0,1027.0 959.6,1027.5 960.3,1027.9 960.9,1028.1 961.6,1027.9 962.2,1027.3 962.9,1026.9 963.5,1027.2 964.2,1027.4 964.8,1027.3 965.5,1027.2 966.1,1027.4 966.8,1027.8 967.5,1028.2 968.1,1028.5 968.8,1028.7 969.4,1028.8 970.1,1028.5 970.7,1028.1 971.4,1028.0 972.0,1027.9 972.7,1028.0 973.3,1028.3 974.0,1028.8 974.6,1029.0 975.3,1028.6 975.9,1028.1 976.6,1027.9 977.2,1027.9 977.9,1027.8 978.6,1027.8 979.2,1027.6 979.9,1027.9 980.5,1028.3 981.2,1028.3 981.8,1028.2 982.5,1028.2 983.1,1028.2 983.8,1028.1 984.4,1028.0 985.1,1027.7 985.7,1027.7 986.4,1027.8 987.0,1027.9 987.7,1028.1 988.3,1028.4 989.0,1028.6 989.7,1028.5 990.3,1028.3 991.0,1027.9 991.6,1027.4 992.3,1027.5 992.9,1028.0 993.6,1028.4 994.2,1028.6 994.9,1028.5 995.5,1028.3 996.2,1028.0 996.8,1028.3 997.5,1028.9 998.1,1029.4 998.8,1029.5 999.4,1029.3 1000.1,1029.1 1000.8,1028.8 1001.4,1028.7 1002.1,1028.8 1002.7,1028.9 1003.4,1028.7 1004.0,1028.3 1004.7,1028.2 1005.3,1028.2 1006.0,1028.2 1006.6,1028.1 1007.3,1028.0 1007.9,1028.0 1008.6,1028.0 1009.2,1028.1 1009.9,1028.1 1010.5,1028.0 1011.2,1027.8 1011.9,1027.3 1012.5,1026.9 1013.2,1027.1 1013.8,1027.9 1014.5,1028.8 1015.1,1029.2 1015.8,1029.1 1016.4,1028.4 1017.1,1027.6 1017.7,1027.3 1018.4,1027.5 1019.0,1027.8 1019.7,1027.7 1020.3,1027.6 1021.0,1027.7 1021.6,1027.9 1022.3,1028.0 1023.0,1028.2 1023.6,1028.4 1024.3,1028.7 1024.9,1028.8 1025.6,1028.8 1026.2,1028.9 1026.9,1029.1 1027.5,1028.8 1028.2,1028.4 1028.8,1028.2 1029.5,1028.0 1030.1,1028.2 1030.8,1028.6 1031.4,1028.7 1032.1,1029.0 1032.7,1029.0 1033.4,1028.8 1034.1,1028.4 1034.7,1027.9 1035.4,1027.9 1036.0,1028.8 1036.7,1029.3 1037.3,1029.1 1038.0,1029.0 1038.6,1028.9 1039.3,1028.8 1039.9,1028.3 1040.6,1028.0 1041.2,1028.3 1041.9,1028.9 1042.5,1029.0 1043.2,1028.6 1043.8,1028.0 1044.5,1027.5 1045.2,1027.3 1045.8,1027.5 1046.5,1027.7 1047.1,1027.9 1047.8,1028.3 1048.4,1028.5 1049.1,1028.5 1049.7,1028.3 1050.4,1028.4 1051.0,1028.5 1051.7,1028.3 1052.3,1028.1 1053.0,1028.1 1053.6,1028.3 1054.3,1028.2 1054.9,1027.5 1055.6,1027.3 1056.3,1027.7 1056.9,1028.4 1057.6,1028.9 1058.2,1029.0 1058.9,1028.8 1059.5,1028.6 1060.2,1028.5 1060.8,1028.6 1061.5,1028.6 1062.1,1028.3 1062.8,1028.3 1063.4,1028.9 1064.1,1029.4 1064.7,1029.4 1065.4,1029.3 1066.0,1029.1 1066.7,1028.9 1067.4,1028.7 1068.0,1028.5 1068.7,1028.5 1069.3,1028.4 1070.0,1028.2 1070.6,1027.9 1071.3,1027.3 1071.9,1027.2 1072.6,1027.6 1073.2,1028.0 1073.9,1028.2 1074.5,1028.4 1075.2,1028.6 1075.8,1028.8 1076.5,1028.9 1077.1,1028.7 1077.8,1028.4 1078.4,1028.1 1079.1,1028.0 1079.8,1028.3 1080.4,1028.7 1081.1,1028.7 1081.7,1028.2 1082.4,1028.1 1083.0,1028.1 1083.7,1028.1 1084.3,1028.1 1085.0,1028.1 1085.6,1028.0 1086.3,1028.2 1086.9,1028.6 1087.6,1028.6 1088.2,1028.6 1088.9,1028.8 1089.5,1029.0 1090.2,1028.8 1090.9,1028.7 1091.5,1028.6 1092.2,1028.4 1092.8,1028.3 1093.5,1028.4 1094.1,1028.2 1094.8,1027.9 1095.4,1027.9 1096.1,1028.3 1096.7,1028.7 1097.4,1029.0 1098.0,1029.1 1098.7,1029.3 1099.3,1029.3 1100.0,1028.9 1100.6,1028.5 1101.3,1028.6 1102.0,1029.0 1102.6,1029.3 1103.3,1029.5 1103.9,1029.6 1104.6,1029.5 1105.2,1029.5 1105.9,1029.4 1106.5,1029.0 1107.2,1028.6 1107.8,1028.9 1108.5,1029.2 1109.1,1029.0 1109.8,1028.8 1110.4,1029.1 1111.1,1029.6 1111.7,1029.4 1112.4,1028.9 1113.1,1028.7 1113.7,1029.1 1114.4,1029.3 1115.0,1029.3 1115.7,1029.5 1116.3,1029.6 1117.0,1029.4 1117.6,1029.3 1118.3,1029.1 1118.9,1028.9 1119.6,1028.9 1120.2,1029.2 1120.9,1029.3 1121.5,1029.0 1122.2,1028.8 1122.8,1029.0 1123.5,1029.1 1124.2,1029.2 1124.8,1029.4 1125.5,1029.5 1126.1,1029.3 1126.8,1028.8 1127.4,1028.4 1128.1,1028.6 1128.7,1029.4 1129.4,1030.0 1130.0,1030.0 1130.7,1029.9 1131.3,1030.0 1132.0,1029.9 1132.6,1029.6 1133.3,1029.5 1133.9,1029.6 1134.6,1029.6 1135.3,1029.5 1135.9,1029.6 1136.6,1029.9 1137.2,1030.1 1137.9,1030.0 1138.5,1029.9 1139.2,1029.7 1139.8,1029.7 1140.5,1030.0 1141.1,1030.1 1141.8,1030.0 1142.4,1029.9 1143.1,1029.8 1143.7,1029.6 1144.4,1029.5 1145.0,1029.8 1145.7,1030.2 1146.4,1030.4 1147.0,1030.5 1147.7,1030.8 1148.3,1030.8 1149.0,1030.3 1149.6,1029.8 1150.3,1029.7 1150.9,1029.8 1151.6,1029.8 1152.2,1029.6 1152.9,1029.8 1153.5,1029.9 1154.2,1030.0 1154.8,1030.0 1155.5,1029.9 1156.1,1029.7 1156.8,1029.8 1157.5,1030.1 1158.1,1030.3 1158.8,1030.5 1159.4,1030.7 1160.1,1030.9 1160.7,1030.7 1161.4,1030.4 1162.0,1030.5 1162.7,1030.8 1163.3,1030.9 1164.0,1030.8 1164.6,1030.9 1165.3,1031.1 1165.9,1031.3 1166.6,1031.1 1167.2,1030.9 1167.9,1031.1 1168.6,1031.1 1169.2,1030.7 1169.9,1030.4 1170.5,1030.4 1171.2,1030.4 1171.8,1030.4 1172.5,1030.6 1173.1,1030.6 1173.8,1030.4 1174.4,1030.3 1175.1,1030.4 1175.7,1030.6 1176.4,1030.9 1177.0,1031.0 1177.7,1031.1 1178.3,1031.1 1179.0,1030.8 1179.7,1030.6 1180.3,1030.8 1181.0,1030.9 1181.6,1030.9 1182.3,1031.0 1182.9,1031.3 1183.6,1031.5 1184.2,1031.6 1184.9,1031.4 1185.5,1031.2 1186.2,1031.2 1186.8,1031.2 1187.5,1031.3 1188.1,1031.3 1188.8,1031.4 1189.4,1031.3 1190.1,1031.2 1190.8,1031.2 1191.4,1031.5 1192.1,1031.7 1192.7,1031.7 1193.4,1031.6 1194.0,1031.4 1194.7,1031.2 1195.3,1031.3 1196.0,1031.5 1196.6,1031.5 1197.3,1031.3 1197.9,1031.3 1198.6,1031.5 1199.2,1031.7 1199.9,1031.9 1200.5,1032.0 1201.2,1031.9 1201.9,1031.7 1202.5,1031.5 1203.2,1031.5 1203.8,1031.5 1204.5,1031.6 1205.1,1031.8 1205.8,1031.8 1206.4,1031.6 1207.1,1031.4 1207.7,1031.4 1208.4,1031.4 1209.0,1031.8 1209.7,1032.0 1210.3,1031.9 1211.0,1032.0 1211.6,1032.1 1212.3,1032.2 1213.0,1031.9 1213.6,1031.5 1214.3,1031.3 1214.9,1031.4 1215.6,1031.6 1216.2,1031.8 1216.9,1031.9 1217.5,1031.9 1218.2,1031.9 1218.8,1031.9 1219.5,1031.8 1220.1,1031.9 1220.8,1032.2 1221.4,1032.5 1222.1,1032.6 1222.7,1032.5 1223.4,1032.3 1224.1,1032.3 1224.7,1032.3 1225.4,1032.2 1226.0,1032.1 1226.7,1032.1 1227.3,1032.1 1228.0,1032.1 1228.6,1032.4 1229.3,1032.6 1229.9,1032.7 1230.6,1032.6 1231.2,1032.4 1231.9,1032.2 1232.5,1032.5 1233.2,1032.9 1233.8,1033.0 1234.5,1032.9 1235.2,1032.7 1235.8,1032.4 1236.5,1032.3 1237.1,1032.4 1237.8,1032.4 1238.4,1032.5 1239.1,1032.7 1239.7,1032.6 1240.4,1032.7 1241.0,1032.9 1241.7,1032.9 1242.3,1032.7 1243.0,1032.6 1243.6,1032.6 1244.3,1032.5 1244.9,1032.4 1245.6,1032.4 1246.3,1032.5 1246.9,1032.6 1247.6,1032.9 1248.2,1033.1 1248.9,1032.8 1249.5,1032.6 1250.2,1032.6 1250.8,1032.7 1251.5,1032.6 1252.1,1032.5 1252.8,1032.4 1253.4,1032.5 1254.1,1032.7 1254.7,1032.9 1255.4,1033.0 1256.0,1032.9 1256.7,1033.0 1257.4,1033.0 1258.0,1033.0 1258.7,1032.9 1259.3,1032.6 1260.0,1032.5 1260.6,1032.6 1261.3,1032.8 1261.9,1032.7 1262.6,1032.7 1263.2,1032.9 1263.9,1033.0 1264.5,1033.1 1265.2,1033.4 1265.8,1033.7 1266.5,1033.8 1267.1,1033.7 1267.8,1033.4 1268.5,1033.1 1269.1,1032.9 1269.8,1032.9 1270.4,1033.0 1271.1,1033.1 1271.7,1033.1 1272.4,1033.3 1273.0,1033.6 1273.7,1033.8 1274.3,1033.6 1275.0,1033.4 1275.6,1033.1 1276.3,1033.0 1276.9,1033.1 1277.6,1033.2 1278.2,1033.2 1278.9,1033.4 1279.6,1033.5 1280.2,1033.3 1280.9,1033.2 1281.5,1033.2 1282.2,1033.2 1282.8,1033.2 1283.5,1033.3 1284.1,1033.5 1284.8,1033.7 1285.4,1033.7 1286.1,1033.6 1286.7,1033.5 1287.4,1033.3 1288.0,1033.4 1288.7,1033.6 1289.3,1033.6 1290.0,1033.4 1290.7,1033.4 1291.3,1033.5 1292.0,1033.7 1292.6,1033.7 1293.3,1033.5 1293.9,1033.4 1294.6,1033.4 1295.2,1033.6 1295.9,1033.7 1296.5,1033.4 1297.2,1033.4 1297.8,1033.5 1298.5,1033.7 1299.1,1033.7 1299.8,1033.6 1300.4,1033.6 1301.1,1033.6 1301.8,1033.7 1302.4,1033.6 1303.1,1033.6 1303.7,1033.6 1304.4,1033.6 1305.0,1033.8 1305.7,1034.0 1306.3,1034.2 1307.0,1034.2 1307.6,1034.1 1308.3,1033.9 1308.9,1033.7 1309.6,1033.6 1310.2,1033.7 1310.9,1033.8 1311.5,1033.9 1312.2,1033.8 1312.9,1033.8 1313.5,1033.8 1314.2,1033.7 1314.8,1033.5 1315.5,1033.5 1316.1,1033.6 1316.8,1033.8 1317.4,1033.9 1318.1,1033.8 1318.7,1033.7 1319.4,1033.6 1320.0,1033.5 1320.7,1033.4 1321.3,1033.5 1322.0,1033.7 1322.6,1033.8 1323.3,1033.9 1324.0,1033.9 1324.6,1033.8 1325.3,1033.6 1325.9,1033.7 1326.6,1033.9 1327.2,1034.1 1327.9,1034.2 1328.5,1034.1 1329.2,1034.0 1329.8,1033.8 1330.5,1033.8 1331.1,1033.9 1331.8,1034.0 1332.4,1033.9 1333.1,1034.0 1333.7,1034.0 1334.4,1034.0 1335.1,1034.0 1335.7,1034.0 1336.4,1034.2 1337.0,1034.4 1337.7,1034.3 1338.3,1034.0 1339.0,1033.8 1339.6,1033.9 1340.3,1034.2 1340.9,1034.3 1341.6,1034.2 1342.2,1034.2 1342.9,1034.2 1343.5,1034.2 1344.2,1034.1 1344.8,1034.0 1345.5,1033.9 1346.2,1034.0 1346.8,1034.2 1347.5,1034.4 1348.1,1034.3 1348.8,1034.2 1349.4,1034.2 1350.1,1034.2 1350.7,1034.1 1351.4,1034.1 1352.0,1034.2 1352.7,1034.3 1353.3,1034.2 1354.0,1034.1 1354.6,1034.0 1355.3,1034.1 1355.9,1034.2 1356.6,1034.4 1357.3,1034.4 1357.9,1034.3 1358.6,1034.2 1359.2,1034.2 1359.9,1034.2 1360.5,1034.2 1361.2,1034.2 1361.8,1034.3 1362.5,1034.4 1363.1,1034.4 1363.8,1034.4 1364.4,1034.3 1365.1,1034.2 1365.7,1034.1 1366.4,1034.2 1367.0,1034.4 1367.7,1034.5 1368.4,1034.5 1369.0,1034.5 1369.7,1034.6 1370.3,1034.6 1371.0,1034.6 1371.6,1034.5 1372.3,1034.4 1372.9,1034.5 1373.6,1034.5 1374.2,1034.4 1374.9,1034.4 1375.5,1034.4 1376.2,1034.4 1376.8,1034.5 1377.5,1034.5 1378.1,1034.5 1378.8,1034.4 1379.5,1034.2 1380.1,1034.1 1380.8,1034.2 1381.4,1034.3 1382.1,1034.4 1382.7,1034.4 1383.4,1034.4 1384.0,1034.4 1384.7,1034.4 1385.3,1034.4 1386.0,1034.5 1386.6,1034.4 1387.3,1034.4 1387.9,1034.4 1388.6,1034.4 1389.2,1034.4 1389.9,1034.5 1390.6,1034.6 1391.2,1034.7 1391.9,1034.7 1392.5,1034.6 1393.2,1034.6 1393.8,1034.5 1394.5,1034.5 1395.1,1034.5 1395.8,1034.5 1396.4,1034.5 1397.1,1034.6 1397.7,1034.8 1398.4,1034.8 1399.0,1034.7 1399.7,1034.7 1400.3,1034.8 1401.0,1034.9 1401.7,1034.8 1402.3,1034.6 1403.0,1034.5 1403.6,1034.5 1404.3,1034.5 1404.9,1034.6 1405.6,1034.6 1406.2,1034.7 1406.9,1034.8 1407.5,1034.9 1408.2,1034.9 1408.8,1034.8 1409.5,1034.6 1410.1,1034.5 1410.8,1034.4 1411.4,1034.5 1412.1,1034.7 1412.8,1034.8 1413.4,1034.7 1414.1,1034.5 1414.7,1034.3 1415.4,1034.4 1416.0,1034.6 1416.7,1034.7 1417.3,1034.6 1418.0,1034.5 1418.6,1034.6 1419.3,1034.7 1419.9,1034.8 1420.6,1034.8 1421.2,1034.7 1421.9,1034.7 1422.5,1034.6 1423.2,1034.6 1423.9,1034.7 1424.5,1034.8 1425.2,1034.9 1425.8,1035.0 1426.5,1035.0 1427.1,1034.9 1427.8,1034.9 1428.4,1034.9 1429.1,1034.8 1429.7,1034.9 1430.4,1034.9 1431.0,1034.9 1431.7,1034.8 1432.3,1034.8 1433.0,1034.9 1433.6,1034.9 1434.3,1035.0 1435.0,1035.0 1435.6,1034.9 1436.3,1035.0 1436.9,1035.1 1437.6,1035.1 1438.2,1035.0 1438.9,1034.9 1439.5,1034.9 1440.2,1034.8 1440.8,1034.8 1441.5,1034.8 1442.1,1034.9 1442.8,1034.8 1443.4,1034.8 1444.1,1034.8 1444.7,1034.9 1445.4,1034.9 1446.1,1034.9 1446.7,1034.9 1447.4,1034.9 1448.0,1035.0 1448.7,1035.1 1449.3,1035.0 1450.0,1034.9 1450.6,1035.0 1451.3,1035.0 1451.9,1035.0 1452.6,1035.0 1453.2,1035.0 1453.9,1035.0 1454.5,1035.0 1455.2,1035.1 1455.8,1035.1 1456.5,1035.1 1457.2,1035.1 1457.8,1035.1 1458.5,1035.1 1459.1,1035.1 1459.8,1035.2 1460.4,1035.2 1461.1,1035.1 1461.7,1035.0 1462.4,1035.0 1463.0,1035.0 1463.7,1035.1 1464.3,1035.1 1465.0,1035.2 1465.6,1035.2 1466.3,1035.2 1466.9,1035.1 1467.6,1035.2 1468.3,1035.2 1468.9,1035.2 1469.6,1035.2 1470.2,1035.2 1470.9,1035.2 1471.5,1035.2 1472.2,1035.1 1472.8,1035.1 1473.5,1035.1 1474.1,1035.2 1474.8,1035.3 1475.4,1035.3 1476.1,1035.3 1476.7,1035.3 1477.4,1035.3 1478.0,1035.3 1478.7,1035.3 1479.4,1035.3 1480.0,1035.3 1480.7,1035.2 1481.3,1035.1 1482.0,1035.1 1482.6,1035.1 1483.3,1035.0 1483.9,1035.1 1484.6,1035.2 1485.2,1035.3 1485.9,1035.3 1486.5,1035.3 1487.2,1035.3 1487.8,1035.3 1488.5,1035.4 1489.1,1035.4 1489.8,1035.3 1490.5,1035.2 1491.1,1035.3 1491.8,1035.2 1492.4,1035.2 1493.1,1035.3 1493.7,1035.4 1494.4,1035.4 1495.0,1035.4 1495.7,1035.3 1496.3,1035.3 1497.0,1035.2 1497.6,1035.1 1498.3,1035.2 1498.9,1035.2 1499.6,1035.2 1500.2,1035.2 1500.9,1035.3 1501.6,1035.4 1502.2,1035.3 1502.9,1035.3 1503.5,1035.3 1504.2,1035.3 1504.8,1035.3 1505.5,1035.3 1506.1,1035.3 1506.8,1035.3 1507.4,1035.4 1508.1,1035.4 1508.7,1035.4 1509.4,1035.4 1510.0,1035.3 1510.7,1035.2 1511.3,1035.3 1512.0,1035.4 1512.7,1035.5 1513.3,1035.4 1514.0,1035.4 1514.6,1035.4 1515.3,1035.3 1515.9,1035.2 1516.6,1035.3 1517.2,1035.3 1517.9,1035.3 1518.5,1035.3 1519.2,1035.3 1519.8,1035.3 1520.5,1035.3 1521.1,1035.2 1521.8,1035.2 1522.4,1035.3 1523.1,1035.4 1523.8,1035.4 1524.4,1035.4 1525.1,1035.4 1525.7,1035.3 1526.4,1035.2 1527.0,1035.2 1527.7,1035.3 1528.3,1035.3 1529.0,1035.3 1529.6,1035.2 1530.3,1035.2 1530.9,1035.3 1531.6,1035.4 1532.2,1035.5 1532.9,1035.5 1533.5,1035.4 1534.2,1035.4 1534.9,1035.4 1535.5,1035.4 1536.2,1035.4 1536.8,1035.5 1537.5,1035.5 1538.1,1035.5 1538.8,1035.5 1539.4,1035.4 1540.1,1035.4 1540.7,1035.3 1541.4,1035.3 1542.0,1035.3 1542.7,1035.3 1543.3,1035.4 1544.0,1035.4 1544.6,1035.4 1545.3,1035.4 1546.0,1035.4 1546.6,1035.4 1547.3,1035.3 1547.9,1035.2 1548.6,1035.3 1549.2,1035.4 1549.9,1035.5 1550.5,1035.5 1551.2,1035.6 1551.8,1035.5 1552.5,1035.4 1553.1,1035.5 1553.8,1035.5 1554.4,1035.4 1555.1,1035.3 1555.7,1035.2 1556.4,1035.2 1557.0,1035.2 1557.7,1035.2 1558.4,1035.2 1559.0,1035.3 1559.7,1035.4 1560.3,1035.5 1561.0,1035.5 1561.6,1035.5 1562.3,1035.5 1562.9,1035.4 1563.6,1035.4 1564.2,1035.4 1564.9,1035.4 1565.5,1035.4 1566.2,1035.4 1566.8,1035.4 1567.5,1035.5 1568.1,1035.6 1568.8,1035.5 1569.5,1035.5 1570.1,1035.4 1570.8,1035.4 1571.4,1035.3 1572.1,1035.3 1572.7,1035.4 1573.4,1035.5 1574.0,1035.6 1574.7,1035.6 1575.3,1035.6 1576.0,1035.5 1576.6,1035.5 1577.3,1035.5 1577.9,1035.5 1578.6,1035.4 1579.2,1035.4 1579.9,1035.5 1580.6,1035.5 1581.2,1035.4 1581.9,1035.5 1582.5,1035.5 1583.2,1035.6 1583.8,1035.5 1584.5,1035.4 1585.1,1035.4 1585.8,1035.5 1586.4,1035.4 1587.1,1035.5 1587.7,1035.5 1588.4,1035.5 1589.0,1035.5 1589.7,1035.5 1590.3,1035.5 1591.0,1035.4 1591.7,1035.4 1592.3,1035.4 1593.0,1035.5 1593.6,1035.5 1594.3,1035.6 1594.9,1035.6 1595.6,1035.5 1596.2,1035.4 1596.9,1035.4 1597.5,1035.5 1598.2,1035.5 1598.8,1035.6 1599.5,1035.6 1600.1,1035.7 1600.8,1035.6 1601.4,1035.5 1602.1,1035.4 1602.8,1035.4 1603.4,1035.5 1604.1,1035.5 1604.7,1035.4 1605.4,1035.4 1606.0,1035.5 1606.7,1035.5 1607.3,1035.6 1608.0,1035.6 1608.6,1035.6 1609.3,1035.5 1609.9,1035.6 1610.6,1035.6 1611.2,1035.5 1611.9,1035.5 1612.5,1035.5 1613.2,1035.6 1613.9,1035.6 1614.5,1035.6 1615.2,1035.5 1615.8,1035.5 1616.5,1035.5 1617.1,1035.6 1617.8,1035.6 1618.4,1035.6 1619.1,1035.5 1619.7,1035.5 1620.4,1035.6 1621.0,1035.6 1621.7,1035.6 1622.3,1035.6 1623.0,1035.6 1623.6,1035.5 1624.3,1035.5 1625.0,1035.6 1625.6,1035.7 1626.3,1035.7 1626.9,1035.7 1627.6,1035.7 1628.2,1035.7 1628.9,1035.6 1629.5,1035.6 1630.2,1035.6 1630.8,1035.6 1631.5,1035.7 1632.1,1035.7 1632.8,1035.6 1633.4,1035.6 1634.1,1035.5 1634.7,1035.5 1635.4,1035.5 1636.1,1035.6 1636.7,1035.6 1637.4,1035.6 1638.0,1035.5 1638.7,1035.5 1639.3,1035.5 1640.0,1035.5 1640.6,1035.5 1641.3,1035.4 1641.9,1035.4 1642.6,1035.4 1643.2,1035.4 1643.9,1035.4 1644.5,1035.4 1645.2,1035.5 1645.8,1035.5 1646.5,1035.5 1647.2,1035.5 1647.8,1035.5 1648.5,1035.6 1649.1,1035.6 1649.8,1035.5 1650.4,1035.5 1651.1,1035.6 1651.7,1035.6 1652.4,1035.7 1653.0,1035.6 1653.7,1035.6 1654.3,1035.6 1655.0,1035.5 1655.6,1035.5 1656.3,1035.5 1656.9,1035.5 1657.6,1035.5 1658.3,1035.6 1658.9,1035.7 1659.6,1035.7 1660.2,1035.7 1660.9,1035.7 1661.5,1035.6 1662.2,1035.5 1662.8,1035.5 1663.5,1035.5 1664.1,1035.6 1664.8,1035.6 1665.4,1035.6 1666.1,1035.6 1666.7,1035.6 1667.4,1035.6 1668.0,1035.6 1668.7,1035.5 1669.4,1035.4 1670.0,1035.4 1670.7,1035.5 1671.3,1035.5 1672.0,1035.5 1672.6,1035.6 1673.3,1035.6 1673.9,1035.6 1674.6,1035.5 1675.2,1035.6 1675.9,1035.7 1676.5,1035.8 1677.2,1035.8 1677.8,1035.7 1678.5,1035.7 1679.1,1035.6 1679.8,1035.5 1680.5,1035.6 1681.1,1035.6 1681.8,1035.7 1682.4,1035.7 1683.1,1035.7 1683.7,1035.6 1684.4,1035.5 1685.0,1035.5 1685.7,1035.5 1686.3,1035.6 1687.0,1035.6 1687.6,1035.6 1688.3,1035.6 1688.9,1035.6 1689.6,1035.6 1690.2,1035.6 1690.9,1035.5 1691.6,1035.6 1692.2,1035.6 1692.9,1035.6 1693.5,1035.6 1694.2,1035.7 1694.8,1035.7 1695.5,1035.8 1696.1,1035.7 1696.8,1035.7 1697.4,1035.7 1698.1,1035.7 1698.7,1035.6 1699.4,1035.6 1700.0,1035.6 1700.7,1035.6 1701.3,1035.6 1702.0,1035.7 1702.7,1035.7 1703.3,1035.7 1704.0,1035.6 1704.6,1035.6 1705.3,1035.6 1705.9,1035.7 1706.6,1035.7 1707.2,1035.7 1707.9,1035.7 1708.5,1035.7 1709.2,1035.6 1709.8,1035.6 1710.5,1035.6 1711.1,1035.6 1711.8,1035.6 1712.4,1035.7 1713.1,1035.7 1713.8,1035.7 1714.4,1035.7 1715.1,1035.6 1715.7,1035.7 1716.4,1035.7 1717.0,1035.7 1717.7,1035.7 1718.3,1035.5 1719.0,1035.4 1719.6,1035.4 1720.3,1035.5 1720.9,1035.6 1721.6,1035.7 1722.2,1035.7 1722.9,1035.7 1723.5,1035.6 1724.2,1035.6 1724.9,1035.7 1725.5,1035.7 1726.2,1035.7 1726.8,1035.6 1727.5,1035.6 1728.1,1035.6 1728.8,1035.7 1729.4,1035.7 1730.1,1035.7 1730.7,1035.7 1731.4,1035.7 1732.0,1035.6 1732.7,1035.6 1733.3,1035.7 1734.0,1035.7 1734.6,1035.7 1735.3,1035.7 1736.0,1035.6 1736.6,1035.6 1737.3,1035.6 1737.9,1035.6 1738.6,1035.6 1739.2,1035.6 1739.9,1035.6 1740.5,1035.6 1741.2,1035.5 1741.8,1035.5 1742.5,1035.6 1743.1,1035.6 1743.8,1035.6 1744.4,1035.7 1745.1,1035.7 1745.7,1035.7 1746.4,1035.6 1747.1,1035.6 1747.7,1035.6 1748.4,1035.6 1749.0,1035.6 1749.7,1035.6 1750.3,1035.6 1751.0,1035.7 1751.6,1035.7 1752.3,1035.6 1752.9,1035.5 1753.6,1035.4 1754.2,1035.5 1754.9,1035.6 1755.5,1035.7 1756.2,1035.8 1756.8,1035.7 1757.5,1035.7 1758.2,1035.7 1758.8,1035.8 1759.5,1035.8 1760.1,1035.7 1760.8,1035.7 1761.4,1035.7 1762.1,1035.7 1762.7,1035.8 1763.4,1035.8 1764.0,1035.8 1764.7,1035.7 1765.3,1035.6 1766.0,1035.6 1766.6,1035.7 1767.3,1035.8 1767.9,1035.8 1768.6,1035.7 1769.3,1035.7 1769.9,1035.6 1770.6,1035.6 1771.2,1035.6 1771.9,1035.7 1772.5,1035.7 1773.2,1035.7 1773.8,1035.7 1774.5,1035.7 1775.1,1035.7 1775.8,1035.7 1776.4,1035.7 1777.1,1035.7 1777.7,1035.6 1778.4,1035.6 1779.0,1035.7 1779.7,1035.8 1780.4,1035.8 1781.0,1035.8 1781.7,1035.8 1782.3,1035.8 1783.0,1035.8 1783.6,1035.8 1784.3,1035.8 1784.9,1035.7 1785.6,1035.7 1786.2,1035.7 1786.9,1035.7 1787.5,1035.7 1788.2,1035.7 1788.8,1035.7 1789.5,1035.7 1790.1,1035.7 1790.8,1035.7 1791.5,1035.8 1792.1,1035.8 1792.8,1035.8 1793.4,1035.7 1794.1,1035.7 1794.7,1035.6 1795.4,1035.6 1796.0,1035.6 1796.7,1035.7 1797.3,1035.6 1798.0,1035.7 1798.6,1035.7 1799.3,1035.8 1799.9,1035.8 1800.6,1035.7 1801.2,1035.7 1801.9,1035.6 1802.6,1035.6 1803.2,1035.6 1803.9,1035.7 1804.5,1035.8 1805.2,1035.8 1805.8,1035.7 1806.5,1035.8 1807.1,1035.8 1807.8,1035.8 1808.4,1035.8 1809.1,1035.7 1809.7,1035.7 1810.4,1035.6 1811.0,1035.6 1811.7,1035.6 1812.3,1035.7 1813.0,1035.7 1813.7,1035.8 1814.3,1035.7 1815.0,1035.7 1815.6,1035.7 1816.3,1035.8 1816.9,1035.8 1817.6,1035.7 1818.2,1035.7 1818.9,1035.7 1819.5,1035.7 1820.2,1035.7 1820.8,1035.7 1821.5,1035.7 1822.1,1035.7 1822.8,1035.8 1823.4,1035.8 1824.1,1035.7 1824.8,1035.6 1825.4,1035.7 1826.1,1035.7 1826.7,1035.7 1827.4,1035.7 1828.0,1035.7 1828.7,1035.7 1829.3,1035.7 1830.0,1035.7 1830.6,1035.6 1831.3,1035.6 1831.9,1035.6 1832.6,1035.7 1833.2,1035.7 1833.9,1035.7 1834.5,1035.7 1835.2,1035.7 1835.9,1035.7 1836.5,1035.7 1837.2,1035.8 1837.8,1035.8 1838.5,1035.8 1839.1,1035.8 1839.8,1035.8 1840.4,1035.8 1841.1,1035.7 1841.7,1035.7 1842.4,1035.7 1843.0,1035.7 1843.7,1035.7 1844.3,1035.7 1845.0,1035.8 1845.6,1035.8 1846.3,1035.8 1847.0,1035.7 1847.6,1035.7 1848.3,1035.7 1848.9,1035.7 1849.6,1035.7 1850.2,1035.6 1850.9,1035.6 1851.5,1035.7 1852.2,1035.7 1852.8,1035.7 1853.5,1035.7 1854.1,1035.7 1854.8,1035.7 1855.4,1035.8 1856.1,1035.8 1856.7,1035.8 1857.4,1035.9 1858.1,1035.9 1858.7,1035.9 1859.4,1035.9 1860.0,1035.9 1860.7,1035.8 1861.3,1035.7 1862.0,1035.7 1862.6,1035.7 1863.3,1035.6 1863.9,1035.6 1864.6,1035.6 1865.2,1035.6 1865.9,1035.6 1866.5,1035.6 1867.2,1035.6 1867.8,1035.7 1868.5,1035.8 1869.2,1035.8 1869.8,1035.7 1870.5,1035.7 1871.1,1035.7 1871.8,1035.8 1872.4,1035.8 1873.1,1035.7 1873.7,1035.6 1874.4,1035.6 1875.0,1035.7 1875.7,1035.7 1876.3,1035.7 1877.0,1035.8 1877.6,1035.8 1878.3,1035.8 1878.9,1035.8 1879.6,1035.8 1880.3,1035.8 1880.9,1035.8 1881.6,1035.8 1882.2,1035.8 1882.9,1035.8 1883.5,1035.8 1884.2,1035.7 1884.8,1035.7 1885.5,1035.8 1886.1,1035.9 1886.8,1035.9 1887.4,1035.9 1888.1,1035.8 1888.7,1035.7 1889.4,1035.6 1890.0,1035.7 1890.7,1035.7 1891.4,1035.7 1892.0,1035.8 1892.7,1035.8 1893.3,1035.7 1894.0,1035.7 1894.6,1035.7 1895.3,1035.8 1895.9,1035.8 1896.6,1035.7 1897.2,1035.7 1897.9,1035.7 1898.5,1035.7 1899.2,1035.7 1899.8,1035.7 1900.5,1035.7 1901.1,1035.7 1901.8,1035.7 1902.5,1035.7 1903.1,1035.7 1903.8,1035.8 1904.4,1035.8 1905.1,1035.8 1905.7,1035.7 1906.4,1035.8 1907.0,1035.8 1907.7,1035.8 1908.3,1035.8 1909.0,1035.8 1909.6,1035.8 1910.3,1035.8 1910.9,1035.9 1911.6,1035.8 1912.2,1035.8 1912.9,1035.8 1913.6,1035.7 1914.2,1035.7 1914.9,1035.7 1915.5,1035.7 1916.2,1035.7 1916.8,1035.7 1917.5,1035.7 1918.1,1035.7 1918.8,1035.7 1919.4,1035.8 1920.1,1035.8 1920.7,1035.8 1921.4,1035.8 1922.0,1035.8 1922.7,1035.9 1923.3,1035.8 1924.0,1035.8 1924.7,1035.8 1925.3,1035.8 1926.0,1035.8 1926.6,1035.8 1927.3,1035.8 1927.9,1035.8 1928.6,1035.7 1929.2,1035.7 1929.9,1035.7 1930.5,1035.8 1931.2,1035.8 1931.8,1035.8 1932.5,1035.8 1933.1,1035.8 1933.8,1035.8 1934.4,1035.8 1935.1,1035.8 1935.8,1035.8 1936.4,1035.8 1937.1,1035.9 1937.7,1035.8 1938.4,1035.8 1939.0,1035.7 1939.7,1035.7 1940.3,1035.8 1941.0,1035.9 1941.6,1035.9 1942.3,1035.9 1942.9,1035.9 1943.6,1035.8 1944.2,1035.7 1944.9,1035.8 1945.5,1035.8 1946.2,1035.7 1946.9,1035.7 1947.5,1035.7 1948.2,1035.8 1948.8,1035.8 1949.5,1035.8 1950.1,1035.8 1950.8,1035.7 1951.4,1035.8 1952.1,1035.8 1952.7,1035.8 1953.4,1035.7 1954.0,1035.7 1954.7,1035.7 1955.3,1035.8 1956.0,1035.8 1956.6,1035.8 1957.3,1035.7 1958.0,1035.7 1958.6,1035.7 1959.3,1035.7 1959.9,1035.8 1960.6,1035.9 1961.2,1035.9 1961.9,1035.9 1962.5,1035.8 1963.2,1035.8 1963.8,1035.8 1964.5,1035.8 1965.1,1035.8 1965.8,1035.8 1966.4,1035.8 1967.1,1035.9 1967.7,1035.9 1968.4,1035.8 1969.1,1035.8 1969.7,1035.8 1970.4,1035.9 1971.0,1035.9 1971.7,1035.8 1972.3,1035.8 1973.0,1035.8 1973.6,1035.8 1974.3,1035.8 1974.9,1035.8 1975.6,1035.8 1976.2,1035.8 1976.9,1035.8 1977.5,1035.8 1978.2,1035.8 1978.8,1035.8 1979.5,1035.8 1980.2,1035.9 1980.8,1035.9 1981.5,1035.9 1982.1,1035.8 1982.8,1035.8 1983.4,1035.7 1984.1,1035.7 1984.7,1035.8 1985.4,1035.8 1986.0,1035.8 1986.7,1035.8 1987.3,1035.8 1988.0,1035.8 1988.6,1035.8 1989.3,1035.8 1989.9,1035.8 1990.6,1035.8 1991.3,1035.8 1991.9,1035.8 1992.6,1035.8 1993.2,1035.9 1993.9,1035.9 1994.5,1035.8 1995.2,1035.8 1995.8,1035.7 1996.5,1035.7 1997.1,1035.7 1997.8,1035.8 1998.4,1035.8 1999.1,1035.8 1999.7,1035.8 2000.4,1035.7 2001.0,1035.7 2001.7,1035.7 2002.4,1035.7 2003.0,1035.7 2003.7,1035.7 2004.3,1035.7 2005.0,1035.8 2005.6,1035.8 2006.3,1035.8 2006.9,1035.8 2007.6,1035.8 2008.2,1035.8 2008.9,1035.7 2009.5,1035.8 2010.2,1035.8 2010.8,1035.8 2011.5,1035.8 2012.1,1035.8 2012.8,1035.8 2013.5,1035.8 2014.1,1035.9 2014.8,1035.9 2015.4,1035.8 2016.1,1035.9 2016.7,1035.9 2017.4,1035.9 2018.0,1035.9 2018.7,1035.8 2019.3,1035.8 2020.0,1035.8 2020.6,1035.9 2021.3,1035.9 2021.9,1035.8 2022.6,1035.7 2023.2,1035.8 2023.9,1035.9 2024.6,1035.9 2025.2,1035.9 2025.9,1035.9 2026.5,1035.9 2027.2,1035.9 2027.8,1035.8 2028.5,1035.8 2029.1,1035.8 2029.8,1035.8 2030.4,1035.8 2031.1,1035.8 2031.7,1035.7 2032.4,1035.7 2033.0,1035.7 2033.7,1035.8 2034.3,1035.9 2035.0,1035.9 2035.7,1035.9 2036.3,1035.9 2037.0,1035.8 2037.6,1035.7 2038.3,1035.7 2038.9,1035.8 2039.6,1035.8 2040.2,1035.8 2040.9,1035.8 2041.5,1035.7 2042.2,1035.8 2042.8,1035.8 2043.5,1035.8 2044.1,1035.8 2044.8,1035.8 2045.4,1035.7 2046.1,1035.7 2046.8,1035.8 2047.4,1035.8 2048.1,1035.9 2048.7,1035.9 2049.4,1035.9 2050.0,1035.8 2050.7,1035.7 2051.3,1035.8 2052.0,1035.8 2052.6,1035.8 2053.3,1035.8 2053.9,1035.8 2054.6,1035.8 2055.2,1035.7 2055.9,1035.8 2056.5,1035.8 2057.2,1035.8 2057.8,1035.9 2058.5,1035.8 2059.2,1035.8 2059.8,1035.8 2060.5,1035.9 2061.1,1035.9 2061.8,1035.8 2062.4,1035.9 2063.1,1035.9 2063.7,1035.9 2064.4,1035.9 2065.0,1035.8 2065.7,1035.9 2066.3,1035.9 2067.0,1035.8 2067.6,1035.8 2068.3,1035.8 2068.9,1035.9 2069.6,1035.9 2070.3,1035.9 2070.9,1035.8 2071.6,1035.8 2072.2,1035.8 2072.9,1035.9 2073.5,1035.9 2074.2,1035.9 2074.8,1035.9 2075.5,1035.9 2076.1,1035.9 2076.8,1035.9 2077.4,1035.8 2078.1,1035.8 2078.7,1035.8 2079.4,1035.8 2080.0,1035.7 2080.7,1035.7 2081.4,1035.7 2082.0,1035.8 2082.7,1035.8 2083.3,1035.7 2084.0,1035.7 2084.6,1035.7 2085.3,1035.8 2085.9,1035.8 2086.6,1035.7 2087.2,1035.7 2087.9,1035.7 2088.5,1035.8 2089.2,1035.8 2089.8,1035.8 2090.5,1035.8 2091.1,1035.8 2091.8,1035.9 2092.5,1035.9 2093.1,1035.9 2093.8,1035.8 2094.4,1035.8 2095.1,1035.9 2095.7,1035.9 2096.4,1035.9 2097.0,1035.8 2097.7,1035.8 2098.3,1035.8 2099.0,1035.9 2099.6,1035.9 2100.3,1035.9 2100.9,1035.9 2101.6,1035.9 2102.2,1035.9 2102.9,1035.9 2103.6,1035.9 2104.2,1035.9 2104.9,1035.8 2105.5,1035.8 2106.2,1035.8 2106.8,1035.7 2107.5,1035.7 2108.1,1035.8 2108.8,1035.8 2109.4,1035.8 2110.1,1035.8 2110.7,1035.8 2111.4,1035.8 2112.0,1035.8 2112.7,1035.7 2113.3,1035.7 2114.0,1035.7 2114.7,1035.7 2115.3,1035.7 2116.0,1035.8 2116.6,1035.9 2117.3,1036.0 2117.9,1035.9 2118.6,1035.9 2119.2,1035.9 2119.9,1035.9 2120.5,1035.9 2121.2,1035.8 2121.8,1035.8 2122.5,1035.9 2123.1,1035.9 2123.8,1035.9 2124.4,1035.9 2125.1,1035.9 2125.8,1035.9 2126.4,1035.9 2127.1,1035.9 2127.7,1035.8 2128.4,1035.8 2129.0,1035.9 2129.7,1035.9 2130.3,1035.9 2131.0,1035.9 2131.6,1035.9 2132.3,1035.9 2132.9,1035.9 2133.6,1035.9 2134.2,1035.9 2134.9,1035.9 2135.5,1035.9 2136.2,1035.9 2136.9,1035.9 2137.5,1035.8 2138.2,1035.9 2138.8,1035.9 2139.5,1035.9 2140.1,1035.9 2140.8,1035.9 2141.4,1035.8 2142.1,1035.8 2142.7,1035.8 2143.4,1035.9 2144.0,1035.9 2144.7,1036.0 2145.3,1036.0 2146.0,1035.9 2146.6,1035.9 2147.3,1035.9 2148.0,1035.9 2148.6,1035.9 2149.3,1035.8 2149.9,1035.7 2150.6,1035.7 2151.2,1035.7 2151.9,1035.8 2152.5,1035.9 2153.2,1035.9 2153.8,1035.9 2154.5,1035.9 2155.1,1035.9 2155.8,1035.9 2156.4,1035.9 2157.1,1035.8 2157.7,1035.8 2158.4,1035.8 2159.1,1035.8 2159.7,1035.9 2160.4,1035.9 2161.0,1035.9 2161.7,1035.9 2162.3,1035.9 2163.0,1035.9 2163.6,1035.9 2164.3,1035.9 2164.9,1035.8 2165.6,1035.8 2166.2,1035.8 2166.9,1035.9 2167.5,1036.0 2168.2,1036.0 2168.8,1036.0 2169.5,1035.9 2170.2,1035.9 2170.8,1035.9 2171.5,1035.9 2172.1,1035.9 2172.8,1035.9 2173.4,1035.9 2174.1,1035.9 2174.7,1035.9 2175.4,1035.9 2176.0,1035.8 2176.7,1035.8 2177.3,1035.8 2178.0,1035.8 2178.6,1035.8 2179.3,1035.7 2179.9,1035.7 2180.6,1035.8 2181.3,1035.9 2181.9,1035.9 2182.6,1035.9 2183.2,1036.0 2183.9,1035.9 2184.5,1035.8 2185.2,1035.8 2185.8,1035.8 2186.5,1035.8 2187.1,1035.8 2187.8,1035.8 2188.4,1035.8 2189.1,1035.8 2189.7,1035.9 2190.4,1035.9 2191.0,1035.8 2191.7,1035.8 2192.4,1035.8 2193.0,1035.8 2193.7,1035.7 2194.3,1035.7 2195.0,1035.7 2195.6,1035.8 2196.3,1035.9 2196.9,1036.0 2197.6,1036.0 2198.2,1035.9 2198.9,1035.9 2199.5,1035.8 2200.2,1035.8 2200.8,1035.8 2201.5,1035.8 2202.1,1035.8 2202.8,1035.8 2203.5,1035.8 2204.1,1035.8 2204.8,1035.9 2205.4,1035.9 2206.1,1035.9 2206.7,1035.8 2207.4,1035.8 2208.0,1035.7 2208.7,1035.8 2209.3,1035.8 2210.0,1035.9 2210.6,1035.9 2211.3,1035.9 2211.9,1035.9 2212.6,1035.9 2213.2,1035.9 2213.9,1035.9 2214.6,1035.9 2215.2,1035.9 2215.9,1035.9 2216.5,1036.0 2217.2,1036.0 2217.8,1035.9 2218.5,1035.9 2219.1,1035.8 2219.8,1035.8 2220.4,1035.8 2221.1,1035.9 2221.7,1035.9 2222.4,1035.9 2223.0,1035.9 2223.7,1035.8 2224.3,1035.8 2225.0,1035.9 2225.7,1035.9 2226.3,1035.9 2227.0,1035.9 2227.6,1035.9 2228.3,1035.9 2228.9,1035.9 2229.6,1035.9 2230.2,1035.9 2230.9,1035.9 2231.5,1035.9 2232.2,1035.9 2232.8,1036.0 2233.5,1036.0 2234.1,1036.0 2234.8,1035.9 2235.4,1035.9 2236.1,1035.9 2236.8,1035.8 2237.4,1035.8 2238.1,1035.8 2238.7,1035.9 2239.4,1035.9 2240.0,1035.9 2240.7,1035.9 2241.3,1035.9 2242.0,1035.9 2242.6,1035.9 2243.3,1035.8 2243.9,1035.8 2244.6,1035.8 2245.2,1035.9 2245.9,1035.9 2246.5,1035.9 2247.2,1035.9 2247.9,1035.9 2248.5,1035.9 2249.2,1035.9 2249.8,1035.9 2250.5,1035.9 2251.1,1035.8 2251.8,1035.8 2252.4,1035.9 2253.1,1035.9 2253.7,1036.0 2254.4,1036.0 2255.0,1036.0 2255.7,1035.9 2256.3,1035.9 2257.0,1036.0 2257.6,1036.0 2258.3,1035.9 2259.0,1035.8 2259.6,1035.9 2260.3,1035.9 2260.9,1035.9 2261.6,1035.9 2262.2,1035.9 2262.9,1035.8 2263.5,1035.8 2264.2,1035.8 2264.8,1035.8 2265.5,1035.8 2266.1,1035.9 2266.8,1035.8 2267.4,1035.8 2268.1,1035.8 2268.7,1035.9 2269.4,1035.9 2270.1,1035.9 2270.7,1035.9 2271.4,1035.9 2272.0,1035.9 2272.7,1035.9 2273.3,1035.9 2274.0,1035.9 2274.6,1035.9 2275.3,1035.9 2275.9,1035.8 2276.6,1035.8 2277.2,1035.8 2277.9,1035.9 2278.5,1035.8 2279.2,1035.8 2279.8,1035.8 2280.5,1035.8 2281.2,1035.9 2281.8,1036.0 2282.5,1036.0 2283.1,1035.9 2283.8,1035.9 2284.4,1035.9 2285.1,1036.0 2285.7,1036.0 2286.4,1035.9 2287.0,1035.9 2287.7,1035.8 2288.3,1035.9 2289.0,1035.9 2289.6,1035.8 2290.3,1035.8 2290.9,1035.8 2291.3,1035.8"/>
</g>
<path d="M332.80 1085.94 v-20.7 M332.80 15.33 v20.7 M659.27 1085.94 v-20.7 M659.27 15.33 v20.7 M985.73 1085.94 v-20.7 M985.73 15.33 v20.7 M1312.20 1085.94 v-20.7 M1312.20 15.33 v20.7 M1638.67 1085.94 v-20.7 M1638.67 15.33 v20.7 M1965.13 1085.94 v-20.7 M1965.13 15.33 v20.7 M2291.60 1085.94 v-20.7 M2291.60 15.33 v20.7 M235.92 1036.95 h20.7 M2389.84 1036.95 h-20.7 M235.92 881.69 h20.7 M2389.84 881.69 h-20.7 M235.92 726.43 h20.7 M2389.84 726.43 h-20.7 M235.92 571.17 h20.7 M2389.84 571.17 h-20.7 M235.92 415.91 h20.7 M2389.84 415.91 h-20.7 M235.92 260.65 h20.7 M2389.84 260.65 h-20.7 M235.92 105.39 h20.7 M2389.84 105.39 h-20.7" stroke="#000" stroke-width="4.17" fill="none"/>
<path d="M267.50 1085.94 v-11.0 M267.50 15.33 v11.0 M398.50 1085.94 v-11.0 M398.50 15.33 v11.0 M463.50 1085.94 v-11.0 M463.50 15.33 v11.0 M528.50 1085.94 v-11.0 M528.50 15.33 v11.0 M593.50 1085.94 v-11.0 M593.50 15.33 v11.0 M724.50 1085.94 v-11.0 M724.50 15.33 v11.0 M789.50 1085.94 v-11.0 M789.50 15.33 v11.0 M855.50 1085.94 v-11.0 M855.50 15.33 v11.0 M920.50 1085.94 v-11.0 M920.50 15.33 v11.0 M1051.50 1085.94 v-11.0 M1051.50 15.33 v11.0 M1116.50 1085.94 v-11.0 M1116.50 15.33 v11.0 M1181.50 1085.94 v-11.0 M1181.50 15.33 v11.0 M1246.50 1085.94 v-11.0 M1246.50 15.33 v11.0 M1377.50 1085.94 v-11.0 M1377.50 15.33 v11.0 M1442.50 1085.94 v-11.0 M1442.50 15.33 v11.0 M1508.50 1085.94 v-11.0 M1508.50 15.33 v11.0 M1573.50 1085.94 v-11.0 M1573.50 15.33 v11.0 M1703.50 1085.94 v-11.0 M1703.50 15.33 v11.0 M1769.50 1085.94 v-11.0 M1769.50 15.33 v11.0 M1834.50 1085.94 v-11.0 M1834.50 15.33 v11.0 M1899.50 1085.94 v-11.0 M1899.50 15.33 v11.0 M2030.50 1085.94 v-11.0 M2030.50 15.33 v11.0 M2095.50 1085.94 v-11.0 M2095.50 15.33 v11.0 M2161.50 1085.94 v-11.0 M2161.50 15.33 v11.0 M2226.50 1085.94 v-11.0 M2226.50 15.33 v11.0 M2356.50 1085.94 v-11.0 M2356.50 15.33 v11.0 M235.92 1068.50 h11.0 M2389.84 1068.50 h-11.0 M235.92 1005.50 h11.0 M2389.84 1005.50 h-11.0 M235.92 974.50 h11.0 M2389.84 974.50 h-11.0 M235.92 943.50 h11.0 M2389.84 943.50 h-11.0 M235.92 912.50 h11.0 M2389.84 912.50 h-11.0 M235.92 850.50 h11.0 M2389.84 850.50 h-11.0 M235.92 819.50 h11.0 M2389.84 819.50 h-11.0 M235.92 788.50 h11.0 M2389.84 788.50 h-11.0 M235.92 757.50 h11.0 M2389.84 757.50 h-11.0 M235.92 695.50 h11.0 M2389.84 695.50 h-11.0 M235.92 664.50 h11.0 M2389.84 664.50 h-11.0 M235.92 633.50 h11.0 M2389.84 633.50 h-11.0 M235.92 602.50 h11.0 M2389.84 602.50 h-11.0 M235.92 540.50 h11.0 M2389.84 540.50 h-11.0 M235.92 509.50 h11.0 M2389.84 509.50 h-11.0 M235.92 478.50 h11.0 M2389.84 478.50 h-11.0 M235.92 446.50 h11.0 M2389.84 446.50 h-11.0 M235.92 384.50 h11.0 M2389.84 384.50 h-11.0 M235.92 353.50 h11.0 M2389.84 353.50 h-11.0 M235.92 322.50 h11.0 M2389.84 322.50 h-11.0 M235.92 291.50 h11.0 M2389.84 291.50 h-11.0 M235.92 229.50 h11.0 M2389.84 229.50 h-11.0 M235.92 198.50 h11.0 M2389.84 198.50 h-11.0 M235.92 167.50 h11.0 M2389.84 167.50 h-11.0 M235.92 136.50 h11.0 M2389.84 136.50 h-11.0 M235.92 74.50 h11.0 M2389.84 74.50 h-11.0 M235.92 43.50 h11.0 M2389.84 43.50 h-11.0" stroke="#000" stroke-width="3.6" fill="none"/>
<rect x="235.92" y="15.33" width="2153.92" height="1070.61" fill="none" stroke="#000" stroke-width="4.17" stroke-linejoin="miter"/>
<text class="tk" x="332.80" y="1152.6" text-anchor="middle">0</text>
<text class="tk" x="659.27" y="1152.6" text-anchor="middle">1000</text>
<text class="tk" x="985.73" y="1152.6" text-anchor="middle">2000</text>
<text class="tk" x="1312.20" y="1152.6" text-anchor="middle">3000</text>
<text class="tk" x="1638.67" y="1152.6" text-anchor="middle">4000</text>
<text class="tk" x="1965.13" y="1152.6" text-anchor="middle">5000</text>
<text class="tk" x="2291.60" y="1152.6" text-anchor="middle">6000</text>
<text class="tk" x="216.3" y="1061.65" text-anchor="end">0.0</text>
<text class="tk" x="216.3" y="906.39" text-anchor="end">0.1</text>
<text class="tk" x="216.3" y="751.13" text-anchor="end">0.2</text>
<text class="tk" x="216.3" y="595.87" text-anchor="end">0.3</text>
<text class="tk" x="216.3" y="440.61" text-anchor="end">0.4</text>
<text class="tk" x="216.3" y="285.35" text-anchor="end">0.5</text>
<text class="tk" x="216.3" y="130.09" text-anchor="end">0.6</text>
<text class="lb" x="1310.7" y="1264" text-anchor="middle">Iterations</text>
<text class="lb" transform="translate(87.5,555.2) rotate(-90)" text-anchor="middle">Loss</text>
<rect x="1205.5" y="53.5" width="1145.1" height="353.0" rx="15" ry="15" fill="#fff" fill-opacity="0.8" stroke="rgb(214,214,214)" stroke-width="4.8"/>
<line x1="1233.3" x2="1395" y1="111.35" y2="111.35" stroke="rgb(201,21,28)" stroke-opacity="0.7" stroke-width="8.33"/>
<text class="lg" x="1453.9" y="140.60">Training loss of transformer</text>
<line x1="1233.3" x2="1395" y1="221.1" y2="221.1" stroke="rgb(1,148,78)" stroke-opacity="0.7" stroke-width="8.33"/>
<text class="lg" x="1453.9" y="250.35">Training loss of BiLSTM</text>
<line x1="1233.3" x2="1395" y1="332.1" y2="332.1" stroke="rgb(66,84,112)" stroke-opacity="0.7" stroke-width="8.33"/>
<text class="lg" x="1453.9" y="361.35">Training loss of BiGRU</text>
</svg></body></html>
